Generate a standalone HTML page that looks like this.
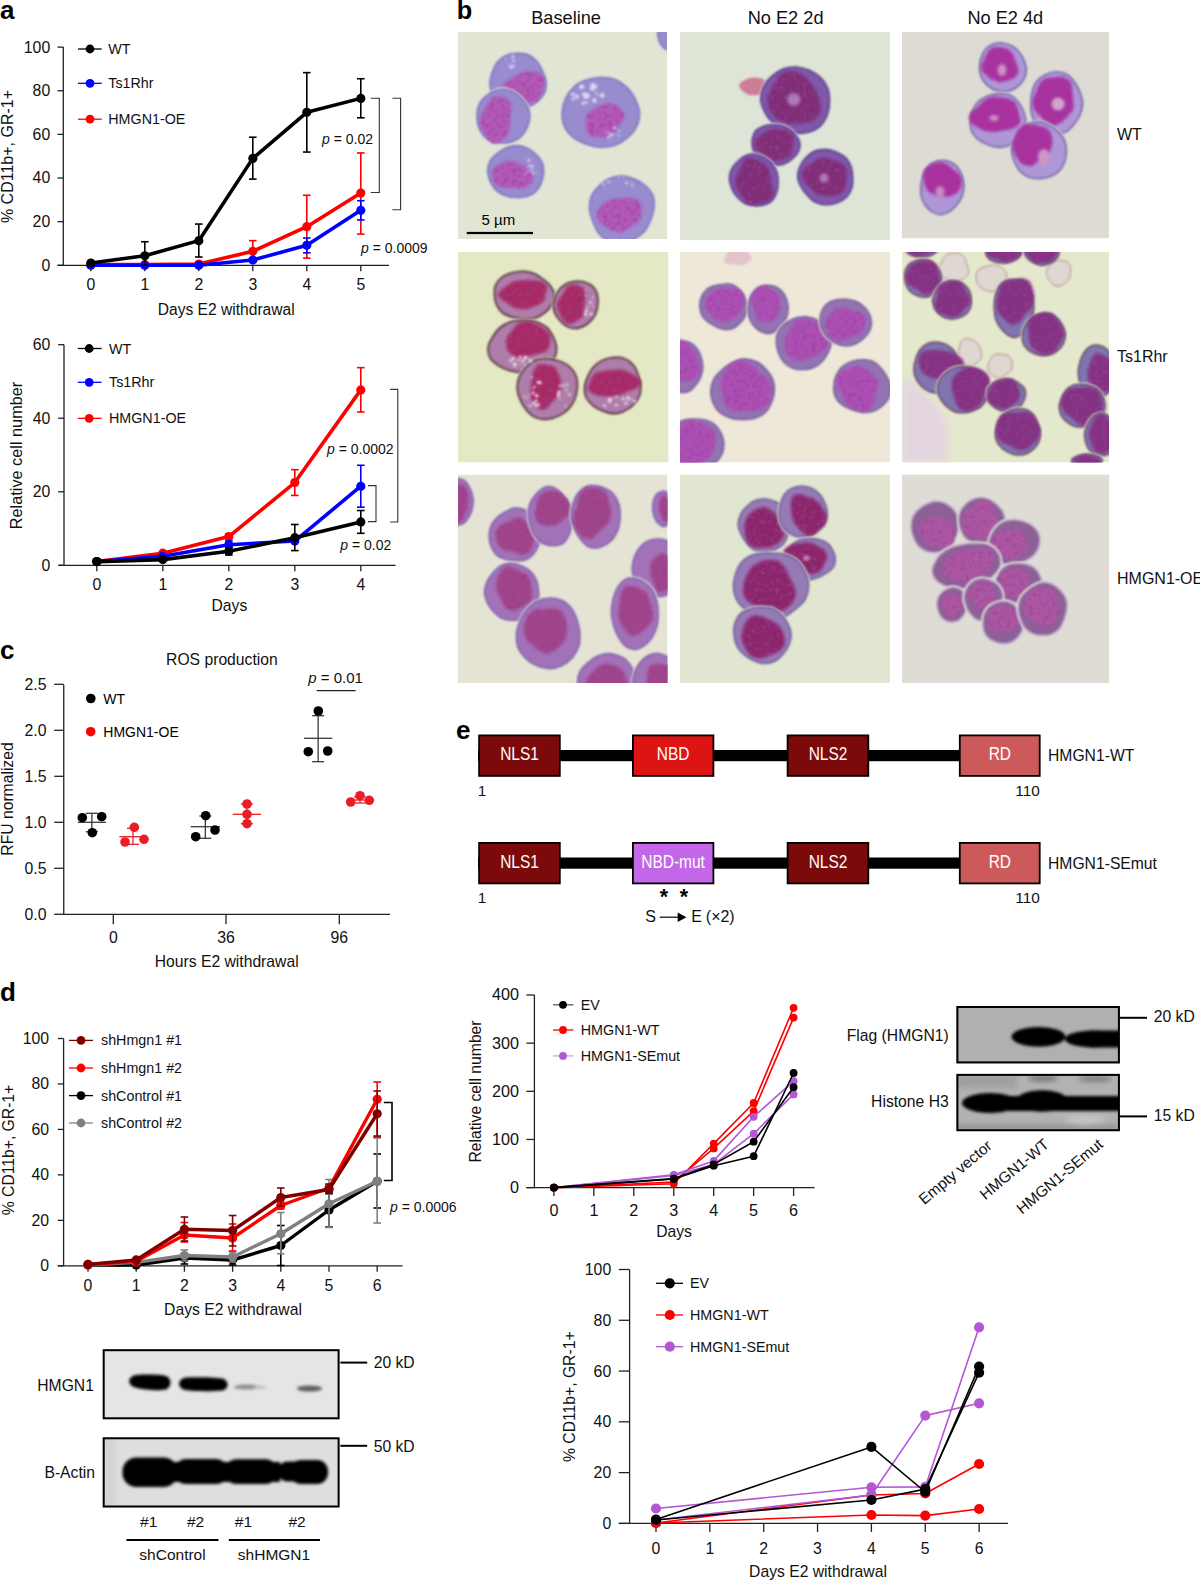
<!DOCTYPE html><html><head><meta charset="utf-8"><style>html,body{margin:0;padding:0;background:#fff;}svg{display:block;}</style></head><body>
<svg width="1200" height="1581" viewBox="0 0 1200 1581" font-family='"Liberation Sans", sans-serif'>
<rect width="1200" height="1581" fill="#fff"/>
<text x="0.0" y="19.3" font-size="26" text-anchor="start" fill="#000" font-weight="bold" font-style="normal" >a</text>
<line x1="63.30" y1="47.10" x2="63.30" y2="265.30" stroke="#222" stroke-width="1.3" />
<line x1="57.50" y1="265.30" x2="63.30" y2="265.30" stroke="#222" stroke-width="1.3" />
<text x="50.2" y="270.7" font-size="15.8" text-anchor="end" fill="#111" font-weight="normal" font-style="normal" >0</text>
<line x1="57.50" y1="221.66" x2="63.30" y2="221.66" stroke="#222" stroke-width="1.3" />
<text x="50.2" y="227.1" font-size="15.8" text-anchor="end" fill="#111" font-weight="normal" font-style="normal" >20</text>
<line x1="57.50" y1="178.02" x2="63.30" y2="178.02" stroke="#222" stroke-width="1.3" />
<text x="50.2" y="183.4" font-size="15.8" text-anchor="end" fill="#111" font-weight="normal" font-style="normal" >40</text>
<line x1="57.50" y1="134.38" x2="63.30" y2="134.38" stroke="#222" stroke-width="1.3" />
<text x="50.2" y="139.8" font-size="15.8" text-anchor="end" fill="#111" font-weight="normal" font-style="normal" >60</text>
<line x1="57.50" y1="90.74" x2="63.30" y2="90.74" stroke="#222" stroke-width="1.3" />
<text x="50.2" y="96.1" font-size="15.8" text-anchor="end" fill="#111" font-weight="normal" font-style="normal" >80</text>
<line x1="57.50" y1="47.10" x2="63.30" y2="47.10" stroke="#222" stroke-width="1.3" />
<text x="50.2" y="52.5" font-size="15.8" text-anchor="end" fill="#111" font-weight="normal" font-style="normal" >100</text>
<line x1="57.50" y1="265.30" x2="389.00" y2="265.30" stroke="#222" stroke-width="1.3" />
<line x1="90.80" y1="265.30" x2="90.80" y2="271.30" stroke="#222" stroke-width="1.3" />
<text x="90.8" y="290.0" font-size="15.8" text-anchor="middle" fill="#111" font-weight="normal" font-style="normal" >0</text>
<line x1="144.80" y1="265.30" x2="144.80" y2="271.30" stroke="#222" stroke-width="1.3" />
<text x="144.8" y="290.0" font-size="15.8" text-anchor="middle" fill="#111" font-weight="normal" font-style="normal" >1</text>
<line x1="198.80" y1="265.30" x2="198.80" y2="271.30" stroke="#222" stroke-width="1.3" />
<text x="198.8" y="290.0" font-size="15.8" text-anchor="middle" fill="#111" font-weight="normal" font-style="normal" >2</text>
<line x1="252.80" y1="265.30" x2="252.80" y2="271.30" stroke="#222" stroke-width="1.3" />
<text x="252.8" y="290.0" font-size="15.8" text-anchor="middle" fill="#111" font-weight="normal" font-style="normal" >3</text>
<line x1="306.80" y1="265.30" x2="306.80" y2="271.30" stroke="#222" stroke-width="1.3" />
<text x="306.8" y="290.0" font-size="15.8" text-anchor="middle" fill="#111" font-weight="normal" font-style="normal" >4</text>
<line x1="360.80" y1="265.30" x2="360.80" y2="271.30" stroke="#222" stroke-width="1.3" />
<text x="360.8" y="290.0" font-size="15.8" text-anchor="middle" fill="#111" font-weight="normal" font-style="normal" >5</text>
<text x="226.2" y="314.8" font-size="15.6" text-anchor="middle" fill="#111" font-weight="normal" font-style="normal" >Days E2 withdrawal</text>
<text x="0" y="0" font-size="16" text-anchor="middle" fill="#111" transform="translate(13.2,156.5) rotate(-90)">% CD11b+, GR-1+</text>
<line x1="252.80" y1="240.64" x2="252.80" y2="262.03" stroke="#ff0000" stroke-width="1.6" />
<line x1="249.00" y1="240.64" x2="256.60" y2="240.64" stroke="#ff0000" stroke-width="1.6" />
<line x1="249.00" y1="262.03" x2="256.60" y2="262.03" stroke="#ff0000" stroke-width="1.6" />
<line x1="306.80" y1="195.26" x2="306.80" y2="258.10" stroke="#ff0000" stroke-width="1.6" />
<line x1="303.00" y1="195.26" x2="310.60" y2="195.26" stroke="#ff0000" stroke-width="1.6" />
<line x1="303.00" y1="258.10" x2="310.60" y2="258.10" stroke="#ff0000" stroke-width="1.6" />
<line x1="360.80" y1="152.93" x2="360.80" y2="234.10" stroke="#ff0000" stroke-width="1.6" />
<line x1="357.00" y1="152.93" x2="364.60" y2="152.93" stroke="#ff0000" stroke-width="1.6" />
<line x1="357.00" y1="234.10" x2="364.60" y2="234.10" stroke="#ff0000" stroke-width="1.6" />
<polyline points="90.80,264.65 144.80,264.65 198.80,263.99 252.80,251.34 306.80,226.68 360.80,193.08" fill="none" stroke="#ff0000" stroke-width="3.6" stroke-linejoin="round" />
<circle cx="90.80" cy="264.65" r="4.6" fill="#ff0000"/>
<circle cx="144.80" cy="264.65" r="4.6" fill="#ff0000"/>
<circle cx="198.80" cy="263.99" r="4.6" fill="#ff0000"/>
<circle cx="252.80" cy="251.34" r="4.6" fill="#ff0000"/>
<circle cx="306.80" cy="226.68" r="4.6" fill="#ff0000"/>
<circle cx="360.80" cy="193.08" r="4.6" fill="#ff0000"/>
<line x1="306.80" y1="238.03" x2="306.80" y2="252.86" stroke="#0000ff" stroke-width="1.6" />
<line x1="303.00" y1="238.03" x2="310.60" y2="238.03" stroke="#0000ff" stroke-width="1.6" />
<line x1="303.00" y1="252.86" x2="310.60" y2="252.86" stroke="#0000ff" stroke-width="1.6" />
<line x1="360.80" y1="200.71" x2="360.80" y2="219.91" stroke="#0000ff" stroke-width="1.6" />
<line x1="357.00" y1="200.71" x2="364.60" y2="200.71" stroke="#0000ff" stroke-width="1.6" />
<line x1="357.00" y1="219.91" x2="364.60" y2="219.91" stroke="#0000ff" stroke-width="1.6" />
<polyline points="90.80,265.30 144.80,265.30 198.80,265.30 252.80,260.06 306.80,245.23 360.80,210.31" fill="none" stroke="#0000ff" stroke-width="3.6" stroke-linejoin="round" />
<circle cx="90.80" cy="265.30" r="4.6" fill="#0000ff"/>
<circle cx="144.80" cy="265.30" r="4.6" fill="#0000ff"/>
<circle cx="198.80" cy="265.30" r="4.6" fill="#0000ff"/>
<circle cx="252.80" cy="260.06" r="4.6" fill="#0000ff"/>
<circle cx="306.80" cy="245.23" r="4.6" fill="#0000ff"/>
<circle cx="360.80" cy="210.31" r="4.6" fill="#0000ff"/>
<line x1="144.80" y1="241.73" x2="144.80" y2="265.30" stroke="#000" stroke-width="1.6" />
<line x1="141.00" y1="241.73" x2="148.60" y2="241.73" stroke="#000" stroke-width="1.6" />
<line x1="141.00" y1="265.30" x2="148.60" y2="265.30" stroke="#000" stroke-width="1.6" />
<line x1="198.80" y1="224.06" x2="198.80" y2="257.01" stroke="#000" stroke-width="1.6" />
<line x1="195.00" y1="224.06" x2="202.60" y2="224.06" stroke="#000" stroke-width="1.6" />
<line x1="195.00" y1="257.01" x2="202.60" y2="257.01" stroke="#000" stroke-width="1.6" />
<line x1="252.80" y1="137.22" x2="252.80" y2="179.11" stroke="#000" stroke-width="1.6" />
<line x1="249.00" y1="137.22" x2="256.60" y2="137.22" stroke="#000" stroke-width="1.6" />
<line x1="249.00" y1="179.11" x2="256.60" y2="179.11" stroke="#000" stroke-width="1.6" />
<line x1="306.80" y1="72.63" x2="306.80" y2="152.05" stroke="#000" stroke-width="1.6" />
<line x1="303.00" y1="72.63" x2="310.60" y2="72.63" stroke="#000" stroke-width="1.6" />
<line x1="303.00" y1="152.05" x2="310.60" y2="152.05" stroke="#000" stroke-width="1.6" />
<line x1="360.80" y1="78.74" x2="360.80" y2="117.80" stroke="#000" stroke-width="1.6" />
<line x1="357.00" y1="78.74" x2="364.60" y2="78.74" stroke="#000" stroke-width="1.6" />
<line x1="357.00" y1="117.80" x2="364.60" y2="117.80" stroke="#000" stroke-width="1.6" />
<polyline points="90.80,263.01 144.80,255.81 198.80,240.64 252.80,158.38 306.80,112.34 360.80,98.38" fill="none" stroke="#000" stroke-width="3.6" stroke-linejoin="round" />
<circle cx="90.80" cy="263.01" r="4.6" fill="#000"/>
<circle cx="144.80" cy="255.81" r="4.6" fill="#000"/>
<circle cx="198.80" cy="240.64" r="4.6" fill="#000"/>
<circle cx="252.80" cy="158.38" r="4.6" fill="#000"/>
<circle cx="306.80" cy="112.34" r="4.6" fill="#000"/>
<circle cx="360.80" cy="98.38" r="4.6" fill="#000"/>
<line x1="78.00" y1="49.00" x2="101.70" y2="49.00" stroke="#000" stroke-width="1.3" />
<circle cx="90.00" cy="49.00" r="4.4" fill="#000"/>
<text x="108.3" y="54.0" font-size="14.3" text-anchor="start" fill="#111" font-weight="normal" font-style="normal" >WT</text>
<line x1="78.00" y1="83.30" x2="101.70" y2="83.30" stroke="#0000ff" stroke-width="1.3" />
<circle cx="90.00" cy="83.30" r="4.4" fill="#0000ff"/>
<text x="108.3" y="88.3" font-size="14.3" text-anchor="start" fill="#111" font-weight="normal" font-style="normal" >Ts1Rhr</text>
<line x1="78.00" y1="119.20" x2="101.70" y2="119.20" stroke="#ff0000" stroke-width="1.3" />
<circle cx="90.00" cy="119.20" r="4.4" fill="#ff0000"/>
<text x="108.3" y="124.2" font-size="14.3" text-anchor="start" fill="#111" font-weight="normal" font-style="normal" >HMGN1-OE</text>
<polyline points="370.7,98.3 379.3,98.3 379.3,192.5 370.7,192.5" fill="none" stroke="#333" stroke-width="1.1"/>
<polyline points="392.4,98.3 400.6,98.3 400.6,209.8 392.4,209.8" fill="none" stroke="#333" stroke-width="1.1"/>
<text x="322.0" y="143.8" font-size="14" text-anchor="start" fill="#111"><tspan font-style="italic">p</tspan> = 0.02</text>
<text x="361.0" y="252.8" font-size="14" text-anchor="start" fill="#111"><tspan font-style="italic">p</tspan> = 0.0009</text>
<line x1="64.00" y1="344.70" x2="64.00" y2="565.30" stroke="#222" stroke-width="1.3" />
<line x1="58.20" y1="565.30" x2="64.00" y2="565.30" stroke="#222" stroke-width="1.3" />
<text x="50.3" y="570.7" font-size="15.8" text-anchor="end" fill="#111" font-weight="normal" font-style="normal" >0</text>
<line x1="58.20" y1="491.76" x2="64.00" y2="491.76" stroke="#222" stroke-width="1.3" />
<text x="50.3" y="497.2" font-size="15.8" text-anchor="end" fill="#111" font-weight="normal" font-style="normal" >20</text>
<line x1="58.20" y1="418.22" x2="64.00" y2="418.22" stroke="#222" stroke-width="1.3" />
<text x="50.3" y="423.6" font-size="15.8" text-anchor="end" fill="#111" font-weight="normal" font-style="normal" >40</text>
<line x1="58.20" y1="344.68" x2="64.00" y2="344.68" stroke="#222" stroke-width="1.3" />
<text x="50.3" y="350.1" font-size="15.8" text-anchor="end" fill="#111" font-weight="normal" font-style="normal" >60</text>
<line x1="58.50" y1="565.30" x2="395.60" y2="565.30" stroke="#222" stroke-width="1.3" />
<line x1="96.80" y1="565.30" x2="96.80" y2="571.30" stroke="#222" stroke-width="1.3" />
<text x="96.8" y="590.3" font-size="15.8" text-anchor="middle" fill="#111" font-weight="normal" font-style="normal" >0</text>
<line x1="162.80" y1="565.30" x2="162.80" y2="571.30" stroke="#222" stroke-width="1.3" />
<text x="162.8" y="590.3" font-size="15.8" text-anchor="middle" fill="#111" font-weight="normal" font-style="normal" >1</text>
<line x1="228.80" y1="565.30" x2="228.80" y2="571.30" stroke="#222" stroke-width="1.3" />
<text x="228.8" y="590.3" font-size="15.8" text-anchor="middle" fill="#111" font-weight="normal" font-style="normal" >2</text>
<line x1="294.80" y1="565.30" x2="294.80" y2="571.30" stroke="#222" stroke-width="1.3" />
<text x="294.8" y="590.3" font-size="15.8" text-anchor="middle" fill="#111" font-weight="normal" font-style="normal" >3</text>
<line x1="360.80" y1="565.30" x2="360.80" y2="571.30" stroke="#222" stroke-width="1.3" />
<text x="360.8" y="590.3" font-size="15.8" text-anchor="middle" fill="#111" font-weight="normal" font-style="normal" >4</text>
<text x="229.4" y="610.9" font-size="15.7" text-anchor="middle" fill="#111" font-weight="normal" font-style="normal" >Days</text>
<text x="0" y="0" font-size="16.3" text-anchor="middle" fill="#111" transform="translate(21.5,455.5) rotate(-90)">Relative cell number</text>
<line x1="228.80" y1="534.05" x2="228.80" y2="539.19" stroke="#ff0000" stroke-width="1.6" />
<line x1="225.00" y1="534.05" x2="232.60" y2="534.05" stroke="#ff0000" stroke-width="1.6" />
<line x1="225.00" y1="539.19" x2="232.60" y2="539.19" stroke="#ff0000" stroke-width="1.6" />
<line x1="294.80" y1="469.70" x2="294.80" y2="495.44" stroke="#ff0000" stroke-width="1.6" />
<line x1="291.00" y1="469.70" x2="298.60" y2="469.70" stroke="#ff0000" stroke-width="1.6" />
<line x1="291.00" y1="495.44" x2="298.60" y2="495.44" stroke="#ff0000" stroke-width="1.6" />
<line x1="360.80" y1="367.66" x2="360.80" y2="411.97" stroke="#ff0000" stroke-width="1.6" />
<line x1="357.00" y1="367.66" x2="364.60" y2="367.66" stroke="#ff0000" stroke-width="1.6" />
<line x1="357.00" y1="411.97" x2="364.60" y2="411.97" stroke="#ff0000" stroke-width="1.6" />
<polyline points="96.80,561.62 162.80,553.17 228.80,536.62 294.80,482.57 360.80,389.91" fill="none" stroke="#ff0000" stroke-width="3.6" stroke-linejoin="round" />
<circle cx="96.80" cy="561.62" r="4.6" fill="#ff0000"/>
<circle cx="162.80" cy="553.17" r="4.6" fill="#ff0000"/>
<circle cx="228.80" cy="536.62" r="4.6" fill="#ff0000"/>
<circle cx="294.80" cy="482.57" r="4.6" fill="#ff0000"/>
<circle cx="360.80" cy="389.91" r="4.6" fill="#ff0000"/>
<line x1="228.80" y1="541.03" x2="228.80" y2="548.39" stroke="#0000ff" stroke-width="1.6" />
<line x1="225.00" y1="541.03" x2="232.60" y2="541.03" stroke="#0000ff" stroke-width="1.6" />
<line x1="225.00" y1="548.39" x2="232.60" y2="548.39" stroke="#0000ff" stroke-width="1.6" />
<line x1="360.80" y1="465.29" x2="360.80" y2="507.20" stroke="#0000ff" stroke-width="1.6" />
<line x1="357.00" y1="465.29" x2="364.60" y2="465.29" stroke="#0000ff" stroke-width="1.6" />
<line x1="357.00" y1="507.20" x2="364.60" y2="507.20" stroke="#0000ff" stroke-width="1.6" />
<polyline points="96.80,561.62 162.80,556.29 228.80,544.71 294.80,541.03 360.80,486.24" fill="none" stroke="#0000ff" stroke-width="3.6" stroke-linejoin="round" />
<circle cx="96.80" cy="561.62" r="4.6" fill="#0000ff"/>
<circle cx="162.80" cy="556.29" r="4.6" fill="#0000ff"/>
<circle cx="228.80" cy="544.71" r="4.6" fill="#0000ff"/>
<circle cx="294.80" cy="541.03" r="4.6" fill="#0000ff"/>
<circle cx="360.80" cy="486.24" r="4.6" fill="#0000ff"/>
<line x1="228.80" y1="547.65" x2="228.80" y2="555.00" stroke="#000" stroke-width="1.6" />
<line x1="225.00" y1="547.65" x2="232.60" y2="547.65" stroke="#000" stroke-width="1.6" />
<line x1="225.00" y1="555.00" x2="232.60" y2="555.00" stroke="#000" stroke-width="1.6" />
<line x1="294.80" y1="524.49" x2="294.80" y2="550.59" stroke="#000" stroke-width="1.6" />
<line x1="291.00" y1="524.49" x2="298.60" y2="524.49" stroke="#000" stroke-width="1.6" />
<line x1="291.00" y1="550.59" x2="298.60" y2="550.59" stroke="#000" stroke-width="1.6" />
<line x1="360.80" y1="510.51" x2="360.80" y2="533.31" stroke="#000" stroke-width="1.6" />
<line x1="357.00" y1="510.51" x2="364.60" y2="510.51" stroke="#000" stroke-width="1.6" />
<line x1="357.00" y1="533.31" x2="364.60" y2="533.31" stroke="#000" stroke-width="1.6" />
<polyline points="96.80,561.62 162.80,559.60 228.80,551.33 294.80,537.72 360.80,521.91" fill="none" stroke="#000" stroke-width="3.6" stroke-linejoin="round" />
<circle cx="96.80" cy="561.62" r="4.6" fill="#000"/>
<circle cx="162.80" cy="559.60" r="4.6" fill="#000"/>
<circle cx="228.80" cy="551.33" r="4.6" fill="#000"/>
<circle cx="294.80" cy="537.72" r="4.6" fill="#000"/>
<circle cx="360.80" cy="521.91" r="4.6" fill="#000"/>
<line x1="77.80" y1="348.50" x2="101.60" y2="348.50" stroke="#000" stroke-width="1.3" />
<circle cx="89.20" cy="348.50" r="4.4" fill="#000"/>
<text x="109.0" y="353.5" font-size="14.3" text-anchor="start" fill="#111" font-weight="normal" font-style="normal" >WT</text>
<line x1="77.80" y1="382.30" x2="101.60" y2="382.30" stroke="#0000ff" stroke-width="1.3" />
<circle cx="89.20" cy="382.30" r="4.4" fill="#0000ff"/>
<text x="109.0" y="387.3" font-size="14.3" text-anchor="start" fill="#111" font-weight="normal" font-style="normal" >Ts1Rhr</text>
<line x1="77.80" y1="418.30" x2="101.60" y2="418.30" stroke="#ff0000" stroke-width="1.3" />
<circle cx="89.20" cy="418.30" r="4.4" fill="#ff0000"/>
<text x="109.0" y="423.3" font-size="14.3" text-anchor="start" fill="#111" font-weight="normal" font-style="normal" >HMGN1-OE</text>
<polyline points="368.0,485.6 376.0,485.6 376.0,521.6 368.0,521.6" fill="none" stroke="#333" stroke-width="1.1"/>
<polyline points="390.2,389.4 397.8,389.4 397.8,522.0 390.2,522.0" fill="none" stroke="#333" stroke-width="1.1"/>
<text x="327.0" y="453.8" font-size="14" text-anchor="start" fill="#111"><tspan font-style="italic">p</tspan> = 0.0002</text>
<text x="340.3" y="549.7" font-size="14" text-anchor="start" fill="#111"><tspan font-style="italic">p</tspan> = 0.02</text>
<text x="0.0" y="658.5" font-size="26" text-anchor="start" fill="#000" font-weight="bold" font-style="normal" >c</text>
<text x="221.9" y="664.6" font-size="15.7" text-anchor="middle" fill="#111" font-weight="normal" font-style="normal" >ROS production</text>
<line x1="63.75" y1="684.80" x2="63.75" y2="914.30" stroke="#222" stroke-width="1.3" />
<line x1="54.25" y1="914.30" x2="63.75" y2="914.30" stroke="#222" stroke-width="1.3" />
<text x="46.5" y="919.7" font-size="15.8" text-anchor="end" fill="#111" font-weight="normal" font-style="normal" >0.0</text>
<line x1="54.25" y1="868.30" x2="63.75" y2="868.30" stroke="#222" stroke-width="1.3" />
<text x="46.5" y="873.7" font-size="15.8" text-anchor="end" fill="#111" font-weight="normal" font-style="normal" >0.5</text>
<line x1="54.25" y1="822.30" x2="63.75" y2="822.30" stroke="#222" stroke-width="1.3" />
<text x="46.5" y="827.7" font-size="15.8" text-anchor="end" fill="#111" font-weight="normal" font-style="normal" >1.0</text>
<line x1="54.25" y1="776.30" x2="63.75" y2="776.30" stroke="#222" stroke-width="1.3" />
<text x="46.5" y="781.7" font-size="15.8" text-anchor="end" fill="#111" font-weight="normal" font-style="normal" >1.5</text>
<line x1="54.25" y1="730.30" x2="63.75" y2="730.30" stroke="#222" stroke-width="1.3" />
<text x="46.5" y="735.7" font-size="15.8" text-anchor="end" fill="#111" font-weight="normal" font-style="normal" >2.0</text>
<line x1="54.25" y1="684.30" x2="63.75" y2="684.30" stroke="#222" stroke-width="1.3" />
<text x="46.5" y="689.7" font-size="15.8" text-anchor="end" fill="#111" font-weight="normal" font-style="normal" >2.5</text>
<line x1="63.30" y1="914.30" x2="390.00" y2="914.30" stroke="#222" stroke-width="1.3" />
<line x1="113.30" y1="914.30" x2="113.30" y2="924.30" stroke="#222" stroke-width="1.3" />
<text x="113.3" y="943.3" font-size="15.8" text-anchor="middle" fill="#111" font-weight="normal" font-style="normal" >0</text>
<line x1="226.00" y1="914.30" x2="226.00" y2="924.30" stroke="#222" stroke-width="1.3" />
<text x="226.0" y="943.3" font-size="15.8" text-anchor="middle" fill="#111" font-weight="normal" font-style="normal" >36</text>
<line x1="339.30" y1="914.30" x2="339.30" y2="924.30" stroke="#222" stroke-width="1.3" />
<text x="339.3" y="943.3" font-size="15.8" text-anchor="middle" fill="#111" font-weight="normal" font-style="normal" >96</text>
<text x="226.7" y="966.7" font-size="15.7" text-anchor="middle" fill="#111" font-weight="normal" font-style="normal" >Hours E2 withdrawal</text>
<text x="0" y="0" font-size="15.7" text-anchor="middle" fill="#111" transform="translate(13.0,799.0) rotate(-90)">RFU normalized</text>
<circle cx="90.80" cy="698.50" r="4.8" fill="#000"/>
<text x="103.3" y="704.0" font-size="14" text-anchor="start" fill="#000" font-weight="normal" font-style="normal" >WT</text>
<circle cx="90.70" cy="731.70" r="4.8" fill="#ff0000"/>
<text x="103.3" y="736.7" font-size="14" text-anchor="start" fill="#000" font-weight="normal" font-style="normal" >HMGN1-OE</text>
<line x1="77.70" y1="822.30" x2="106.00" y2="822.30" stroke="#3a3a3a" stroke-width="1.3" />
<line x1="91.85" y1="813.30" x2="91.85" y2="831.70" stroke="#3a3a3a" stroke-width="1.3" />
<line x1="85.85" y1="813.30" x2="97.85" y2="813.30" stroke="#3a3a3a" stroke-width="1.3" />
<line x1="85.85" y1="831.70" x2="97.85" y2="831.70" stroke="#3a3a3a" stroke-width="1.3" />
<circle cx="82.30" cy="817.70" r="4.8" fill="#000"/>
<circle cx="101.70" cy="816.70" r="4.8" fill="#000"/>
<circle cx="92.30" cy="832.70" r="4.8" fill="#000"/>
<line x1="119.30" y1="836.70" x2="146.70" y2="836.70" stroke="#ec1c24" stroke-width="1.3" />
<line x1="133.00" y1="828.30" x2="133.00" y2="844.30" stroke="#ec1c24" stroke-width="1.3" />
<line x1="127.00" y1="828.30" x2="139.00" y2="828.30" stroke="#ec1c24" stroke-width="1.3" />
<line x1="127.00" y1="844.30" x2="139.00" y2="844.30" stroke="#ec1c24" stroke-width="1.3" />
<circle cx="125.00" cy="842.00" r="4.8" fill="#ec1c24"/>
<circle cx="134.30" cy="827.30" r="4.8" fill="#ec1c24"/>
<circle cx="144.00" cy="839.30" r="4.8" fill="#ec1c24"/>
<line x1="190.70" y1="826.70" x2="220.00" y2="826.70" stroke="#3a3a3a" stroke-width="1.3" />
<line x1="205.35" y1="816.00" x2="205.35" y2="838.30" stroke="#3a3a3a" stroke-width="1.3" />
<line x1="199.35" y1="816.00" x2="211.35" y2="816.00" stroke="#3a3a3a" stroke-width="1.3" />
<line x1="199.35" y1="838.30" x2="211.35" y2="838.30" stroke="#3a3a3a" stroke-width="1.3" />
<circle cx="195.70" cy="836.70" r="4.8" fill="#000"/>
<circle cx="205.70" cy="815.70" r="4.8" fill="#000"/>
<circle cx="215.00" cy="830.00" r="4.8" fill="#000"/>
<line x1="232.70" y1="814.30" x2="261.00" y2="814.30" stroke="#ec1c24" stroke-width="1.3" />
<line x1="246.85" y1="804.00" x2="246.85" y2="823.70" stroke="#ec1c24" stroke-width="1.3" />
<line x1="240.85" y1="804.00" x2="252.85" y2="804.00" stroke="#ec1c24" stroke-width="1.3" />
<line x1="240.85" y1="823.70" x2="252.85" y2="823.70" stroke="#ec1c24" stroke-width="1.3" />
<circle cx="247.00" cy="804.00" r="4.8" fill="#ec1c24"/>
<circle cx="247.00" cy="814.30" r="4.8" fill="#ec1c24"/>
<circle cx="247.00" cy="823.70" r="4.8" fill="#ec1c24"/>
<line x1="304.00" y1="738.30" x2="332.30" y2="738.30" stroke="#3a3a3a" stroke-width="1.3" />
<line x1="318.15" y1="715.70" x2="318.15" y2="761.70" stroke="#3a3a3a" stroke-width="1.3" />
<line x1="312.15" y1="715.70" x2="324.15" y2="715.70" stroke="#3a3a3a" stroke-width="1.3" />
<line x1="312.15" y1="761.70" x2="324.15" y2="761.70" stroke="#3a3a3a" stroke-width="1.3" />
<circle cx="318.30" cy="711.00" r="4.8" fill="#000"/>
<circle cx="308.30" cy="751.70" r="4.8" fill="#000"/>
<circle cx="327.70" cy="751.00" r="4.8" fill="#000"/>
<line x1="348.00" y1="800.00" x2="372.00" y2="800.00" stroke="#ec1c24" stroke-width="1.3" />
<line x1="360.00" y1="797.00" x2="360.00" y2="803.00" stroke="#ec1c24" stroke-width="1.3" />
<line x1="354.00" y1="797.00" x2="366.00" y2="797.00" stroke="#ec1c24" stroke-width="1.3" />
<line x1="354.00" y1="803.00" x2="366.00" y2="803.00" stroke="#ec1c24" stroke-width="1.3" />
<circle cx="350.70" cy="802.00" r="4.8" fill="#ec1c24"/>
<circle cx="360.00" cy="795.70" r="4.8" fill="#ec1c24"/>
<circle cx="369.30" cy="800.30" r="4.8" fill="#ec1c24"/>
<text x="308.3" y="683.3" font-size="15" text-anchor="start" fill="#111"><tspan font-style="italic">p</tspan> = 0.01</text>
<line x1="316.70" y1="690.70" x2="355.70" y2="690.70" stroke="#222" stroke-width="1.3" />
<text x="0.0" y="1000.6" font-size="26" text-anchor="start" fill="#000" font-weight="bold" font-style="normal" >d</text>
<line x1="63.60" y1="1038.50" x2="63.60" y2="1265.80" stroke="#222" stroke-width="1.3" />
<line x1="57.80" y1="1265.80" x2="63.60" y2="1265.80" stroke="#222" stroke-width="1.3" />
<text x="49.0" y="1271.2" font-size="15.8" text-anchor="end" fill="#111" font-weight="normal" font-style="normal" >0</text>
<line x1="57.80" y1="1220.34" x2="63.60" y2="1220.34" stroke="#222" stroke-width="1.3" />
<text x="49.0" y="1225.7" font-size="15.8" text-anchor="end" fill="#111" font-weight="normal" font-style="normal" >20</text>
<line x1="57.80" y1="1174.88" x2="63.60" y2="1174.88" stroke="#222" stroke-width="1.3" />
<text x="49.0" y="1180.3" font-size="15.8" text-anchor="end" fill="#111" font-weight="normal" font-style="normal" >40</text>
<line x1="57.80" y1="1129.42" x2="63.60" y2="1129.42" stroke="#222" stroke-width="1.3" />
<text x="49.0" y="1134.8" font-size="15.8" text-anchor="end" fill="#111" font-weight="normal" font-style="normal" >60</text>
<line x1="57.80" y1="1083.96" x2="63.60" y2="1083.96" stroke="#222" stroke-width="1.3" />
<text x="49.0" y="1089.4" font-size="15.8" text-anchor="end" fill="#111" font-weight="normal" font-style="normal" >80</text>
<line x1="57.80" y1="1038.50" x2="63.60" y2="1038.50" stroke="#222" stroke-width="1.3" />
<text x="49.0" y="1043.9" font-size="15.8" text-anchor="end" fill="#111" font-weight="normal" font-style="normal" >100</text>
<line x1="57.80" y1="1265.80" x2="402.50" y2="1265.80" stroke="#222" stroke-width="1.3" />
<line x1="88.00" y1="1265.80" x2="88.00" y2="1271.80" stroke="#222" stroke-width="1.3" />
<text x="88.0" y="1290.5" font-size="15.8" text-anchor="middle" fill="#111" font-weight="normal" font-style="normal" >0</text>
<line x1="136.20" y1="1265.80" x2="136.20" y2="1271.80" stroke="#222" stroke-width="1.3" />
<text x="136.2" y="1290.5" font-size="15.8" text-anchor="middle" fill="#111" font-weight="normal" font-style="normal" >1</text>
<line x1="184.40" y1="1265.80" x2="184.40" y2="1271.80" stroke="#222" stroke-width="1.3" />
<text x="184.4" y="1290.5" font-size="15.8" text-anchor="middle" fill="#111" font-weight="normal" font-style="normal" >2</text>
<line x1="232.60" y1="1265.80" x2="232.60" y2="1271.80" stroke="#222" stroke-width="1.3" />
<text x="232.6" y="1290.5" font-size="15.8" text-anchor="middle" fill="#111" font-weight="normal" font-style="normal" >3</text>
<line x1="280.80" y1="1265.80" x2="280.80" y2="1271.80" stroke="#222" stroke-width="1.3" />
<text x="280.8" y="1290.5" font-size="15.8" text-anchor="middle" fill="#111" font-weight="normal" font-style="normal" >4</text>
<line x1="329.00" y1="1265.80" x2="329.00" y2="1271.80" stroke="#222" stroke-width="1.3" />
<text x="329.0" y="1290.5" font-size="15.8" text-anchor="middle" fill="#111" font-weight="normal" font-style="normal" >5</text>
<line x1="377.20" y1="1265.80" x2="377.20" y2="1271.80" stroke="#222" stroke-width="1.3" />
<text x="377.2" y="1290.5" font-size="15.8" text-anchor="middle" fill="#111" font-weight="normal" font-style="normal" >6</text>
<text x="233.0" y="1315.0" font-size="15.7" text-anchor="middle" fill="#111" font-weight="normal" font-style="normal" >Days E2 withdrawal</text>
<text x="0" y="0" font-size="15.7" text-anchor="middle" fill="#111" transform="translate(14.0,1150.0) rotate(-90)">% CD11b+, GR-1+</text>
<line x1="184.40" y1="1254.00" x2="184.40" y2="1264.00" stroke="#000" stroke-width="1.6" />
<line x1="180.60" y1="1254.00" x2="188.20" y2="1254.00" stroke="#000" stroke-width="1.6" />
<line x1="180.60" y1="1264.00" x2="188.20" y2="1264.00" stroke="#000" stroke-width="1.6" />
<line x1="232.60" y1="1255.00" x2="232.60" y2="1265.00" stroke="#000" stroke-width="1.6" />
<line x1="228.80" y1="1255.00" x2="236.40" y2="1255.00" stroke="#000" stroke-width="1.6" />
<line x1="228.80" y1="1265.00" x2="236.40" y2="1265.00" stroke="#000" stroke-width="1.6" />
<line x1="280.80" y1="1225.50" x2="280.80" y2="1265.50" stroke="#000" stroke-width="1.6" />
<line x1="277.00" y1="1225.50" x2="284.60" y2="1225.50" stroke="#000" stroke-width="1.6" />
<line x1="277.00" y1="1265.50" x2="284.60" y2="1265.50" stroke="#000" stroke-width="1.6" />
<line x1="329.00" y1="1193.75" x2="329.00" y2="1227.00" stroke="#000" stroke-width="1.6" />
<line x1="325.20" y1="1193.75" x2="332.80" y2="1193.75" stroke="#000" stroke-width="1.6" />
<line x1="325.20" y1="1227.00" x2="332.80" y2="1227.00" stroke="#000" stroke-width="1.6" />
<line x1="377.20" y1="1154.00" x2="377.20" y2="1208.00" stroke="#000" stroke-width="1.6" />
<line x1="373.40" y1="1154.00" x2="381.00" y2="1154.00" stroke="#000" stroke-width="1.6" />
<line x1="373.40" y1="1208.00" x2="381.00" y2="1208.00" stroke="#000" stroke-width="1.6" />
<polyline points="88.00,1265.12 136.20,1265.12 184.40,1258.00 232.60,1260.00 280.80,1245.50 329.00,1210.00 377.20,1181.25" fill="none" stroke="#000" stroke-width="3.4" stroke-linejoin="round" />
<circle cx="88.00" cy="1265.12" r="4.6" fill="#000"/>
<circle cx="136.20" cy="1265.12" r="4.6" fill="#000"/>
<circle cx="184.40" cy="1258.00" r="4.6" fill="#000"/>
<circle cx="232.60" cy="1260.00" r="4.6" fill="#000"/>
<circle cx="280.80" cy="1245.50" r="4.6" fill="#000"/>
<circle cx="329.00" cy="1210.00" r="4.6" fill="#000"/>
<circle cx="377.20" cy="1181.25" r="4.6" fill="#000"/>
<line x1="184.40" y1="1250.00" x2="184.40" y2="1261.00" stroke="#808080" stroke-width="1.6" />
<line x1="180.60" y1="1250.00" x2="188.20" y2="1250.00" stroke="#808080" stroke-width="1.6" />
<line x1="180.60" y1="1261.00" x2="188.20" y2="1261.00" stroke="#808080" stroke-width="1.6" />
<line x1="232.60" y1="1252.00" x2="232.60" y2="1262.00" stroke="#808080" stroke-width="1.6" />
<line x1="228.80" y1="1252.00" x2="236.40" y2="1252.00" stroke="#808080" stroke-width="1.6" />
<line x1="228.80" y1="1262.00" x2="236.40" y2="1262.00" stroke="#808080" stroke-width="1.6" />
<line x1="280.80" y1="1212.50" x2="280.80" y2="1253.75" stroke="#808080" stroke-width="1.6" />
<line x1="277.00" y1="1212.50" x2="284.60" y2="1212.50" stroke="#808080" stroke-width="1.6" />
<line x1="277.00" y1="1253.75" x2="284.60" y2="1253.75" stroke="#808080" stroke-width="1.6" />
<line x1="329.00" y1="1179.50" x2="329.00" y2="1227.50" stroke="#808080" stroke-width="1.6" />
<line x1="325.20" y1="1179.50" x2="332.80" y2="1179.50" stroke="#808080" stroke-width="1.6" />
<line x1="325.20" y1="1227.50" x2="332.80" y2="1227.50" stroke="#808080" stroke-width="1.6" />
<line x1="377.20" y1="1138.00" x2="377.20" y2="1223.00" stroke="#808080" stroke-width="1.6" />
<line x1="373.40" y1="1138.00" x2="381.00" y2="1138.00" stroke="#808080" stroke-width="1.6" />
<line x1="373.40" y1="1223.00" x2="381.00" y2="1223.00" stroke="#808080" stroke-width="1.6" />
<polyline points="88.00,1265.12 136.20,1262.39 184.40,1255.50 232.60,1257.00 280.80,1233.75 329.00,1203.75 377.20,1181.25" fill="none" stroke="#808080" stroke-width="3.4" stroke-linejoin="round" />
<circle cx="88.00" cy="1265.12" r="4.6" fill="#808080"/>
<circle cx="136.20" cy="1262.39" r="4.6" fill="#808080"/>
<circle cx="184.40" cy="1255.50" r="4.6" fill="#808080"/>
<circle cx="232.60" cy="1257.00" r="4.6" fill="#808080"/>
<circle cx="280.80" cy="1233.75" r="4.6" fill="#808080"/>
<circle cx="329.00" cy="1203.75" r="4.6" fill="#808080"/>
<circle cx="377.20" cy="1181.25" r="4.6" fill="#808080"/>
<line x1="184.40" y1="1222.50" x2="184.40" y2="1242.00" stroke="#ff0000" stroke-width="1.6" />
<line x1="180.60" y1="1222.50" x2="188.20" y2="1222.50" stroke="#ff0000" stroke-width="1.6" />
<line x1="180.60" y1="1242.00" x2="188.20" y2="1242.00" stroke="#ff0000" stroke-width="1.6" />
<line x1="232.60" y1="1224.00" x2="232.60" y2="1251.00" stroke="#ff0000" stroke-width="1.6" />
<line x1="228.80" y1="1224.00" x2="236.40" y2="1224.00" stroke="#ff0000" stroke-width="1.6" />
<line x1="228.80" y1="1251.00" x2="236.40" y2="1251.00" stroke="#ff0000" stroke-width="1.6" />
<line x1="280.80" y1="1202.00" x2="280.80" y2="1209.00" stroke="#ff0000" stroke-width="1.6" />
<line x1="277.00" y1="1202.00" x2="284.60" y2="1202.00" stroke="#ff0000" stroke-width="1.6" />
<line x1="277.00" y1="1209.00" x2="284.60" y2="1209.00" stroke="#ff0000" stroke-width="1.6" />
<line x1="329.00" y1="1185.00" x2="329.00" y2="1191.00" stroke="#ff0000" stroke-width="1.6" />
<line x1="325.20" y1="1185.00" x2="332.80" y2="1185.00" stroke="#ff0000" stroke-width="1.6" />
<line x1="325.20" y1="1191.00" x2="332.80" y2="1191.00" stroke="#ff0000" stroke-width="1.6" />
<line x1="377.20" y1="1082.00" x2="377.20" y2="1137.00" stroke="#ff0000" stroke-width="1.6" />
<line x1="373.40" y1="1082.00" x2="381.00" y2="1082.00" stroke="#ff0000" stroke-width="1.6" />
<line x1="373.40" y1="1137.00" x2="381.00" y2="1137.00" stroke="#ff0000" stroke-width="1.6" />
<polyline points="88.00,1264.44 136.20,1261.25 184.40,1235.00 232.60,1238.00 280.80,1205.50 329.00,1188.00 377.20,1099.25" fill="none" stroke="#ff0000" stroke-width="3.4" stroke-linejoin="round" />
<circle cx="88.00" cy="1264.44" r="4.6" fill="#ff0000"/>
<circle cx="136.20" cy="1261.25" r="4.6" fill="#ff0000"/>
<circle cx="184.40" cy="1235.00" r="4.6" fill="#ff0000"/>
<circle cx="232.60" cy="1238.00" r="4.6" fill="#ff0000"/>
<circle cx="280.80" cy="1205.50" r="4.6" fill="#ff0000"/>
<circle cx="329.00" cy="1188.00" r="4.6" fill="#ff0000"/>
<circle cx="377.20" cy="1099.25" r="4.6" fill="#ff0000"/>
<line x1="136.20" y1="1259.00" x2="136.20" y2="1266.00" stroke="#800000" stroke-width="1.6" />
<line x1="132.40" y1="1259.00" x2="140.00" y2="1259.00" stroke="#800000" stroke-width="1.6" />
<line x1="132.40" y1="1266.00" x2="140.00" y2="1266.00" stroke="#800000" stroke-width="1.6" />
<line x1="184.40" y1="1217.00" x2="184.40" y2="1241.00" stroke="#800000" stroke-width="1.6" />
<line x1="180.60" y1="1217.00" x2="188.20" y2="1217.00" stroke="#800000" stroke-width="1.6" />
<line x1="180.60" y1="1241.00" x2="188.20" y2="1241.00" stroke="#800000" stroke-width="1.6" />
<line x1="232.60" y1="1215.50" x2="232.60" y2="1246.00" stroke="#800000" stroke-width="1.6" />
<line x1="228.80" y1="1215.50" x2="236.40" y2="1215.50" stroke="#800000" stroke-width="1.6" />
<line x1="228.80" y1="1246.00" x2="236.40" y2="1246.00" stroke="#800000" stroke-width="1.6" />
<line x1="280.80" y1="1188.00" x2="280.80" y2="1206.00" stroke="#800000" stroke-width="1.6" />
<line x1="277.00" y1="1188.00" x2="284.60" y2="1188.00" stroke="#800000" stroke-width="1.6" />
<line x1="277.00" y1="1206.00" x2="284.60" y2="1206.00" stroke="#800000" stroke-width="1.6" />
<line x1="329.00" y1="1184.00" x2="329.00" y2="1192.50" stroke="#800000" stroke-width="1.6" />
<line x1="325.20" y1="1184.00" x2="332.80" y2="1184.00" stroke="#800000" stroke-width="1.6" />
<line x1="325.20" y1="1192.50" x2="332.80" y2="1192.50" stroke="#800000" stroke-width="1.6" />
<line x1="377.20" y1="1091.00" x2="377.20" y2="1136.00" stroke="#800000" stroke-width="1.6" />
<line x1="373.40" y1="1091.00" x2="381.00" y2="1091.00" stroke="#800000" stroke-width="1.6" />
<line x1="373.40" y1="1136.00" x2="381.00" y2="1136.00" stroke="#800000" stroke-width="1.6" />
<polyline points="88.00,1264.44 136.20,1259.89 184.40,1229.25 232.60,1230.50 280.80,1197.50 329.00,1189.50 377.20,1113.75" fill="none" stroke="#800000" stroke-width="3.4" stroke-linejoin="round" />
<circle cx="88.00" cy="1264.44" r="4.6" fill="#800000"/>
<circle cx="136.20" cy="1259.89" r="4.6" fill="#800000"/>
<circle cx="184.40" cy="1229.25" r="4.6" fill="#800000"/>
<circle cx="232.60" cy="1230.50" r="4.6" fill="#800000"/>
<circle cx="280.80" cy="1197.50" r="4.6" fill="#800000"/>
<circle cx="329.00" cy="1189.50" r="4.6" fill="#800000"/>
<circle cx="377.20" cy="1113.75" r="4.6" fill="#800000"/>
<line x1="69.00" y1="1040.40" x2="93.00" y2="1040.40" stroke="#800000" stroke-width="1.3" />
<circle cx="81.00" cy="1040.40" r="4.4" fill="#800000"/>
<text x="101.0" y="1045.4" font-size="14.3" text-anchor="start" fill="#111" font-weight="normal" font-style="normal" >shHmgn1 #1</text>
<line x1="69.00" y1="1068.00" x2="93.00" y2="1068.00" stroke="#ff0000" stroke-width="1.3" />
<circle cx="81.00" cy="1068.00" r="4.4" fill="#ff0000"/>
<text x="101.0" y="1073.0" font-size="14.3" text-anchor="start" fill="#111" font-weight="normal" font-style="normal" >shHmgn1 #2</text>
<line x1="69.00" y1="1095.60" x2="93.00" y2="1095.60" stroke="#000" stroke-width="1.3" />
<circle cx="81.00" cy="1095.60" r="4.4" fill="#000"/>
<text x="101.0" y="1100.6" font-size="14.3" text-anchor="start" fill="#111" font-weight="normal" font-style="normal" >shControl #1</text>
<line x1="69.00" y1="1123.00" x2="93.00" y2="1123.00" stroke="#808080" stroke-width="1.3" />
<circle cx="81.00" cy="1123.00" r="4.4" fill="#808080"/>
<text x="101.0" y="1128.0" font-size="14.3" text-anchor="start" fill="#111" font-weight="normal" font-style="normal" >shControl #2</text>
<polyline points="383.8,1102.5 392.0,1102.5 392.0,1180.5 383.8,1180.5" fill="none" stroke="#000" stroke-width="1.6"/>
<text x="390.0" y="1212.0" font-size="14" text-anchor="start" fill="#111"><tspan font-style="italic">p</tspan> = 0.0006</text>
<line x1="534.40" y1="995.00" x2="534.40" y2="1187.60" stroke="#222" stroke-width="1.3" />
<line x1="526.40" y1="1187.60" x2="534.40" y2="1187.60" stroke="#222" stroke-width="1.3" />
<text x="519.0" y="1193.0" font-size="16.2" text-anchor="end" fill="#111" font-weight="normal" font-style="normal" >0</text>
<line x1="526.40" y1="1139.45" x2="534.40" y2="1139.45" stroke="#222" stroke-width="1.3" />
<text x="519.0" y="1144.8" font-size="16.2" text-anchor="end" fill="#111" font-weight="normal" font-style="normal" >100</text>
<line x1="526.40" y1="1091.30" x2="534.40" y2="1091.30" stroke="#222" stroke-width="1.3" />
<text x="519.0" y="1096.7" font-size="16.2" text-anchor="end" fill="#111" font-weight="normal" font-style="normal" >200</text>
<line x1="526.40" y1="1043.15" x2="534.40" y2="1043.15" stroke="#222" stroke-width="1.3" />
<text x="519.0" y="1048.5" font-size="16.2" text-anchor="end" fill="#111" font-weight="normal" font-style="normal" >300</text>
<line x1="526.40" y1="995.00" x2="534.40" y2="995.00" stroke="#222" stroke-width="1.3" />
<text x="519.0" y="1000.4" font-size="16.2" text-anchor="end" fill="#111" font-weight="normal" font-style="normal" >400</text>
<line x1="526.40" y1="1187.60" x2="814.60" y2="1187.60" stroke="#222" stroke-width="1.3" />
<line x1="553.90" y1="1187.60" x2="553.90" y2="1196.00" stroke="#222" stroke-width="1.3" />
<text x="553.9" y="1215.5" font-size="16.2" text-anchor="middle" fill="#111" font-weight="normal" font-style="normal" >0</text>
<line x1="593.85" y1="1187.60" x2="593.85" y2="1196.00" stroke="#222" stroke-width="1.3" />
<text x="593.9" y="1215.5" font-size="16.2" text-anchor="middle" fill="#111" font-weight="normal" font-style="normal" >1</text>
<line x1="633.80" y1="1187.60" x2="633.80" y2="1196.00" stroke="#222" stroke-width="1.3" />
<text x="633.8" y="1215.5" font-size="16.2" text-anchor="middle" fill="#111" font-weight="normal" font-style="normal" >2</text>
<line x1="673.75" y1="1187.60" x2="673.75" y2="1196.00" stroke="#222" stroke-width="1.3" />
<text x="673.8" y="1215.5" font-size="16.2" text-anchor="middle" fill="#111" font-weight="normal" font-style="normal" >3</text>
<line x1="713.70" y1="1187.60" x2="713.70" y2="1196.00" stroke="#222" stroke-width="1.3" />
<text x="713.7" y="1215.5" font-size="16.2" text-anchor="middle" fill="#111" font-weight="normal" font-style="normal" >4</text>
<line x1="753.65" y1="1187.60" x2="753.65" y2="1196.00" stroke="#222" stroke-width="1.3" />
<text x="753.6" y="1215.5" font-size="16.2" text-anchor="middle" fill="#111" font-weight="normal" font-style="normal" >5</text>
<line x1="793.60" y1="1187.60" x2="793.60" y2="1196.00" stroke="#222" stroke-width="1.3" />
<text x="793.6" y="1215.5" font-size="16.2" text-anchor="middle" fill="#111" font-weight="normal" font-style="normal" >6</text>
<text x="674.0" y="1236.5" font-size="15.7" text-anchor="middle" fill="#111" font-weight="normal" font-style="normal" >Days</text>
<text x="0" y="0" font-size="15.7" text-anchor="middle" fill="#111" transform="translate(480.5,1091.5) rotate(-90)">Relative cell number</text>
<polyline points="553.90,1187.60 673.75,1183.80 713.70,1143.60 753.65,1103.00 793.60,1007.80" fill="none" stroke="#ff0000" stroke-width="1.6" stroke-linejoin="round" />
<circle cx="553.90" cy="1187.60" r="3.9" fill="#ff0000"/>
<circle cx="673.75" cy="1183.80" r="3.9" fill="#ff0000"/>
<circle cx="713.70" cy="1143.60" r="3.9" fill="#ff0000"/>
<circle cx="753.65" cy="1103.00" r="3.9" fill="#ff0000"/>
<circle cx="793.60" cy="1007.80" r="3.9" fill="#ff0000"/>
<polyline points="553.90,1187.60 673.75,1182.00 713.70,1148.40 753.65,1111.20 793.60,1017.60" fill="none" stroke="#ff0000" stroke-width="1.6" stroke-linejoin="round" />
<circle cx="553.90" cy="1187.60" r="3.9" fill="#ff0000"/>
<circle cx="673.75" cy="1182.00" r="3.9" fill="#ff0000"/>
<circle cx="713.70" cy="1148.40" r="3.9" fill="#ff0000"/>
<circle cx="753.65" cy="1111.20" r="3.9" fill="#ff0000"/>
<circle cx="793.60" cy="1017.60" r="3.9" fill="#ff0000"/>
<polyline points="553.90,1187.60 673.75,1174.80 713.70,1160.90 753.65,1116.80 793.60,1081.10" fill="none" stroke="#b257d6" stroke-width="1.6" stroke-linejoin="round" />
<circle cx="553.90" cy="1187.60" r="3.9" fill="#b257d6"/>
<circle cx="673.75" cy="1174.80" r="3.9" fill="#b257d6"/>
<circle cx="713.70" cy="1160.90" r="3.9" fill="#b257d6"/>
<circle cx="753.65" cy="1116.80" r="3.9" fill="#b257d6"/>
<circle cx="793.60" cy="1081.10" r="3.9" fill="#b257d6"/>
<polyline points="553.90,1187.60 673.75,1175.50 713.70,1164.40 753.65,1133.70 793.60,1094.40" fill="none" stroke="#b257d6" stroke-width="1.6" stroke-linejoin="round" />
<circle cx="553.90" cy="1187.60" r="3.9" fill="#b257d6"/>
<circle cx="673.75" cy="1175.50" r="3.9" fill="#b257d6"/>
<circle cx="713.70" cy="1164.40" r="3.9" fill="#b257d6"/>
<circle cx="753.65" cy="1133.70" r="3.9" fill="#b257d6"/>
<circle cx="793.60" cy="1094.40" r="3.9" fill="#b257d6"/>
<polyline points="553.90,1187.60 673.75,1178.60 713.70,1164.40 753.65,1141.70 793.60,1087.20" fill="none" stroke="#000" stroke-width="1.6" stroke-linejoin="round" />
<circle cx="553.90" cy="1187.60" r="3.9" fill="#000"/>
<circle cx="673.75" cy="1178.60" r="3.9" fill="#000"/>
<circle cx="713.70" cy="1164.40" r="3.9" fill="#000"/>
<circle cx="753.65" cy="1141.70" r="3.9" fill="#000"/>
<circle cx="793.60" cy="1087.20" r="3.9" fill="#000"/>
<polyline points="553.90,1187.60 673.75,1179.00 713.70,1165.70 753.65,1156.20 793.60,1073.00" fill="none" stroke="#000" stroke-width="1.6" stroke-linejoin="round" />
<circle cx="553.90" cy="1187.60" r="3.9" fill="#000"/>
<circle cx="673.75" cy="1179.00" r="3.9" fill="#000"/>
<circle cx="713.70" cy="1165.70" r="3.9" fill="#000"/>
<circle cx="753.65" cy="1156.20" r="3.9" fill="#000"/>
<circle cx="793.60" cy="1073.00" r="3.9" fill="#000"/>
<line x1="553.00" y1="1004.80" x2="573.40" y2="1004.80" stroke="#555" stroke-width="1.3" />
<circle cx="563.00" cy="1004.80" r="3.9" fill="#000"/>
<text x="580.8" y="1009.8" font-size="14.3" text-anchor="start" fill="#111" font-weight="normal" font-style="normal" >EV</text>
<line x1="553.00" y1="1030.00" x2="573.40" y2="1030.00" stroke="#ff0000" stroke-width="1.3" />
<circle cx="563.00" cy="1030.00" r="3.9" fill="#ff0000"/>
<text x="580.8" y="1035.0" font-size="14.3" text-anchor="start" fill="#111" font-weight="normal" font-style="normal" >HMGN1-WT</text>
<line x1="553.00" y1="1055.90" x2="573.40" y2="1055.90" stroke="#d4a0ee" stroke-width="1.3" />
<circle cx="563.00" cy="1055.90" r="3.9" fill="#b257d6"/>
<text x="580.8" y="1060.9" font-size="14.3" text-anchor="start" fill="#111" font-weight="normal" font-style="normal" >HMGN1-SEmut</text>
<line x1="629.60" y1="1269.60" x2="629.60" y2="1523.40" stroke="#222" stroke-width="1.3" />
<line x1="618.80" y1="1523.40" x2="629.60" y2="1523.40" stroke="#222" stroke-width="1.3" />
<text x="611.2" y="1528.8" font-size="15.8" text-anchor="end" fill="#111" font-weight="normal" font-style="normal" >0</text>
<line x1="618.80" y1="1472.62" x2="629.60" y2="1472.62" stroke="#222" stroke-width="1.3" />
<text x="611.2" y="1478.0" font-size="15.8" text-anchor="end" fill="#111" font-weight="normal" font-style="normal" >20</text>
<line x1="618.80" y1="1421.84" x2="629.60" y2="1421.84" stroke="#222" stroke-width="1.3" />
<text x="611.2" y="1427.2" font-size="15.8" text-anchor="end" fill="#111" font-weight="normal" font-style="normal" >40</text>
<line x1="618.80" y1="1371.06" x2="629.60" y2="1371.06" stroke="#222" stroke-width="1.3" />
<text x="611.2" y="1376.5" font-size="15.8" text-anchor="end" fill="#111" font-weight="normal" font-style="normal" >60</text>
<line x1="618.80" y1="1320.28" x2="629.60" y2="1320.28" stroke="#222" stroke-width="1.3" />
<text x="611.2" y="1325.7" font-size="15.8" text-anchor="end" fill="#111" font-weight="normal" font-style="normal" >80</text>
<line x1="618.80" y1="1269.50" x2="629.60" y2="1269.50" stroke="#222" stroke-width="1.3" />
<text x="611.2" y="1274.9" font-size="15.8" text-anchor="end" fill="#111" font-weight="normal" font-style="normal" >100</text>
<line x1="618.80" y1="1523.40" x2="1008.00" y2="1523.40" stroke="#222" stroke-width="1.3" />
<line x1="656.00" y1="1523.40" x2="656.00" y2="1532.00" stroke="#222" stroke-width="1.3" />
<text x="656.0" y="1553.6" font-size="15.8" text-anchor="middle" fill="#111" font-weight="normal" font-style="normal" >0</text>
<line x1="709.85" y1="1523.40" x2="709.85" y2="1532.00" stroke="#222" stroke-width="1.3" />
<text x="709.9" y="1553.6" font-size="15.8" text-anchor="middle" fill="#111" font-weight="normal" font-style="normal" >1</text>
<line x1="763.70" y1="1523.40" x2="763.70" y2="1532.00" stroke="#222" stroke-width="1.3" />
<text x="763.7" y="1553.6" font-size="15.8" text-anchor="middle" fill="#111" font-weight="normal" font-style="normal" >2</text>
<line x1="817.55" y1="1523.40" x2="817.55" y2="1532.00" stroke="#222" stroke-width="1.3" />
<text x="817.5" y="1553.6" font-size="15.8" text-anchor="middle" fill="#111" font-weight="normal" font-style="normal" >3</text>
<line x1="871.40" y1="1523.40" x2="871.40" y2="1532.00" stroke="#222" stroke-width="1.3" />
<text x="871.4" y="1553.6" font-size="15.8" text-anchor="middle" fill="#111" font-weight="normal" font-style="normal" >4</text>
<line x1="925.25" y1="1523.40" x2="925.25" y2="1532.00" stroke="#222" stroke-width="1.3" />
<text x="925.2" y="1553.6" font-size="15.8" text-anchor="middle" fill="#111" font-weight="normal" font-style="normal" >5</text>
<line x1="979.10" y1="1523.40" x2="979.10" y2="1532.00" stroke="#222" stroke-width="1.3" />
<text x="979.1" y="1553.6" font-size="15.8" text-anchor="middle" fill="#111" font-weight="normal" font-style="normal" >6</text>
<text x="818.0" y="1577.0" font-size="15.7" text-anchor="middle" fill="#111" font-weight="normal" font-style="normal" >Days E2 withdrawal</text>
<text x="0" y="0" font-size="15.7" text-anchor="middle" fill="#111" transform="translate(575.0,1396.7) rotate(-90)">% CD11b+, GR-1+</text>
<polyline points="656.00,1523.00 871.40,1495.00 925.25,1493.50 979.10,1464.00" fill="none" stroke="#ff0000" stroke-width="1.6" stroke-linejoin="round" />
<circle cx="656.00" cy="1523.00" r="5.1" fill="#ff0000"/>
<circle cx="871.40" cy="1495.00" r="5.1" fill="#ff0000"/>
<circle cx="925.25" cy="1493.50" r="5.1" fill="#ff0000"/>
<circle cx="979.10" cy="1464.00" r="5.1" fill="#ff0000"/>
<polyline points="656.00,1523.00 871.40,1515.00 925.25,1515.60 979.10,1509.00" fill="none" stroke="#ff0000" stroke-width="1.6" stroke-linejoin="round" />
<circle cx="656.00" cy="1523.00" r="5.1" fill="#ff0000"/>
<circle cx="871.40" cy="1515.00" r="5.1" fill="#ff0000"/>
<circle cx="925.25" cy="1515.60" r="5.1" fill="#ff0000"/>
<circle cx="979.10" cy="1509.00" r="5.1" fill="#ff0000"/>
<polyline points="656.00,1508.50 871.40,1487.30 925.25,1486.90 979.10,1327.30" fill="none" stroke="#b257d6" stroke-width="1.6" stroke-linejoin="round" />
<circle cx="656.00" cy="1508.50" r="5.1" fill="#b257d6"/>
<circle cx="871.40" cy="1487.30" r="5.1" fill="#b257d6"/>
<circle cx="925.25" cy="1486.90" r="5.1" fill="#b257d6"/>
<circle cx="979.10" cy="1327.30" r="5.1" fill="#b257d6"/>
<polyline points="656.00,1520.00 871.40,1495.00 925.25,1415.60 979.10,1403.30" fill="none" stroke="#b257d6" stroke-width="1.6" stroke-linejoin="round" />
<circle cx="656.00" cy="1520.00" r="5.1" fill="#b257d6"/>
<circle cx="871.40" cy="1495.00" r="5.1" fill="#b257d6"/>
<circle cx="925.25" cy="1415.60" r="5.1" fill="#b257d6"/>
<circle cx="979.10" cy="1403.30" r="5.1" fill="#b257d6"/>
<polyline points="656.00,1519.50 871.40,1446.90 925.25,1492.00 979.10,1366.60" fill="none" stroke="#000" stroke-width="1.6" stroke-linejoin="round" />
<circle cx="656.00" cy="1519.50" r="5.1" fill="#000"/>
<circle cx="871.40" cy="1446.90" r="5.1" fill="#000"/>
<circle cx="925.25" cy="1492.00" r="5.1" fill="#000"/>
<circle cx="979.10" cy="1366.60" r="5.1" fill="#000"/>
<polyline points="656.00,1520.00 871.40,1500.00 925.25,1489.10 979.10,1372.70" fill="none" stroke="#000" stroke-width="1.6" stroke-linejoin="round" />
<circle cx="656.00" cy="1520.00" r="5.1" fill="#000"/>
<circle cx="871.40" cy="1500.00" r="5.1" fill="#000"/>
<circle cx="925.25" cy="1489.10" r="5.1" fill="#000"/>
<circle cx="979.10" cy="1372.70" r="5.1" fill="#000"/>
<line x1="656.00" y1="1283.30" x2="683.00" y2="1283.30" stroke="#000" stroke-width="1.3" />
<circle cx="669.80" cy="1283.30" r="5.1" fill="#000"/>
<text x="690.0" y="1288.3" font-size="14.3" text-anchor="start" fill="#111" font-weight="normal" font-style="normal" >EV</text>
<line x1="656.00" y1="1315.00" x2="683.00" y2="1315.00" stroke="#ff0000" stroke-width="1.3" />
<circle cx="669.80" cy="1315.00" r="5.1" fill="#ff0000"/>
<text x="690.0" y="1320.0" font-size="14.3" text-anchor="start" fill="#111" font-weight="normal" font-style="normal" >HMGN1-WT</text>
<line x1="656.00" y1="1346.70" x2="683.00" y2="1346.70" stroke="#b257d6" stroke-width="1.3" />
<circle cx="669.80" cy="1346.70" r="5.1" fill="#b257d6"/>
<text x="690.0" y="1351.7" font-size="14.3" text-anchor="start" fill="#111" font-weight="normal" font-style="normal" >HMGN1-SEmut</text>
<text x="456.0" y="739.0" font-size="26" text-anchor="start" fill="#000" font-weight="bold" font-style="normal" >e</text>
<rect x="478" y="750.0" width="562" height="11.2" fill="#000"/>
<rect x="479.1" y="735.4" width="80.7" height="40.5" fill="#7d0a0a" stroke="#000" stroke-width="1.8"/>
<text x="0" y="0" font-size="15.5" text-anchor="middle" fill="#fff" transform="translate(519.5,760.4) scale(1,1.13)">NLS1</text>
<rect x="632.9" y="735.4" width="80.5" height="40.5" fill="#dc1414" stroke="#000" stroke-width="1.8"/>
<text x="0" y="0" font-size="15.5" text-anchor="middle" fill="#fff" transform="translate(673.1,760.4) scale(1,1.13)">NBD</text>
<rect x="787.6" y="735.4" width="80.7" height="40.5" fill="#7d0a0a" stroke="#000" stroke-width="1.8"/>
<text x="0" y="0" font-size="15.5" text-anchor="middle" fill="#fff" transform="translate(828.0,760.4) scale(1,1.13)">NLS2</text>
<rect x="959.8" y="735.4" width="79.9" height="40.5" fill="#cd5a5a" stroke="#000" stroke-width="1.8"/>
<text x="0" y="0" font-size="15.5" text-anchor="middle" fill="#fff" transform="translate(999.8,760.4) scale(1,1.13)">RD</text>
<text x="1048.0" y="761.1" font-size="15.7" text-anchor="start" fill="#111" font-weight="normal" font-style="normal" >HMGN1-WT</text>
<text x="477.8" y="795.5" font-size="15.4" text-anchor="start" fill="#111" font-weight="normal" font-style="normal" >1</text>
<text x="1039.8" y="795.5" font-size="15.4" text-anchor="end" fill="#111" font-weight="normal" font-style="normal" >110</text>
<rect x="478" y="857.5" width="562" height="11.2" fill="#000"/>
<rect x="479.1" y="842.9" width="80.7" height="40.5" fill="#7d0a0a" stroke="#000" stroke-width="1.8"/>
<text x="0" y="0" font-size="15.5" text-anchor="middle" fill="#fff" transform="translate(519.5,867.9) scale(1,1.13)">NLS1</text>
<rect x="632.9" y="842.9" width="80.5" height="40.5" fill="#c466e8" stroke="#000" stroke-width="1.8"/>
<text x="0" y="0" font-size="15.5" text-anchor="middle" fill="#fff" transform="translate(673.1,867.9) scale(1,1.13)">NBD-mut</text>
<rect x="787.6" y="842.9" width="80.7" height="40.5" fill="#7d0a0a" stroke="#000" stroke-width="1.8"/>
<text x="0" y="0" font-size="15.5" text-anchor="middle" fill="#fff" transform="translate(828.0,867.9) scale(1,1.13)">NLS2</text>
<rect x="959.8" y="842.9" width="79.9" height="40.5" fill="#cd5a5a" stroke="#000" stroke-width="1.8"/>
<text x="0" y="0" font-size="15.5" text-anchor="middle" fill="#fff" transform="translate(999.8,867.9) scale(1,1.13)">RD</text>
<text x="1048.0" y="868.6" font-size="15.7" text-anchor="start" fill="#111" font-weight="normal" font-style="normal" >HMGN1-SEmut</text>
<text x="477.8" y="903.0" font-size="15.4" text-anchor="start" fill="#111" font-weight="normal" font-style="normal" >1</text>
<text x="1039.8" y="903.0" font-size="15.4" text-anchor="end" fill="#111" font-weight="normal" font-style="normal" >110</text>
<text x="663.9" y="903.5" font-size="21.5" text-anchor="middle" fill="#000" font-weight="bold" font-style="normal" >*</text>
<text x="683.9" y="903.5" font-size="21.5" text-anchor="middle" fill="#000" font-weight="bold" font-style="normal" >*</text>
<text x="645.2" y="922.4" font-size="16" text-anchor="start" fill="#111" font-weight="normal" font-style="normal" >S</text>
<line x1="659.80" y1="917.20" x2="679.00" y2="917.20" stroke="#000" stroke-width="1.2" />
<polygon points="677.7,912.4 686.4,917.2 677.7,922" fill="#000"/>
<text x="691.3" y="922.4" font-size="16" text-anchor="start" fill="#111" font-weight="normal" font-style="normal" >E</text>
<text x="705.8" y="922.4" font-size="16" text-anchor="start" fill="#111" font-weight="normal" font-style="normal" >(×2)</text>
<defs>
<filter id="bl1" x="-20%" y="-20%" width="140%" height="140%"><feGaussianBlur stdDeviation="0.8"/></filter>
<filter id="bl2" x="-20%" y="-20%" width="140%" height="140%"><feGaussianBlur stdDeviation="1.6"/></filter>
<filter id="bl3" x="-30%" y="-30%" width="160%" height="160%"><feGaussianBlur stdDeviation="4"/></filter>
<filter id="grain" x="-10%" y="-10%" width="120%" height="120%"><feGaussianBlur in="SourceGraphic" stdDeviation="1.6" result="b"/><feTurbulence type="fractalNoise" baseFrequency="0.22" numOctaves="2" seed="7" result="n"/><feColorMatrix in="n" type="matrix" values="0 0 0 0 0.3  0 0 0 0 0.05  0 0 0 0 0.3  0 0 0 -1.6 0.85" result="g0"/><feGaussianBlur in="g0" stdDeviation="0.6" result="g"/><feComposite in="g" in2="b" operator="in" result="gi"/><feMerge><feMergeNode in="b"/><feMergeNode in="gi"/></feMerge></filter>
<filter id="grainL" x="-10%" y="-10%" width="120%" height="120%"><feTurbulence type="fractalNoise" baseFrequency="0.35" numOctaves="1" seed="11" result="n"/><feColorMatrix in="n" type="matrix" values="0 0 0 0 1  0 0 0 0 1  0 0 0 0 1  0 0 0 -3 1.55" result="g"/><feComposite in="g" in2="SourceGraphic" operator="in" result="gi"/><feMerge><feMergeNode in="SourceGraphic"/><feMergeNode in="gi"/></feMerge></filter>
<clipPath id="cp11"><rect x="458" y="32" width="209" height="207"/></clipPath>
<clipPath id="cp12"><rect x="680" y="32" width="210" height="208"/></clipPath>
<clipPath id="cp13"><rect x="902" y="32" width="207" height="206.5"/></clipPath>
<clipPath id="cp21"><rect x="458" y="252" width="210.5" height="210.5"/></clipPath>
<clipPath id="cp22"><rect x="680" y="252" width="210" height="210.5"/></clipPath>
<clipPath id="cp23"><rect x="902" y="252" width="207" height="210.5"/></clipPath>
<clipPath id="cp31"><rect x="458" y="474.5" width="209.5" height="208.5"/></clipPath>
<clipPath id="cp32"><rect x="680" y="474.5" width="210" height="208.5"/></clipPath>
<clipPath id="cp33"><rect x="902" y="474.5" width="207.4000000000001" height="208.5"/></clipPath>
</defs>
<g clip-path="url(#cp11)">
<rect x="458" y="32" width="209" height="207" fill="rgb(225,229,212)"/>
<g transform="translate(458,32)">
<path d="M87.8,49.0 C88.3,52.5 88.2,56.6 86.9,59.9 C85.6,63.2 82.9,66.4 80.2,68.8 C77.5,71.3 74.2,73.4 70.8,74.7 C67.5,76.0 63.5,76.7 60.0,76.5 C56.5,76.3 52.9,74.9 49.7,73.5 C46.4,72.1 43.2,70.5 40.4,68.2 C37.7,65.9 34.8,63.0 33.4,59.8 C32.0,56.6 31.9,52.5 32.1,49.0 C32.3,45.5 33.4,42.0 34.8,38.7 C36.1,35.5 37.6,31.9 40.0,29.4 C42.4,26.8 45.8,24.5 49.1,23.2 C52.4,21.8 56.4,21.2 60.0,21.2 C63.6,21.2 67.7,21.6 70.9,23.1 C74.2,24.5 77.2,27.2 79.4,29.9 C81.7,32.6 83.0,35.9 84.4,39.1 C85.8,42.3 87.4,45.5 87.8,49.0Z" fill="none" stroke="rgb(225,229,212)" stroke-width="3.2" filter="url(#bl1)"/>
<path d="M87.8,49.0 C88.3,52.5 88.2,56.6 86.9,59.9 C85.6,63.2 82.9,66.4 80.2,68.8 C77.5,71.3 74.2,73.4 70.8,74.7 C67.5,76.0 63.5,76.7 60.0,76.5 C56.5,76.3 52.9,74.9 49.7,73.5 C46.4,72.1 43.2,70.5 40.4,68.2 C37.7,65.9 34.8,63.0 33.4,59.8 C32.0,56.6 31.9,52.5 32.1,49.0 C32.3,45.5 33.4,42.0 34.8,38.7 C36.1,35.5 37.6,31.9 40.0,29.4 C42.4,26.8 45.8,24.5 49.1,23.2 C52.4,21.8 56.4,21.2 60.0,21.2 C63.6,21.2 67.7,21.6 70.9,23.1 C74.2,24.5 77.2,27.2 79.4,29.9 C81.7,32.6 83.0,35.9 84.4,39.1 C85.8,42.3 87.4,45.5 87.8,49.0Z" fill="rgb(152,140,207)" stroke="rgb(115,105,190)" stroke-width="1.4" filter="url(#bl1)"/>
<path d="M86.8,48.6 C87.2,50.9 86.1,53.5 85.6,55.8 C85.0,58.1 84.5,60.2 83.5,62.3 C82.4,64.4 81.1,66.8 79.2,68.3 C77.3,69.8 74.5,70.7 72.1,71.4 C69.7,72.0 67.2,72.2 64.8,72.3 C62.4,72.3 59.8,72.3 57.6,71.6 C55.4,71.0 53.3,69.7 51.5,68.3 C49.6,67.0 47.6,65.4 46.3,63.3 C45.1,61.3 43.8,58.6 44.1,56.2 C44.5,53.9 46.6,51.1 48.5,49.3 C50.3,47.5 53.2,46.5 55.3,45.2 C57.5,44.0 59.2,42.8 61.4,41.9 C63.5,40.9 65.8,39.9 68.2,39.6 C70.6,39.2 73.3,39.1 75.9,39.6 C78.4,40.0 81.4,40.7 83.2,42.2 C85.1,43.8 86.4,46.4 86.8,48.6Z" fill="rgb(178,88,182)" filter="url(#grain)"/>
<path d="M71.9,84.5 C71.9,88.0 70.7,91.9 69.3,95.1 C67.9,98.4 65.9,101.6 63.5,104.0 C61.1,106.5 57.9,108.5 54.9,109.7 C51.8,110.8 48.3,111.0 45.0,111.0 C41.7,110.9 38.3,110.6 35.2,109.6 C32.0,108.5 28.6,106.8 26.2,104.4 C23.8,102.0 21.9,98.4 20.7,95.1 C19.5,91.8 19.0,88.1 19.0,84.5 C18.9,80.9 19.3,77.0 20.6,73.8 C21.9,70.6 24.2,67.5 26.7,65.1 C29.1,62.7 32.1,60.8 35.2,59.4 C38.2,58.1 41.7,56.9 45.0,56.9 C48.3,56.9 51.8,58.0 54.8,59.4 C57.8,60.9 60.5,63.2 62.9,65.6 C65.3,68.0 67.8,70.7 69.3,73.8 C70.8,77.0 71.9,81.0 71.9,84.5Z" fill="none" stroke="rgb(225,229,212)" stroke-width="3.2" filter="url(#bl1)"/>
<path d="M71.9,84.5 C71.9,88.0 70.7,91.9 69.3,95.1 C67.9,98.4 65.9,101.6 63.5,104.0 C61.1,106.5 57.9,108.5 54.9,109.7 C51.8,110.8 48.3,111.0 45.0,111.0 C41.7,110.9 38.3,110.6 35.2,109.6 C32.0,108.5 28.6,106.8 26.2,104.4 C23.8,102.0 21.9,98.4 20.7,95.1 C19.5,91.8 19.0,88.1 19.0,84.5 C18.9,80.9 19.3,77.0 20.6,73.8 C21.9,70.6 24.2,67.5 26.7,65.1 C29.1,62.7 32.1,60.8 35.2,59.4 C38.2,58.1 41.7,56.9 45.0,56.9 C48.3,56.9 51.8,58.0 54.8,59.4 C57.8,60.9 60.5,63.2 62.9,65.6 C65.3,68.0 67.8,70.7 69.3,73.8 C70.8,77.0 71.9,81.0 71.9,84.5Z" fill="rgb(152,140,207)" stroke="rgb(115,105,190)" stroke-width="1.4" filter="url(#bl1)"/>
<path d="M51.5,87.5 C51.3,90.2 52.3,92.6 52.0,95.2 C51.7,97.8 51.1,101.0 49.8,103.1 C48.6,105.2 46.5,106.5 44.6,107.8 C42.7,109.2 40.6,111.1 38.5,111.4 C36.4,111.7 33.7,111.0 31.9,109.5 C30.0,108.1 28.9,104.8 27.5,102.6 C26.1,100.3 24.5,98.6 23.5,96.1 C22.5,93.5 21.3,90.2 21.6,87.5 C21.9,84.8 24.1,82.2 25.3,80.0 C26.5,77.7 27.6,76.3 28.8,74.1 C30.0,72.0 30.8,68.9 32.4,67.2 C34.0,65.6 36.4,64.8 38.5,64.5 C40.6,64.1 43.1,64.2 45.3,65.0 C47.5,65.8 50.4,66.9 51.7,69.3 C53.0,71.7 53.1,76.2 53.1,79.2 C53.0,82.2 51.6,84.8 51.5,87.5Z" fill="rgb(178,88,182)" filter="url(#grain)"/>
<path d="M85.7,140.0 C85.7,143.2 84.8,146.4 83.7,149.5 C82.5,152.6 81.1,156.0 78.7,158.5 C76.3,161.0 72.7,163.2 69.3,164.3 C65.8,165.5 61.7,165.5 58.0,165.4 C54.3,165.3 50.4,164.9 47.1,163.7 C43.7,162.4 40.2,160.5 37.8,158.1 C35.3,155.8 33.6,152.5 32.3,149.5 C31.0,146.5 29.9,143.2 29.8,140.0 C29.7,136.8 30.1,133.1 31.5,130.2 C32.9,127.2 35.6,124.6 38.2,122.3 C40.8,120.0 43.8,117.9 47.1,116.4 C50.4,114.9 54.3,113.5 58.0,113.5 C61.7,113.4 65.8,114.6 69.1,116.1 C72.4,117.5 75.3,119.9 77.8,122.2 C80.3,124.6 82.8,127.4 84.1,130.3 C85.4,133.3 85.8,136.8 85.7,140.0Z" fill="none" stroke="rgb(225,229,212)" stroke-width="3.2" filter="url(#bl1)"/>
<path d="M85.7,140.0 C85.7,143.2 84.8,146.4 83.7,149.5 C82.5,152.6 81.1,156.0 78.7,158.5 C76.3,161.0 72.7,163.2 69.3,164.3 C65.8,165.5 61.7,165.5 58.0,165.4 C54.3,165.3 50.4,164.9 47.1,163.7 C43.7,162.4 40.2,160.5 37.8,158.1 C35.3,155.8 33.6,152.5 32.3,149.5 C31.0,146.5 29.9,143.2 29.8,140.0 C29.7,136.8 30.1,133.1 31.5,130.2 C32.9,127.2 35.6,124.6 38.2,122.3 C40.8,120.0 43.8,117.9 47.1,116.4 C50.4,114.9 54.3,113.5 58.0,113.5 C61.7,113.4 65.8,114.6 69.1,116.1 C72.4,117.5 75.3,119.9 77.8,122.2 C80.3,124.6 82.8,127.4 84.1,130.3 C85.4,133.3 85.8,136.8 85.7,140.0Z" fill="rgb(152,140,207)" stroke="rgb(115,105,190)" stroke-width="1.4" filter="url(#bl1)"/>
<path d="M74.7,147.2 C74.4,149.0 73.6,151.0 72.2,152.4 C70.8,153.9 68.6,155.2 66.3,155.8 C64.1,156.4 61.1,155.9 58.7,155.9 C56.3,156.0 54.3,156.1 51.8,156.0 C49.3,155.9 46.1,156.3 43.7,155.5 C41.3,154.7 38.8,152.9 37.3,151.3 C35.7,149.6 35.0,147.5 34.5,145.6 C33.9,143.7 33.3,141.7 33.8,139.9 C34.2,138.2 35.7,136.6 37.2,135.2 C38.6,133.9 40.5,132.9 42.4,131.9 C44.3,130.9 46.2,129.4 48.5,129.0 C50.9,128.6 54.1,128.8 56.5,129.5 C58.9,130.2 60.9,131.9 63.0,133.0 C65.1,134.2 67.3,135.0 69.2,136.4 C71.1,137.8 73.4,139.5 74.3,141.3 C75.2,143.1 75.1,145.3 74.7,147.2Z" fill="rgb(178,88,182)" filter="url(#grain)"/>
<path d="M181.5,80.5 C181.7,85.2 180.7,90.5 178.6,94.8 C176.6,99.0 172.9,102.9 169.3,106.0 C165.6,109.1 161.2,111.7 156.8,113.3 C152.3,114.8 147.3,115.5 142.6,115.4 C137.9,115.2 133.2,113.9 128.8,112.4 C124.4,110.8 119.7,108.9 116.0,106.0 C112.2,103.1 108.4,99.1 106.5,94.8 C104.5,90.6 104.0,85.2 104.1,80.5 C104.3,75.8 105.6,70.9 107.6,66.6 C109.5,62.3 112.4,58.0 115.9,54.9 C119.3,51.8 124.0,49.5 128.5,47.9 C133.0,46.3 137.9,45.5 142.6,45.4 C147.3,45.3 152.5,45.7 156.9,47.4 C161.3,49.1 165.5,52.1 168.9,55.3 C172.3,58.5 175.0,62.6 177.1,66.8 C179.2,71.0 181.2,75.8 181.5,80.5Z" fill="none" stroke="rgb(225,229,212)" stroke-width="3.2" filter="url(#bl1)"/>
<path d="M181.5,80.5 C181.7,85.2 180.7,90.5 178.6,94.8 C176.6,99.0 172.9,102.9 169.3,106.0 C165.6,109.1 161.2,111.7 156.8,113.3 C152.3,114.8 147.3,115.5 142.6,115.4 C137.9,115.2 133.2,113.9 128.8,112.4 C124.4,110.8 119.7,108.9 116.0,106.0 C112.2,103.1 108.4,99.1 106.5,94.8 C104.5,90.6 104.0,85.2 104.1,80.5 C104.3,75.8 105.6,70.9 107.6,66.6 C109.5,62.3 112.4,58.0 115.9,54.9 C119.3,51.8 124.0,49.5 128.5,47.9 C133.0,46.3 137.9,45.5 142.6,45.4 C147.3,45.3 152.5,45.7 156.9,47.4 C161.3,49.1 165.5,52.1 168.9,55.3 C172.3,58.5 175.0,62.6 177.1,66.8 C179.2,71.0 181.2,75.8 181.5,80.5Z" fill="rgb(152,140,207)" stroke="rgb(115,105,190)" stroke-width="1.4" filter="url(#bl1)"/>
<path d="M166.3,83.0 C166.5,85.0 165.2,87.7 164.1,89.6 C163.0,91.5 160.9,92.8 159.6,94.6 C158.3,96.3 157.8,98.3 156.3,99.9 C154.7,101.5 152.6,103.4 150.3,104.3 C148.0,105.2 145.1,105.2 142.5,105.2 C139.9,105.2 136.9,105.1 134.6,104.3 C132.4,103.4 129.9,101.7 128.8,99.9 C127.6,98.1 128.0,95.4 127.8,93.3 C127.7,91.2 127.6,89.2 128.0,87.2 C128.3,85.2 128.7,82.8 130.0,81.1 C131.3,79.5 133.9,78.3 135.9,77.1 C137.9,75.9 139.9,75.0 142.2,74.0 C144.4,73.1 147.1,71.4 149.6,71.2 C152.1,71.0 155.1,71.7 157.3,72.7 C159.5,73.6 161.4,75.4 162.9,77.1 C164.4,78.8 166.1,80.9 166.3,83.0Z" fill="rgb(178,88,182)" filter="url(#grain)"/>
<path d="M195.8,177.0 C195.3,181.2 193.8,185.2 192.2,189.1 C190.5,192.9 188.8,196.8 186.0,199.9 C183.3,202.9 179.6,205.4 175.9,207.2 C172.1,209.0 167.8,210.1 163.6,210.4 C159.4,210.7 154.5,210.6 150.6,209.0 C146.7,207.4 143.0,204.0 140.4,200.7 C137.7,197.4 136.3,193.1 134.8,189.2 C133.3,185.2 131.7,181.2 131.5,177.0 C131.3,172.8 131.8,168.1 133.3,164.2 C134.9,160.4 138.0,156.9 141.0,154.0 C144.0,151.0 147.5,148.3 151.2,146.6 C155.0,144.9 159.5,143.8 163.6,143.9 C167.7,143.9 171.9,145.4 175.8,147.0 C179.7,148.5 183.7,150.4 186.9,153.2 C190.1,156.0 193.5,159.8 195.0,163.7 C196.5,167.7 196.3,172.8 195.8,177.0Z" fill="none" stroke="rgb(225,229,212)" stroke-width="3.2" filter="url(#bl1)"/>
<path d="M195.8,177.0 C195.3,181.2 193.8,185.2 192.2,189.1 C190.5,192.9 188.8,196.8 186.0,199.9 C183.3,202.9 179.6,205.4 175.9,207.2 C172.1,209.0 167.8,210.1 163.6,210.4 C159.4,210.7 154.5,210.6 150.6,209.0 C146.7,207.4 143.0,204.0 140.4,200.7 C137.7,197.4 136.3,193.1 134.8,189.2 C133.3,185.2 131.7,181.2 131.5,177.0 C131.3,172.8 131.8,168.1 133.3,164.2 C134.9,160.4 138.0,156.9 141.0,154.0 C144.0,151.0 147.5,148.3 151.2,146.6 C155.0,144.9 159.5,143.8 163.6,143.9 C167.7,143.9 171.9,145.4 175.8,147.0 C179.7,148.5 183.7,150.4 186.9,153.2 C190.1,156.0 193.5,159.8 195.0,163.7 C196.5,167.7 196.3,172.8 195.8,177.0Z" fill="rgb(152,140,207)" stroke="rgb(115,105,190)" stroke-width="1.4" filter="url(#bl1)"/>
<path d="M183.5,182.0 C183.2,184.2 182.8,186.4 181.5,188.3 C180.3,190.1 177.9,191.4 176.0,192.8 C174.1,194.2 172.3,195.6 169.9,196.8 C167.6,198.0 164.8,200.0 162.0,200.2 C159.2,200.5 155.8,199.4 153.3,198.3 C150.8,197.2 149.0,195.2 146.9,193.7 C144.8,192.1 142.0,190.8 140.6,188.8 C139.3,186.9 138.4,184.2 138.6,182.0 C138.9,179.8 140.8,177.6 142.2,175.7 C143.5,173.7 144.9,171.7 146.9,170.3 C148.9,168.9 151.6,167.8 154.1,167.3 C156.6,166.7 159.2,167.1 162.0,166.9 C164.8,166.7 167.6,165.7 170.6,165.9 C173.7,166.1 177.9,166.5 180.0,168.1 C182.2,169.6 183.1,172.7 183.7,175.0 C184.3,177.4 183.9,179.8 183.5,182.0Z" fill="rgb(178,88,182)" filter="url(#grain)"/>
<path d="M223.8,2.0 C223.7,4.0 223.4,6.1 222.9,8.0 C222.3,9.9 221.5,11.9 220.5,13.3 C219.4,14.7 218.0,15.8 216.5,16.6 C215.1,17.4 213.5,17.9 212.0,17.9 C210.5,18.0 208.7,17.8 207.3,17.0 C205.9,16.3 204.6,14.8 203.5,13.3 C202.4,11.9 201.5,10.0 200.9,8.1 C200.3,6.2 199.7,4.0 199.7,2.0 C199.7,-0.0 200.2,-2.3 200.9,-4.1 C201.6,-6.0 202.7,-7.5 203.8,-8.9 C204.9,-10.4 206.1,-11.7 207.5,-12.5 C208.9,-13.4 210.5,-13.9 212.0,-14.0 C213.5,-14.0 215.1,-13.5 216.6,-12.8 C218.1,-12.1 219.6,-11.1 220.7,-9.7 C221.9,-8.2 222.9,-6.2 223.4,-4.3 C223.9,-2.3 223.9,-0.0 223.8,2.0Z" fill="none" stroke="rgb(225,229,212)" stroke-width="3.2" filter="url(#bl1)"/>
<path d="M223.8,2.0 C223.7,4.0 223.4,6.1 222.9,8.0 C222.3,9.9 221.5,11.9 220.5,13.3 C219.4,14.7 218.0,15.8 216.5,16.6 C215.1,17.4 213.5,17.9 212.0,17.9 C210.5,18.0 208.7,17.8 207.3,17.0 C205.9,16.3 204.6,14.8 203.5,13.3 C202.4,11.9 201.5,10.0 200.9,8.1 C200.3,6.2 199.7,4.0 199.7,2.0 C199.7,-0.0 200.2,-2.3 200.9,-4.1 C201.6,-6.0 202.7,-7.5 203.8,-8.9 C204.9,-10.4 206.1,-11.7 207.5,-12.5 C208.9,-13.4 210.5,-13.9 212.0,-14.0 C213.5,-14.0 215.1,-13.5 216.6,-12.8 C218.1,-12.1 219.6,-11.1 220.7,-9.7 C221.9,-8.2 222.9,-6.2 223.4,-4.3 C223.9,-2.3 223.9,-0.0 223.8,2.0Z" fill="rgb(152,140,207)" stroke="rgb(115,105,190)" stroke-width="1.4" filter="url(#bl1)"/>
<g filter="url(#bl1)">
<circle cx="144.2" cy="63.3" r="2.4" fill="rgb(222,215,235)"/>
<circle cx="126.2" cy="70.4" r="1.4" fill="rgb(222,215,235)"/>
<circle cx="119.5" cy="65.6" r="1.3" fill="rgb(222,215,235)"/>
<circle cx="126.4" cy="62.6" r="2.4" fill="rgb(222,215,235)"/>
<circle cx="136.5" cy="68.5" r="2.3" fill="rgb(222,215,235)"/>
<circle cx="132.7" cy="56.7" r="1.1" fill="rgb(222,215,235)"/>
<circle cx="119.0" cy="64.3" r="1.9" fill="rgb(222,215,235)"/>
<circle cx="115.2" cy="62.4" r="1.7" fill="rgb(222,215,235)"/>
<circle cx="135.0" cy="53.7" r="2.6" fill="rgb(222,215,235)"/>
<circle cx="137.6" cy="60.5" r="1.0" fill="rgb(222,215,235)"/>
<circle cx="128.8" cy="70.7" r="1.2" fill="rgb(222,215,235)"/>
<circle cx="135.5" cy="57.0" r="1.5" fill="rgb(222,215,235)"/>
<circle cx="113.7" cy="61.8" r="1.1" fill="rgb(222,215,235)"/>
<circle cx="139.3" cy="62.8" r="1.1" fill="rgb(222,215,235)"/>
<circle cx="138.1" cy="54.7" r="1.5" fill="rgb(222,215,235)"/>
<circle cx="128.9" cy="62.6" r="1.3" fill="rgb(222,215,235)"/>
<circle cx="115.4" cy="66.7" r="1.6" fill="rgb(222,215,235)"/>
<circle cx="127.3" cy="65.4" r="1.7" fill="rgb(222,215,235)"/>
<circle cx="123.7" cy="54.8" r="2.5" fill="rgb(222,215,235)"/>
<circle cx="134.3" cy="56.8" r="1.9" fill="rgb(222,215,235)"/>
<circle cx="129.5" cy="63.8" r="2.6" fill="rgb(222,215,235)"/>
<circle cx="124.8" cy="71.8" r="1.3" fill="rgb(222,215,235)"/>
<circle cx="157.2" cy="95.9" r="1.2" fill="rgb(215,205,232)"/>
<circle cx="153.8" cy="102.7" r="1.8" fill="rgb(215,205,232)"/>
<circle cx="150.7" cy="105.1" r="1.5" fill="rgb(215,205,232)"/>
<circle cx="161.4" cy="99.0" r="1.0" fill="rgb(215,205,232)"/>
<circle cx="160.6" cy="103.4" r="1.0" fill="rgb(215,205,232)"/>
<circle cx="147.6" cy="100.0" r="0.9" fill="rgb(215,205,232)"/>
<circle cx="156.5" cy="96.0" r="1.3" fill="rgb(215,205,232)"/>
<circle cx="150.7" cy="101.1" r="1.1" fill="rgb(215,205,232)"/>
<circle cx="70.2" cy="139.5" r="1.0" fill="rgb(215,205,232)"/>
<circle cx="73.8" cy="138.1" r="1.2" fill="rgb(215,205,232)"/>
<circle cx="70.8" cy="128.6" r="1.5" fill="rgb(215,205,232)"/>
<circle cx="70.9" cy="134.0" r="0.9" fill="rgb(215,205,232)"/>
<circle cx="78.8" cy="141.1" r="0.9" fill="rgb(215,205,232)"/>
<circle cx="73.8" cy="134.2" r="1.7" fill="rgb(215,205,232)"/>
<circle cx="74.9" cy="141.0" r="1.3" fill="rgb(215,205,232)"/>
<circle cx="67.6" cy="142.2" r="0.9" fill="rgb(215,205,232)"/>
<circle cx="150.0" cy="149.7" r="1.2" fill="rgb(212,205,232)"/>
<circle cx="168.6" cy="151.0" r="1.5" fill="rgb(212,205,232)"/>
<circle cx="151.4" cy="149.5" r="1.1" fill="rgb(212,205,232)"/>
<circle cx="174.3" cy="153.5" r="1.2" fill="rgb(212,205,232)"/>
<circle cx="173.7" cy="150.7" r="0.8" fill="rgb(212,205,232)"/>
<circle cx="160.6" cy="144.9" r="1.0" fill="rgb(212,205,232)"/>
<circle cx="145.2" cy="152.2" r="1.4" fill="rgb(212,205,232)"/>
<circle cx="165.7" cy="144.8" r="0.9" fill="rgb(212,205,232)"/>
<circle cx="55.6" cy="28.7" r="1.5" fill="rgb(212,205,232)"/>
<circle cx="55.8" cy="34.1" r="1.4" fill="rgb(212,205,232)"/>
<circle cx="53.1" cy="35.6" r="1.5" fill="rgb(212,205,232)"/>
<circle cx="54.8" cy="24.3" r="1.6" fill="rgb(212,205,232)"/>
<circle cx="52.3" cy="33.7" r="1.5" fill="rgb(212,205,232)"/>
<circle cx="47.7" cy="26.9" r="0.8" fill="rgb(212,205,232)"/>
</g>
<g filter="url(#bl2)">
</g>
</g></g>
<g clip-path="url(#cp12)">
<rect x="680" y="32" width="210" height="208" fill="rgb(222,229,214)"/>
<g transform="translate(680,32)">
<path d="M85.8,54.3 C85.7,55.7 85.6,57.0 85.0,58.3 C84.4,59.5 83.6,60.9 82.4,61.7 C81.2,62.5 79.3,62.7 77.8,63.0 C76.3,63.2 74.9,63.2 73.5,63.2 C72.1,63.2 70.5,63.3 69.2,62.9 C67.9,62.6 66.7,61.8 65.5,61.0 C64.2,60.2 62.9,59.4 61.8,58.3 C60.8,57.2 59.3,55.7 59.2,54.3 C59.1,52.9 60.2,51.2 61.2,50.1 C62.3,49.0 64.2,48.3 65.5,47.7 C66.9,47.0 68.0,46.4 69.4,46.0 C70.7,45.6 72.1,45.4 73.5,45.4 C74.9,45.4 76.2,45.6 77.7,45.8 C79.2,46.0 81.2,46.1 82.5,46.8 C83.9,47.5 85.3,48.8 85.8,50.0 C86.4,51.3 86.0,52.9 85.8,54.3Z" fill="rgb(205,125,150)" filter="url(#bl1)"/>
<path d="M149.6,68.3 C149.7,72.7 149.2,77.4 147.8,81.6 C146.3,85.8 144.0,90.3 140.9,93.4 C137.8,96.5 133.2,98.8 129.1,100.1 C124.9,101.4 120.3,101.7 116.0,101.5 C111.7,101.3 107.3,100.4 103.5,98.7 C99.7,97.0 96.2,94.3 93.2,91.3 C90.1,88.4 87.3,85.0 85.3,81.1 C83.2,77.3 81.1,72.7 80.8,68.3 C80.5,63.9 81.6,58.7 83.4,54.7 C85.3,50.7 88.7,47.0 92.0,44.1 C95.3,41.1 99.2,38.6 103.2,37.0 C107.2,35.5 111.8,34.8 116.0,34.9 C120.2,35.1 124.5,36.3 128.5,37.9 C132.4,39.5 136.4,41.6 139.6,44.5 C142.7,47.4 145.6,51.3 147.3,55.2 C149.0,59.2 149.5,63.9 149.6,68.3Z" fill="none" stroke="rgb(222,229,214)" stroke-width="3.2" filter="url(#bl1)"/>
<path d="M149.6,68.3 C149.7,72.7 149.2,77.4 147.8,81.6 C146.3,85.8 144.0,90.3 140.9,93.4 C137.8,96.5 133.2,98.8 129.1,100.1 C124.9,101.4 120.3,101.7 116.0,101.5 C111.7,101.3 107.3,100.4 103.5,98.7 C99.7,97.0 96.2,94.3 93.2,91.3 C90.1,88.4 87.3,85.0 85.3,81.1 C83.2,77.3 81.1,72.7 80.8,68.3 C80.5,63.9 81.6,58.7 83.4,54.7 C85.3,50.7 88.7,47.0 92.0,44.1 C95.3,41.1 99.2,38.6 103.2,37.0 C107.2,35.5 111.8,34.8 116.0,34.9 C120.2,35.1 124.5,36.3 128.5,37.9 C132.4,39.5 136.4,41.6 139.6,44.5 C142.7,47.4 145.6,51.3 147.3,55.2 C149.0,59.2 149.5,63.9 149.6,68.3Z" fill="rgb(128,88,170)" stroke="rgb(75,45,135)" stroke-width="1.4" filter="url(#bl1)"/>
<path d="M139.0,67.4 C139.8,70.7 141.2,75.0 140.4,78.4 C139.6,81.8 137.1,85.8 134.4,88.0 C131.6,90.1 127.0,90.4 123.6,91.1 C120.2,91.7 117.0,91.7 113.8,91.6 C110.6,91.6 107.2,91.8 104.1,90.8 C101.1,89.8 98.0,87.9 95.5,85.7 C93.1,83.4 90.8,80.5 89.4,77.5 C88.1,74.5 87.3,70.7 87.6,67.4 C87.8,64.1 89.7,61.0 91.1,58.0 C92.4,55.0 93.8,52.2 95.8,49.4 C97.8,46.6 99.9,42.7 102.9,41.0 C105.9,39.3 110.4,38.6 113.8,39.1 C117.2,39.6 120.7,42.1 123.5,44.0 C126.3,46.0 128.5,48.3 130.5,50.7 C132.5,53.1 134.1,55.6 135.5,58.4 C136.9,61.2 138.2,64.1 139.0,67.4Z" fill="rgb(128,45,118)" filter="url(#grain)"/>
<path d="M118.8,118.8 C117.9,121.3 115.7,123.4 113.9,125.3 C112.0,127.3 109.9,129.1 107.5,130.4 C105.0,131.7 102.1,132.8 99.2,133.0 C96.3,133.3 93.1,132.7 90.2,132.0 C87.3,131.2 84.2,130.1 81.7,128.5 C79.2,126.9 76.7,124.7 75.1,122.4 C73.6,120.0 72.8,117.1 72.4,114.4 C72.0,111.8 71.9,108.9 72.4,106.3 C73.0,103.7 73.9,100.8 75.7,98.8 C77.5,96.8 80.4,95.3 83.1,94.3 C85.8,93.3 88.8,92.9 91.7,92.7 C94.7,92.5 97.7,92.4 100.6,93.1 C103.5,93.8 106.4,95.1 108.9,96.7 C111.4,98.3 113.7,100.4 115.4,102.7 C117.2,105.0 119.1,107.8 119.7,110.5 C120.2,113.1 119.8,116.3 118.8,118.8Z" fill="none" stroke="rgb(222,229,214)" stroke-width="3.2" filter="url(#bl1)"/>
<path d="M118.8,118.8 C117.9,121.3 115.7,123.4 113.9,125.3 C112.0,127.3 109.9,129.1 107.5,130.4 C105.0,131.7 102.1,132.8 99.2,133.0 C96.3,133.3 93.1,132.7 90.2,132.0 C87.3,131.2 84.2,130.1 81.7,128.5 C79.2,126.9 76.7,124.7 75.1,122.4 C73.6,120.0 72.8,117.1 72.4,114.4 C72.0,111.8 71.9,108.9 72.4,106.3 C73.0,103.7 73.9,100.8 75.7,98.8 C77.5,96.8 80.4,95.3 83.1,94.3 C85.8,93.3 88.8,92.9 91.7,92.7 C94.7,92.5 97.7,92.4 100.6,93.1 C103.5,93.8 106.4,95.1 108.9,96.7 C111.4,98.3 113.7,100.4 115.4,102.7 C117.2,105.0 119.1,107.8 119.7,110.5 C120.2,113.1 119.8,116.3 118.8,118.8Z" fill="rgb(128,88,170)" stroke="rgb(75,45,135)" stroke-width="1.4" filter="url(#bl1)"/>
<path d="M112.2,117.0 C111.9,119.0 112.0,121.4 110.8,123.0 C109.6,124.6 107.3,125.7 105.2,126.6 C103.2,127.5 100.9,128.1 98.5,128.4 C96.2,128.7 93.4,129.1 91.1,128.5 C88.8,127.9 86.7,126.0 84.9,124.6 C83.0,123.1 81.4,121.6 79.7,119.8 C78.0,118.1 75.3,116.1 74.6,114.0 C74.0,111.9 74.7,109.1 75.8,107.3 C77.0,105.4 79.7,104.3 81.5,103.0 C83.2,101.7 84.4,100.4 86.3,99.4 C88.1,98.4 90.2,97.5 92.4,97.2 C94.6,96.8 96.9,97.1 99.5,97.3 C102.0,97.6 105.2,97.5 107.5,98.6 C109.9,99.8 112.4,102.0 113.3,104.1 C114.3,106.2 113.2,109.0 113.0,111.2 C112.8,113.4 112.6,115.0 112.2,117.0Z" fill="rgb(128,45,118)" filter="url(#grain)"/>
<path d="M96.9,140.1 C98.0,143.3 98.2,147.0 98.1,150.4 C98.1,153.8 97.8,157.3 96.7,160.4 C95.7,163.5 94.0,166.8 91.8,168.9 C89.6,171.0 86.3,172.3 83.4,173.0 C80.5,173.8 77.4,173.9 74.4,173.6 C71.3,173.3 68.1,172.9 65.3,171.5 C62.5,170.1 59.6,167.9 57.4,165.4 C55.1,162.9 53.1,159.7 51.8,156.5 C50.5,153.3 49.3,149.5 49.4,146.1 C49.4,142.7 50.6,139.0 52.1,136.2 C53.6,133.3 55.9,131.1 58.2,129.0 C60.4,126.9 62.7,124.9 65.4,123.7 C68.2,122.5 71.4,121.7 74.5,122.0 C77.5,122.2 80.7,123.4 83.6,124.9 C86.4,126.5 89.4,128.5 91.6,131.0 C93.8,133.6 95.8,136.9 96.9,140.1Z" fill="none" stroke="rgb(222,229,214)" stroke-width="3.2" filter="url(#bl1)"/>
<path d="M96.9,140.1 C98.0,143.3 98.2,147.0 98.1,150.4 C98.1,153.8 97.8,157.3 96.7,160.4 C95.7,163.5 94.0,166.8 91.8,168.9 C89.6,171.0 86.3,172.3 83.4,173.0 C80.5,173.8 77.4,173.9 74.4,173.6 C71.3,173.3 68.1,172.9 65.3,171.5 C62.5,170.1 59.6,167.9 57.4,165.4 C55.1,162.9 53.1,159.7 51.8,156.5 C50.5,153.3 49.3,149.5 49.4,146.1 C49.4,142.7 50.6,139.0 52.1,136.2 C53.6,133.3 55.9,131.1 58.2,129.0 C60.4,126.9 62.7,124.9 65.4,123.7 C68.2,122.5 71.4,121.7 74.5,122.0 C77.5,122.2 80.7,123.4 83.6,124.9 C86.4,126.5 89.4,128.5 91.6,131.0 C93.8,133.6 95.8,136.9 96.9,140.1Z" fill="rgb(128,88,170)" stroke="rgb(75,45,135)" stroke-width="1.4" filter="url(#bl1)"/>
<path d="M90.1,144.3 C90.6,146.9 90.7,148.9 91.3,151.7 C91.8,154.4 93.7,157.9 93.4,160.6 C93.1,163.3 91.2,166.3 89.3,167.9 C87.3,169.6 84.3,169.7 81.9,170.5 C79.4,171.3 77.0,172.7 74.5,172.7 C72.0,172.6 68.9,171.6 66.8,170.0 C64.6,168.5 63.2,165.4 61.5,163.2 C59.8,160.9 57.8,159.0 56.7,156.4 C55.6,153.9 54.8,150.6 55.1,148.1 C55.4,145.6 57.6,143.6 58.6,141.2 C59.6,138.8 59.9,136.4 61.1,133.9 C62.3,131.5 63.7,127.7 65.9,126.5 C68.1,125.3 71.6,125.9 74.3,126.6 C76.9,127.2 79.5,128.9 81.8,130.4 C84.2,132.0 86.8,133.6 88.1,136.0 C89.5,138.3 89.6,141.7 90.1,144.3Z" fill="rgb(128,45,118)" filter="url(#grain)"/>
<path d="M172.6,145.0 C172.8,148.4 173.0,152.1 172.0,155.4 C171.0,158.8 169.2,162.5 166.7,165.1 C164.2,167.7 160.5,169.6 157.0,170.9 C153.6,172.2 149.6,173.0 146.0,172.9 C142.4,172.8 138.4,171.7 135.3,170.1 C132.2,168.5 129.6,165.7 127.3,163.2 C124.9,160.7 122.7,158.1 121.1,155.0 C119.5,152.0 117.9,148.4 117.7,145.0 C117.5,141.6 118.5,137.7 119.9,134.5 C121.3,131.3 123.5,128.1 126.0,125.6 C128.5,123.0 131.6,120.4 134.9,119.0 C138.3,117.7 142.4,117.3 146.0,117.5 C149.6,117.7 153.3,118.8 156.6,120.1 C159.9,121.5 163.4,123.3 165.8,125.8 C168.2,128.2 170.0,131.7 171.2,134.9 C172.3,138.1 172.5,141.6 172.6,145.0Z" fill="none" stroke="rgb(222,229,214)" stroke-width="3.2" filter="url(#bl1)"/>
<path d="M172.6,145.0 C172.8,148.4 173.0,152.1 172.0,155.4 C171.0,158.8 169.2,162.5 166.7,165.1 C164.2,167.7 160.5,169.6 157.0,170.9 C153.6,172.2 149.6,173.0 146.0,172.9 C142.4,172.8 138.4,171.7 135.3,170.1 C132.2,168.5 129.6,165.7 127.3,163.2 C124.9,160.7 122.7,158.1 121.1,155.0 C119.5,152.0 117.9,148.4 117.7,145.0 C117.5,141.6 118.5,137.7 119.9,134.5 C121.3,131.3 123.5,128.1 126.0,125.6 C128.5,123.0 131.6,120.4 134.9,119.0 C138.3,117.7 142.4,117.3 146.0,117.5 C149.6,117.7 153.3,118.8 156.6,120.1 C159.9,121.5 163.4,123.3 165.8,125.8 C168.2,128.2 170.0,131.7 171.2,134.9 C172.3,138.1 172.5,141.6 172.6,145.0Z" fill="rgb(128,88,170)" stroke="rgb(75,45,135)" stroke-width="1.4" filter="url(#bl1)"/>
<path d="M166.6,145.0 C166.4,147.7 166.5,150.2 165.8,152.8 C165.1,155.4 164.4,158.9 162.4,160.6 C160.5,162.4 156.8,163.0 154.0,163.5 C151.3,163.9 148.6,163.5 146.0,163.4 C143.4,163.3 140.6,163.6 138.3,162.7 C136.0,161.8 134.1,159.8 132.3,158.1 C130.4,156.4 128.9,154.6 127.2,152.4 C125.5,150.2 122.6,147.7 122.1,145.0 C121.6,142.3 122.8,138.8 124.4,136.5 C126.0,134.2 129.4,132.9 131.7,131.4 C134.0,129.8 135.8,128.1 138.2,127.1 C140.6,126.2 143.5,125.6 146.0,125.8 C148.5,125.9 150.8,127.3 153.3,128.2 C155.8,129.0 158.7,129.3 160.9,130.8 C163.2,132.2 165.7,134.5 166.7,136.8 C167.6,139.2 166.7,142.3 166.6,145.0Z" fill="rgb(128,45,118)" filter="url(#grain)"/>
<g filter="url(#bl2)">
<ellipse cx="113.8" cy="67.4" rx="6.5" ry="6.5" fill="rgb(175,120,178)"/>
<ellipse cx="144" cy="146" rx="4.5" ry="4.5" fill="rgb(175,120,178)"/>
</g>
</g></g>
<g clip-path="url(#cp13)">
<rect x="902" y="32" width="207" height="206.5" fill="rgb(221,219,211)"/>
<g transform="translate(902,32)">
<path d="M124.1,35.5 C124.4,38.6 124.1,42.2 123.0,45.1 C122.0,48.0 119.8,50.8 117.5,53.0 C115.3,55.2 112.5,57.0 109.6,58.2 C106.8,59.3 103.5,60.1 100.5,60.0 C97.5,59.8 94.4,58.8 91.7,57.5 C89.0,56.2 86.4,54.3 84.3,52.2 C82.2,50.0 80.3,47.4 79.1,44.6 C78.0,41.8 77.5,38.6 77.5,35.5 C77.5,32.4 77.9,29.2 78.9,26.3 C79.8,23.3 81.1,20.0 83.2,17.6 C85.2,15.3 88.2,13.2 91.1,12.1 C94.0,11.0 97.5,10.9 100.5,11.1 C103.5,11.4 106.7,12.2 109.3,13.6 C112.0,14.9 114.4,16.9 116.4,19.1 C118.4,21.3 120.0,23.9 121.2,26.6 C122.5,29.4 123.8,32.4 124.1,35.5Z" fill="none" stroke="rgb(221,219,211)" stroke-width="3.2" filter="url(#bl1)"/>
<path d="M124.1,35.5 C124.4,38.6 124.1,42.2 123.0,45.1 C122.0,48.0 119.8,50.8 117.5,53.0 C115.3,55.2 112.5,57.0 109.6,58.2 C106.8,59.3 103.5,60.1 100.5,60.0 C97.5,59.8 94.4,58.8 91.7,57.5 C89.0,56.2 86.4,54.3 84.3,52.2 C82.2,50.0 80.3,47.4 79.1,44.6 C78.0,41.8 77.5,38.6 77.5,35.5 C77.5,32.4 77.9,29.2 78.9,26.3 C79.8,23.3 81.1,20.0 83.2,17.6 C85.2,15.3 88.2,13.2 91.1,12.1 C94.0,11.0 97.5,10.9 100.5,11.1 C103.5,11.4 106.7,12.2 109.3,13.6 C112.0,14.9 114.4,16.9 116.4,19.1 C118.4,21.3 120.0,23.9 121.2,26.6 C122.5,29.4 123.8,32.4 124.1,35.5Z" fill="rgb(175,150,215)" stroke="rgb(95,85,160)" stroke-width="1.4" filter="url(#bl1)"/>
<path d="M114.8,33.0 C115.4,35.1 116.7,38.0 116.2,40.1 C115.7,42.3 113.7,44.6 111.8,46.1 C110.0,47.5 107.2,48.1 104.9,48.8 C102.6,49.4 100.3,50.1 98.0,50.0 C95.7,49.8 93.4,49.0 91.4,48.1 C89.4,47.1 87.7,45.8 86.0,44.4 C84.2,43.0 81.9,41.6 80.8,39.7 C79.7,37.8 79.3,35.1 79.6,33.0 C79.9,30.9 81.6,28.9 82.5,26.9 C83.5,25.0 84.0,22.9 85.4,21.1 C86.7,19.2 88.4,17.0 90.5,16.0 C92.6,15.0 95.6,15.1 98.0,15.3 C100.4,15.4 102.9,16.1 105.0,17.1 C107.0,18.1 109.1,19.6 110.4,21.3 C111.7,23.0 111.9,25.3 112.6,27.3 C113.4,29.2 114.2,30.9 114.8,33.0Z" fill="rgb(170,50,160)" filter="url(#grain)"/>
<path d="M123.7,88.4 C123.8,91.6 123.0,95.1 121.7,98.1 C120.4,101.1 118.4,104.0 116.0,106.6 C113.6,109.1 110.7,111.9 107.4,113.3 C104.0,114.8 99.7,115.4 96.0,115.3 C92.3,115.1 88.5,113.8 85.1,112.4 C81.7,111.0 78.2,109.3 75.5,107.0 C72.9,104.7 70.6,101.5 69.4,98.4 C68.2,95.3 68.3,91.7 68.5,88.4 C68.7,85.1 69.2,81.8 70.4,78.8 C71.7,75.7 73.4,72.5 75.9,70.1 C78.3,67.7 81.7,65.9 85.1,64.4 C88.4,63.0 92.2,61.8 96.0,61.5 C99.8,61.3 104.2,61.5 107.6,62.9 C111.0,64.3 114.0,67.3 116.3,69.9 C118.6,72.6 120.1,75.8 121.3,78.9 C122.5,82.0 123.7,85.2 123.7,88.4Z" fill="none" stroke="rgb(221,219,211)" stroke-width="3.2" filter="url(#bl1)"/>
<path d="M123.7,88.4 C123.8,91.6 123.0,95.1 121.7,98.1 C120.4,101.1 118.4,104.0 116.0,106.6 C113.6,109.1 110.7,111.9 107.4,113.3 C104.0,114.8 99.7,115.4 96.0,115.3 C92.3,115.1 88.5,113.8 85.1,112.4 C81.7,111.0 78.2,109.3 75.5,107.0 C72.9,104.7 70.6,101.5 69.4,98.4 C68.2,95.3 68.3,91.7 68.5,88.4 C68.7,85.1 69.2,81.8 70.4,78.8 C71.7,75.7 73.4,72.5 75.9,70.1 C78.3,67.7 81.7,65.9 85.1,64.4 C88.4,63.0 92.2,61.8 96.0,61.5 C99.8,61.3 104.2,61.5 107.6,62.9 C111.0,64.3 114.0,67.3 116.3,69.9 C118.6,72.6 120.1,75.8 121.3,78.9 C122.5,82.0 123.7,85.2 123.7,88.4Z" fill="rgb(175,150,215)" stroke="rgb(95,85,160)" stroke-width="1.4" filter="url(#bl1)"/>
<path d="M117.2,83.0 C117.6,85.4 119.0,88.3 118.1,90.5 C117.2,92.7 114.3,95.0 111.6,96.2 C109.0,97.5 105.2,97.5 102.3,98.0 C99.4,98.6 96.9,99.5 94.0,99.7 C91.1,99.9 87.9,99.8 85.1,99.2 C82.2,98.6 79.5,97.3 76.8,95.9 C74.1,94.5 70.4,93.0 68.9,90.8 C67.3,88.7 66.6,85.3 67.4,83.0 C68.2,80.7 71.8,78.6 73.8,76.7 C75.7,74.8 77.1,73.4 79.0,71.7 C80.8,70.0 82.4,67.7 84.9,66.5 C87.4,65.4 90.9,65.1 94.0,65.0 C97.1,64.9 100.4,65.2 103.4,65.9 C106.4,66.7 110.0,67.7 112.0,69.5 C114.1,71.2 114.7,74.0 115.6,76.3 C116.4,78.6 116.7,80.6 117.2,83.0Z" fill="rgb(170,50,160)" filter="url(#grain)"/>
<path d="M180.6,71.0 C180.6,74.8 179.5,78.9 178.1,82.4 C176.8,85.9 174.6,89.1 172.3,91.9 C170.0,94.8 167.4,97.9 164.4,99.6 C161.3,101.3 157.4,102.2 154.0,102.2 C150.6,102.1 146.9,100.8 143.8,99.3 C140.6,97.7 137.2,95.6 134.9,92.9 C132.5,90.1 130.7,86.1 129.7,82.5 C128.7,78.9 128.9,74.8 129.0,71.0 C129.1,67.2 129.1,63.3 130.1,59.7 C131.1,56.0 132.6,52.0 134.9,49.1 C137.1,46.3 140.5,44.1 143.7,42.6 C146.9,41.1 150.5,40.0 154.0,39.9 C157.5,39.9 161.4,40.5 164.4,42.2 C167.5,43.9 170.2,47.1 172.4,50.0 C174.6,52.9 176.4,56.2 177.8,59.7 C179.1,63.2 180.5,67.2 180.6,71.0Z" fill="none" stroke="rgb(221,219,211)" stroke-width="3.2" filter="url(#bl1)"/>
<path d="M180.6,71.0 C180.6,74.8 179.5,78.9 178.1,82.4 C176.8,85.9 174.6,89.1 172.3,91.9 C170.0,94.8 167.4,97.9 164.4,99.6 C161.3,101.3 157.4,102.2 154.0,102.2 C150.6,102.1 146.9,100.8 143.8,99.3 C140.6,97.7 137.2,95.6 134.9,92.9 C132.5,90.1 130.7,86.1 129.7,82.5 C128.7,78.9 128.9,74.8 129.0,71.0 C129.1,67.2 129.1,63.3 130.1,59.7 C131.1,56.0 132.6,52.0 134.9,49.1 C137.1,46.3 140.5,44.1 143.7,42.6 C146.9,41.1 150.5,40.0 154.0,39.9 C157.5,39.9 161.4,40.5 164.4,42.2 C167.5,43.9 170.2,47.1 172.4,50.0 C174.6,52.9 176.4,56.2 177.8,59.7 C179.1,63.2 180.5,67.2 180.6,71.0Z" fill="rgb(175,150,215)" stroke="rgb(95,85,160)" stroke-width="1.4" filter="url(#bl1)"/>
<path d="M171.1,68.0 C171.3,70.8 171.9,74.1 171.1,76.6 C170.2,79.2 168.0,81.4 166.2,83.6 C164.4,85.7 162.5,87.8 160.1,89.4 C157.7,91.0 154.7,93.4 152.0,93.4 C149.3,93.5 146.2,91.3 143.8,89.6 C141.5,88.0 139.9,85.6 137.9,83.5 C135.9,81.4 133.0,79.7 131.8,77.1 C130.7,74.6 130.5,70.9 130.9,68.0 C131.3,65.1 133.2,62.6 134.2,59.9 C135.3,57.3 135.8,54.3 137.4,52.0 C139.0,49.8 141.5,47.7 143.9,46.6 C146.3,45.5 149.2,45.8 152.0,45.5 C154.8,45.2 158.0,44.2 160.7,45.0 C163.5,45.7 166.9,47.5 168.5,50.0 C170.1,52.4 169.9,56.7 170.3,59.7 C170.8,62.7 171.0,65.2 171.1,68.0Z" fill="rgb(170,50,160)" filter="url(#grain)"/>
<path d="M164.3,118.7 C164.4,122.4 163.8,126.4 162.5,129.9 C161.2,133.4 159.2,137.1 156.6,139.6 C154.1,142.0 150.5,143.7 147.2,144.8 C143.9,146.0 140.4,146.4 137.0,146.5 C133.6,146.5 129.9,146.5 126.7,145.2 C123.5,144.0 120.3,141.6 117.9,139.0 C115.5,136.4 113.7,132.9 112.3,129.6 C111.0,126.2 109.8,122.4 109.7,118.7 C109.6,115.0 110.3,110.9 111.7,107.6 C113.1,104.2 115.5,101.1 117.9,98.4 C120.4,95.8 123.3,93.2 126.5,91.7 C129.7,90.3 133.6,89.5 137.0,89.7 C140.4,90.0 143.9,91.6 147.0,93.1 C150.1,94.7 153.0,96.6 155.5,99.0 C158.1,101.4 160.7,104.3 162.2,107.6 C163.6,110.9 164.3,115.0 164.3,118.7Z" fill="none" stroke="rgb(221,219,211)" stroke-width="3.2" filter="url(#bl1)"/>
<path d="M164.3,118.7 C164.4,122.4 163.8,126.4 162.5,129.9 C161.2,133.4 159.2,137.1 156.6,139.6 C154.1,142.0 150.5,143.7 147.2,144.8 C143.9,146.0 140.4,146.4 137.0,146.5 C133.6,146.5 129.9,146.5 126.7,145.2 C123.5,144.0 120.3,141.6 117.9,139.0 C115.5,136.4 113.7,132.9 112.3,129.6 C111.0,126.2 109.8,122.4 109.7,118.7 C109.6,115.0 110.3,110.9 111.7,107.6 C113.1,104.2 115.5,101.1 117.9,98.4 C120.4,95.8 123.3,93.2 126.5,91.7 C129.7,90.3 133.6,89.5 137.0,89.7 C140.4,90.0 143.9,91.6 147.0,93.1 C150.1,94.7 153.0,96.6 155.5,99.0 C158.1,101.4 160.7,104.3 162.2,107.6 C163.6,110.9 164.3,115.0 164.3,118.7Z" fill="rgb(175,150,215)" stroke="rgb(95,85,160)" stroke-width="1.4" filter="url(#bl1)"/>
<path d="M149.9,112.0 C149.6,114.6 149.1,117.3 147.9,119.4 C146.7,121.5 144.5,123.2 142.7,124.7 C140.9,126.3 139.1,127.3 136.9,128.8 C134.8,130.2 132.6,132.7 130.0,133.4 C127.4,134.1 123.8,133.9 121.4,132.8 C119.0,131.6 117.1,128.7 115.5,126.5 C113.9,124.3 112.5,122.0 111.7,119.6 C110.9,117.1 110.4,114.4 110.6,112.0 C110.8,109.6 111.9,107.2 112.8,104.9 C113.7,102.6 114.4,100.0 116.0,98.0 C117.5,96.0 119.7,93.7 122.0,92.8 C124.4,91.9 127.4,92.5 130.0,92.7 C132.6,92.9 134.9,93.3 137.5,94.0 C140.0,94.6 143.3,95.0 145.3,96.7 C147.3,98.3 148.9,101.3 149.7,103.9 C150.4,106.4 150.2,109.4 149.9,112.0Z" fill="rgb(170,50,160)" filter="url(#grain)"/>
<path d="M61.9,155.0 C61.8,158.4 61.0,162.1 59.8,165.1 C58.6,168.1 56.5,170.7 54.6,173.0 C52.6,175.3 50.5,177.5 48.1,179.1 C45.6,180.6 42.8,182.1 40.0,182.4 C37.2,182.6 34.1,181.9 31.4,180.5 C28.8,179.2 26.2,177.0 24.2,174.5 C22.3,172.0 20.5,168.7 19.6,165.4 C18.7,162.2 18.6,158.4 18.8,155.0 C19.0,151.6 19.7,148.3 20.7,145.1 C21.7,142.0 22.9,138.6 24.7,136.1 C26.6,133.7 29.2,131.5 31.7,130.3 C34.2,129.0 37.2,128.5 40.0,128.4 C42.8,128.4 45.8,128.6 48.4,129.8 C51.1,131.0 53.8,133.1 55.7,135.5 C57.7,138.0 59.2,141.4 60.3,144.6 C61.3,147.9 62.0,151.6 61.9,155.0Z" fill="none" stroke="rgb(221,219,211)" stroke-width="3.2" filter="url(#bl1)"/>
<path d="M61.9,155.0 C61.8,158.4 61.0,162.1 59.8,165.1 C58.6,168.1 56.5,170.7 54.6,173.0 C52.6,175.3 50.5,177.5 48.1,179.1 C45.6,180.6 42.8,182.1 40.0,182.4 C37.2,182.6 34.1,181.9 31.4,180.5 C28.8,179.2 26.2,177.0 24.2,174.5 C22.3,172.0 20.5,168.7 19.6,165.4 C18.7,162.2 18.6,158.4 18.8,155.0 C19.0,151.6 19.7,148.3 20.7,145.1 C21.7,142.0 22.9,138.6 24.7,136.1 C26.6,133.7 29.2,131.5 31.7,130.3 C34.2,129.0 37.2,128.5 40.0,128.4 C42.8,128.4 45.8,128.6 48.4,129.8 C51.1,131.0 53.8,133.1 55.7,135.5 C57.7,138.0 59.2,141.4 60.3,144.6 C61.3,147.9 62.0,151.6 61.9,155.0Z" fill="rgb(175,150,215)" stroke="rgb(95,85,160)" stroke-width="1.4" filter="url(#bl1)"/>
<path d="M59.9,148.0 C60.3,150.2 59.6,152.8 58.8,155.0 C57.9,157.1 56.5,159.5 54.6,161.1 C52.7,162.6 50.0,163.9 47.6,164.4 C45.2,164.9 42.4,164.3 40.0,164.0 C37.6,163.8 35.4,163.5 33.2,162.8 C30.9,162.1 28.4,161.3 26.8,159.8 C25.1,158.4 24.2,156.2 23.3,154.2 C22.5,152.2 22.0,150.2 21.7,148.0 C21.4,145.8 20.8,143.3 21.5,141.1 C22.1,139.0 23.8,136.7 25.6,135.1 C27.4,133.5 29.9,132.2 32.3,131.3 C34.7,130.5 37.6,129.9 40.0,130.2 C42.4,130.6 44.9,132.1 46.8,133.3 C48.7,134.6 49.8,136.3 51.5,137.7 C53.1,139.2 55.2,140.1 56.6,141.9 C58.0,143.6 59.6,145.8 59.9,148.0Z" fill="rgb(170,50,160)" filter="url(#grain)"/>
<g filter="url(#bl2)">
<ellipse cx="100" cy="38" rx="4.5" ry="6" fill="rgb(205,145,195)"/>
<ellipse cx="92" cy="86" rx="4.5" ry="3" fill="rgb(205,145,195)"/>
<ellipse cx="156" cy="72" rx="6.5" ry="6.5" fill="rgb(212,165,205)"/>
<ellipse cx="142" cy="125" rx="6" ry="8" fill="rgb(205,150,198)"/>
<ellipse cx="38" cy="160" rx="4.5" ry="6" fill="rgb(200,140,195)"/>
</g>
</g></g>
<g clip-path="url(#cp21)">
<rect x="458" y="252" width="210.5" height="210.5" fill="rgb(229,232,196)"/>
<g transform="translate(458,252)">
<path d="M96.5,43.5 C96.7,46.6 95.2,50.2 93.6,53.0 C91.9,55.9 89.4,58.6 86.6,60.8 C83.8,63.0 80.4,65.0 76.9,66.1 C73.4,67.1 69.2,67.2 65.5,67.1 C61.8,66.9 58.0,66.3 54.5,65.2 C51.1,64.1 47.2,62.8 44.6,60.7 C41.9,58.6 39.9,55.5 38.6,52.7 C37.2,49.8 36.8,46.6 36.6,43.5 C36.4,40.4 36.2,36.9 37.4,33.9 C38.5,31.0 40.9,27.8 43.7,25.6 C46.5,23.4 50.5,21.9 54.1,20.9 C57.7,19.9 61.8,19.3 65.5,19.4 C69.2,19.6 73.2,20.5 76.4,21.9 C79.7,23.2 82.4,25.4 85.1,27.4 C87.8,29.5 90.6,31.6 92.5,34.3 C94.4,37.0 96.3,40.4 96.5,43.5Z" fill="none" stroke="rgb(229,232,196)" stroke-width="3.2" filter="url(#bl1)"/>
<path d="M96.5,43.5 C96.7,46.6 95.2,50.2 93.6,53.0 C91.9,55.9 89.4,58.6 86.6,60.8 C83.8,63.0 80.4,65.0 76.9,66.1 C73.4,67.1 69.2,67.2 65.5,67.1 C61.8,66.9 58.0,66.3 54.5,65.2 C51.1,64.1 47.2,62.8 44.6,60.7 C41.9,58.6 39.9,55.5 38.6,52.7 C37.2,49.8 36.8,46.6 36.6,43.5 C36.4,40.4 36.2,36.9 37.4,33.9 C38.5,31.0 40.9,27.8 43.7,25.6 C46.5,23.4 50.5,21.9 54.1,20.9 C57.7,19.9 61.8,19.3 65.5,19.4 C69.2,19.6 73.2,20.5 76.4,21.9 C79.7,23.2 82.4,25.4 85.1,27.4 C87.8,29.5 90.6,31.6 92.5,34.3 C94.4,37.0 96.3,40.4 96.5,43.5Z" fill="rgb(175,125,170)" stroke="rgb(75,40,40)" stroke-width="1.8" filter="url(#bl1)"/>
<path d="M87.1,42.0 C86.7,43.8 87.5,45.4 86.7,47.0 C86.0,48.6 84.5,50.3 82.5,51.6 C80.5,52.9 77.7,53.7 75.0,54.7 C72.2,55.6 69.1,57.1 66.0,57.2 C62.9,57.4 58.8,56.8 56.2,55.8 C53.5,54.8 52.2,52.7 50.1,51.3 C48.1,49.9 45.5,48.9 43.8,47.4 C42.2,45.8 40.1,43.7 40.2,42.0 C40.4,40.3 43.0,38.4 44.7,36.9 C46.4,35.3 48.3,34.1 50.3,32.8 C52.3,31.6 54.4,30.0 57.0,29.3 C59.6,28.6 62.9,28.7 66.0,28.6 C69.1,28.4 72.2,28.2 75.5,28.6 C78.8,28.9 83.6,29.1 85.8,30.5 C88.0,31.8 88.8,34.5 89.0,36.4 C89.2,38.4 87.4,40.2 87.1,42.0Z" fill="rgb(168,42,98)" filter="url(#grain)"/>
<path d="M139.7,52.3 C139.5,55.3 138.9,58.2 137.9,60.9 C136.8,63.5 135.2,66.1 133.3,68.2 C131.4,70.3 129.0,72.2 126.5,73.6 C123.9,74.9 120.9,76.3 118.0,76.4 C115.1,76.6 111.8,75.8 109.2,74.5 C106.5,73.2 104.2,70.9 102.2,68.7 C100.2,66.5 98.3,64.0 97.2,61.3 C96.0,58.5 95.1,55.3 95.2,52.3 C95.3,49.3 96.3,46.2 97.6,43.5 C98.8,40.8 100.6,38.3 102.6,36.3 C104.6,34.3 107.1,32.4 109.6,31.3 C112.2,30.2 115.1,29.7 118.0,29.5 C120.9,29.4 123.9,29.4 126.8,30.3 C129.6,31.1 132.9,32.5 134.9,34.7 C137.0,36.8 138.5,40.2 139.3,43.1 C140.1,46.0 140.0,49.3 139.7,52.3Z" fill="none" stroke="rgb(229,232,196)" stroke-width="3.2" filter="url(#bl1)"/>
<path d="M139.7,52.3 C139.5,55.3 138.9,58.2 137.9,60.9 C136.8,63.5 135.2,66.1 133.3,68.2 C131.4,70.3 129.0,72.2 126.5,73.6 C123.9,74.9 120.9,76.3 118.0,76.4 C115.1,76.6 111.8,75.8 109.2,74.5 C106.5,73.2 104.2,70.9 102.2,68.7 C100.2,66.5 98.3,64.0 97.2,61.3 C96.0,58.5 95.1,55.3 95.2,52.3 C95.3,49.3 96.3,46.2 97.6,43.5 C98.8,40.8 100.6,38.3 102.6,36.3 C104.6,34.3 107.1,32.4 109.6,31.3 C112.2,30.2 115.1,29.7 118.0,29.5 C120.9,29.4 123.9,29.4 126.8,30.3 C129.6,31.1 132.9,32.5 134.9,34.7 C137.0,36.8 138.5,40.2 139.3,43.1 C140.1,46.0 140.0,49.3 139.7,52.3Z" fill="rgb(175,125,170)" stroke="rgb(75,40,40)" stroke-width="1.8" filter="url(#bl1)"/>
<path d="M126.1,52.0 C125.9,54.4 126.3,56.5 126.0,58.7 C125.6,60.9 124.9,63.6 123.8,65.3 C122.6,66.9 120.7,67.5 119.0,68.5 C117.4,69.6 115.8,71.0 114.0,71.5 C112.2,72.0 109.8,72.3 108.1,71.3 C106.4,70.3 105.2,67.6 104.0,65.6 C102.7,63.7 101.5,61.8 100.6,59.5 C99.8,57.3 98.7,54.4 98.9,52.0 C99.2,49.6 101.1,47.2 102.2,45.4 C103.3,43.5 104.6,42.5 105.7,40.8 C106.8,39.0 107.4,36.3 108.8,34.9 C110.2,33.5 112.2,32.7 114.0,32.5 C115.8,32.2 117.8,32.6 119.7,33.3 C121.6,34.0 124.2,34.6 125.5,36.4 C126.8,38.2 127.5,41.8 127.6,44.4 C127.7,47.0 126.4,49.6 126.1,52.0Z" fill="rgb(168,42,98)" filter="url(#grain)"/>
<path d="M98.3,94.5 C98.6,98.0 98.4,102.1 96.6,105.3 C94.9,108.4 91.1,111.2 87.8,113.3 C84.4,115.4 80.4,116.8 76.6,118.0 C72.7,119.2 68.7,120.3 64.6,120.4 C60.5,120.5 56.2,119.8 52.3,118.7 C48.3,117.6 44.3,115.9 41.0,113.7 C37.6,111.5 33.7,108.7 32.0,105.5 C30.2,102.3 29.9,98.0 30.4,94.5 C30.9,91.0 33.2,87.6 35.1,84.6 C37.0,81.5 39.0,78.4 41.8,76.0 C44.7,73.6 48.3,71.3 52.1,70.1 C55.9,68.8 60.4,68.5 64.6,68.4 C68.8,68.3 73.3,68.5 77.3,69.6 C81.2,70.8 85.4,72.8 88.4,75.2 C91.3,77.6 93.2,81.1 94.9,84.3 C96.5,87.5 98.0,91.0 98.3,94.5Z" fill="none" stroke="rgb(229,232,196)" stroke-width="3.2" filter="url(#bl1)"/>
<path d="M98.3,94.5 C98.6,98.0 98.4,102.1 96.6,105.3 C94.9,108.4 91.1,111.2 87.8,113.3 C84.4,115.4 80.4,116.8 76.6,118.0 C72.7,119.2 68.7,120.3 64.6,120.4 C60.5,120.5 56.2,119.8 52.3,118.7 C48.3,117.6 44.3,115.9 41.0,113.7 C37.6,111.5 33.7,108.7 32.0,105.5 C30.2,102.3 29.9,98.0 30.4,94.5 C30.9,91.0 33.2,87.6 35.1,84.6 C37.0,81.5 39.0,78.4 41.8,76.0 C44.7,73.6 48.3,71.3 52.1,70.1 C55.9,68.8 60.4,68.5 64.6,68.4 C68.8,68.3 73.3,68.5 77.3,69.6 C81.2,70.8 85.4,72.8 88.4,75.2 C91.3,77.6 93.2,81.1 94.9,84.3 C96.5,87.5 98.0,91.0 98.3,94.5Z" fill="rgb(175,125,170)" stroke="rgb(75,40,40)" stroke-width="1.8" filter="url(#bl1)"/>
<path d="M92.2,88.0 C92.2,90.0 92.2,92.0 91.4,93.9 C90.6,95.8 89.4,98.2 87.3,99.6 C85.2,100.9 81.7,101.5 78.8,102.2 C75.9,102.9 73.2,103.4 70.0,103.9 C66.8,104.3 62.7,105.4 59.6,104.8 C56.4,104.3 53.0,102.3 51.2,100.5 C49.4,98.7 49.1,96.0 48.6,93.9 C48.1,91.8 47.8,89.9 48.2,88.0 C48.5,86.1 49.7,84.4 50.8,82.7 C51.9,81.0 53.2,79.6 54.7,77.8 C56.2,75.9 57.3,73.1 59.9,71.7 C62.4,70.3 66.7,69.1 70.0,69.2 C73.3,69.4 76.7,71.4 79.5,72.7 C82.2,74.0 84.4,75.5 86.4,77.1 C88.4,78.6 90.6,80.2 91.5,82.1 C92.5,83.9 92.2,86.0 92.2,88.0Z" fill="rgb(168,42,98)" filter="url(#grain)"/>
<path d="M119.1,136.3 C118.9,140.1 118.0,144.0 116.5,147.5 C115.1,150.9 112.9,154.4 110.3,157.1 C107.7,159.8 104.3,162.0 100.8,163.7 C97.3,165.4 93.2,166.9 89.3,167.2 C85.4,167.4 80.7,166.9 77.2,165.3 C73.6,163.6 70.5,160.4 68.0,157.4 C65.5,154.4 63.6,150.9 62.2,147.4 C60.7,143.9 59.4,140.1 59.2,136.3 C59.1,132.5 60.0,128.4 61.4,124.9 C62.9,121.3 65.2,117.9 67.9,115.1 C70.6,112.3 74.0,109.6 77.5,108.2 C81.1,106.8 85.4,106.3 89.3,106.5 C93.2,106.6 97.1,107.6 100.7,109.0 C104.4,110.3 108.4,112.0 111.3,114.6 C114.2,117.1 116.8,120.9 118.1,124.5 C119.4,128.1 119.4,132.5 119.1,136.3Z" fill="none" stroke="rgb(229,232,196)" stroke-width="3.2" filter="url(#bl1)"/>
<path d="M119.1,136.3 C118.9,140.1 118.0,144.0 116.5,147.5 C115.1,150.9 112.9,154.4 110.3,157.1 C107.7,159.8 104.3,162.0 100.8,163.7 C97.3,165.4 93.2,166.9 89.3,167.2 C85.4,167.4 80.7,166.9 77.2,165.3 C73.6,163.6 70.5,160.4 68.0,157.4 C65.5,154.4 63.6,150.9 62.2,147.4 C60.7,143.9 59.4,140.1 59.2,136.3 C59.1,132.5 60.0,128.4 61.4,124.9 C62.9,121.3 65.2,117.9 67.9,115.1 C70.6,112.3 74.0,109.6 77.5,108.2 C81.1,106.8 85.4,106.3 89.3,106.5 C93.2,106.6 97.1,107.6 100.7,109.0 C104.4,110.3 108.4,112.0 111.3,114.6 C114.2,117.1 116.8,120.9 118.1,124.5 C119.4,128.1 119.4,132.5 119.1,136.3Z" fill="rgb(175,125,170)" stroke="rgb(75,40,40)" stroke-width="1.8" filter="url(#bl1)"/>
<path d="M102.8,136.8 C102.2,139.9 100.0,143.3 98.4,145.6 C96.9,147.9 94.9,149.1 93.2,150.9 C91.5,152.7 90.1,155.3 88.4,156.4 C86.7,157.6 84.5,158.0 82.8,157.6 C81.2,157.1 79.8,155.2 78.4,153.8 C76.9,152.4 75.3,151.2 74.3,149.0 C73.3,146.9 72.6,143.8 72.5,140.9 C72.4,138.0 73.1,134.8 73.5,131.6 C73.9,128.4 74.0,124.8 74.9,121.8 C75.9,118.7 77.6,115.0 79.4,113.4 C81.2,111.8 83.8,112.4 85.6,112.4 C87.5,112.4 89.0,112.9 90.7,113.2 C92.3,113.5 94.2,113.2 95.6,114.3 C97.0,115.3 98.2,117.4 99.3,119.5 C100.4,121.6 101.5,124.0 102.1,126.8 C102.7,129.7 103.4,133.7 102.8,136.8Z" fill="rgb(168,42,98)" filter="url(#grain)"/>
<path d="M182.6,133.6 C182.8,137.2 182.5,141.2 181.2,144.5 C179.8,147.8 177.2,150.9 174.6,153.3 C172.1,155.8 168.9,157.9 165.7,159.3 C162.4,160.6 158.7,161.6 155.2,161.5 C151.7,161.4 148.2,160.2 144.9,158.9 C141.6,157.6 138.2,156.0 135.4,153.7 C132.6,151.3 129.5,148.3 128.1,145.0 C126.7,141.6 126.5,137.2 126.9,133.6 C127.3,130.0 129.0,126.4 130.5,123.2 C132.0,120.0 133.8,116.8 136.2,114.3 C138.6,111.9 141.7,109.7 144.8,108.2 C148.0,106.8 151.6,105.9 155.2,105.6 C158.8,105.3 162.9,105.2 166.3,106.5 C169.6,107.8 173.0,110.4 175.3,113.2 C177.7,115.9 179.0,119.7 180.2,123.1 C181.4,126.5 182.5,130.0 182.6,133.6Z" fill="none" stroke="rgb(229,232,196)" stroke-width="3.2" filter="url(#bl1)"/>
<path d="M182.6,133.6 C182.8,137.2 182.5,141.2 181.2,144.5 C179.8,147.8 177.2,150.9 174.6,153.3 C172.1,155.8 168.9,157.9 165.7,159.3 C162.4,160.6 158.7,161.6 155.2,161.5 C151.7,161.4 148.2,160.2 144.9,158.9 C141.6,157.6 138.2,156.0 135.4,153.7 C132.6,151.3 129.5,148.3 128.1,145.0 C126.7,141.6 126.5,137.2 126.9,133.6 C127.3,130.0 129.0,126.4 130.5,123.2 C132.0,120.0 133.8,116.8 136.2,114.3 C138.6,111.9 141.7,109.7 144.8,108.2 C148.0,106.8 151.6,105.9 155.2,105.6 C158.8,105.3 162.9,105.2 166.3,106.5 C169.6,107.8 173.0,110.4 175.3,113.2 C177.7,115.9 179.0,119.7 180.2,123.1 C181.4,126.5 182.5,130.0 182.6,133.6Z" fill="rgb(175,125,170)" stroke="rgb(75,40,40)" stroke-width="1.8" filter="url(#bl1)"/>
<path d="M183.0,131.0 C182.8,132.9 180.1,135.1 177.9,136.5 C175.6,137.9 171.8,138.4 169.4,139.4 C166.9,140.4 165.5,141.6 163.1,142.4 C160.7,143.2 157.9,144.1 155.0,144.4 C152.1,144.6 149.0,144.3 145.8,144.0 C142.6,143.6 138.5,143.3 135.9,142.2 C133.3,141.0 130.8,138.9 130.2,137.0 C129.5,135.1 131.3,132.9 131.9,131.0 C132.5,129.1 132.7,127.5 133.7,125.8 C134.7,124.2 135.6,122.1 137.8,121.0 C139.9,119.8 143.6,119.4 146.5,119.0 C149.3,118.5 152.0,118.3 155.0,118.2 C158.0,118.0 161.4,117.5 164.2,118.0 C167.1,118.5 169.7,119.8 172.2,121.0 C174.6,122.2 176.9,123.6 178.7,125.3 C180.5,126.9 183.1,129.1 183.0,131.0Z" fill="rgb(168,42,98)" filter="url(#grain)"/>
<g filter="url(#bl1)">
<circle cx="62.0" cy="112.6" r="0.9" fill="rgb(235,215,225)"/>
<circle cx="65.0" cy="108.5" r="0.9" fill="rgb(235,215,225)"/>
<circle cx="71.7" cy="107.2" r="1.0" fill="rgb(235,215,225)"/>
<circle cx="55.1" cy="106.8" r="1.8" fill="rgb(235,215,225)"/>
<circle cx="57.1" cy="114.6" r="0.8" fill="rgb(235,215,225)"/>
<circle cx="67.4" cy="105.2" r="1.6" fill="rgb(235,215,225)"/>
<circle cx="67.5" cy="106.3" r="1.5" fill="rgb(235,215,225)"/>
<circle cx="56.6" cy="112.2" r="2.0" fill="rgb(235,215,225)"/>
<circle cx="52.4" cy="108.8" r="1.4" fill="rgb(235,215,225)"/>
<circle cx="60.3" cy="108.1" r="1.2" fill="rgb(235,215,225)"/>
<circle cx="72.6" cy="109.0" r="1.7" fill="rgb(235,215,225)"/>
<circle cx="66.6" cy="112.3" r="1.0" fill="rgb(235,215,225)"/>
<circle cx="64.7" cy="108.8" r="1.6" fill="rgb(235,215,225)"/>
<circle cx="62.4" cy="105.1" r="1.4" fill="rgb(235,215,225)"/>
<circle cx="78.7" cy="143.8" r="1.8" fill="rgb(235,215,225)"/>
<circle cx="72.1" cy="153.9" r="1.2" fill="rgb(235,215,225)"/>
<circle cx="74.0" cy="125.2" r="1.0" fill="rgb(235,215,225)"/>
<circle cx="78.1" cy="148.7" r="1.5" fill="rgb(235,215,225)"/>
<circle cx="66.2" cy="144.9" r="1.1" fill="rgb(235,215,225)"/>
<circle cx="80.4" cy="130.3" r="1.7" fill="rgb(235,215,225)"/>
<circle cx="71.3" cy="142.5" r="1.0" fill="rgb(235,215,225)"/>
<circle cx="76.5" cy="134.9" r="1.1" fill="rgb(235,215,225)"/>
<circle cx="69.2" cy="145.9" r="0.9" fill="rgb(235,215,225)"/>
<circle cx="75.8" cy="151.2" r="1.8" fill="rgb(235,215,225)"/>
<circle cx="80.1" cy="152.7" r="1.8" fill="rgb(235,215,225)"/>
<circle cx="75.2" cy="141.1" r="1.5" fill="rgb(235,215,225)"/>
<circle cx="82.6" cy="130.9" r="1.4" fill="rgb(235,215,225)"/>
<circle cx="75.7" cy="151.0" r="1.0" fill="rgb(235,215,225)"/>
<circle cx="77.9" cy="153.9" r="1.2" fill="rgb(235,215,225)"/>
<circle cx="75.2" cy="136.8" r="0.9" fill="rgb(235,215,225)"/>
<circle cx="108.0" cy="138.1" r="0.9" fill="rgb(235,215,225)"/>
<circle cx="111.2" cy="142.4" r="1.3" fill="rgb(235,215,225)"/>
<circle cx="101.8" cy="146.9" r="0.9" fill="rgb(235,215,225)"/>
<circle cx="105.9" cy="133.6" r="1.3" fill="rgb(235,215,225)"/>
<circle cx="109.5" cy="132.8" r="1.2" fill="rgb(235,215,225)"/>
<circle cx="102.0" cy="134.0" r="1.3" fill="rgb(235,215,225)"/>
<circle cx="100.9" cy="140.3" r="1.8" fill="rgb(235,215,225)"/>
<circle cx="107.5" cy="154.0" r="1.0" fill="rgb(235,215,225)"/>
<circle cx="108.8" cy="137.4" r="0.9" fill="rgb(235,215,225)"/>
<circle cx="100.4" cy="143.6" r="1.7" fill="rgb(235,215,225)"/>
<circle cx="151.7" cy="150.2" r="1.1" fill="rgb(235,215,225)"/>
<circle cx="170.1" cy="145.1" r="1.2" fill="rgb(235,215,225)"/>
<circle cx="146.6" cy="153.8" r="1.4" fill="rgb(235,215,225)"/>
<circle cx="152.2" cy="147.5" r="1.9" fill="rgb(235,215,225)"/>
<circle cx="159.3" cy="144.9" r="1.1" fill="rgb(235,215,225)"/>
<circle cx="165.0" cy="146.8" r="1.6" fill="rgb(235,215,225)"/>
<circle cx="159.1" cy="153.1" r="1.0" fill="rgb(235,215,225)"/>
<circle cx="169.9" cy="146.4" r="1.6" fill="rgb(235,215,225)"/>
<circle cx="168.0" cy="151.1" r="1.7" fill="rgb(235,215,225)"/>
<circle cx="172.7" cy="147.1" r="1.1" fill="rgb(235,215,225)"/>
<circle cx="158.1" cy="153.4" r="1.2" fill="rgb(235,215,225)"/>
<circle cx="176.3" cy="149.1" r="1.5" fill="rgb(235,215,225)"/>
<circle cx="156.7" cy="145.0" r="0.9" fill="rgb(235,215,225)"/>
<circle cx="150.9" cy="148.5" r="1.3" fill="rgb(235,215,225)"/>
<circle cx="135.0" cy="45.3" r="1.0" fill="rgb(235,215,225)"/>
<circle cx="134.6" cy="54.2" r="0.9" fill="rgb(235,215,225)"/>
<circle cx="133.1" cy="61.8" r="1.6" fill="rgb(235,215,225)"/>
<circle cx="127.6" cy="38.6" r="0.8" fill="rgb(235,215,225)"/>
<circle cx="127.7" cy="43.5" r="0.9" fill="rgb(235,215,225)"/>
<circle cx="128.3" cy="58.6" r="1.6" fill="rgb(235,215,225)"/>
<circle cx="127.6" cy="62.0" r="1.5" fill="rgb(235,215,225)"/>
<circle cx="130.0" cy="55.0" r="1.0" fill="rgb(235,215,225)"/>
<circle cx="128.0" cy="63.1" r="1.2" fill="rgb(235,215,225)"/>
<circle cx="132.6" cy="50.2" r="1.4" fill="rgb(235,215,225)"/>
</g>
<g filter="url(#bl2)">
</g>
</g></g>
<g clip-path="url(#cp22)">
<rect x="680" y="252" width="210" height="210.5" fill="rgb(238,232,216)"/>
<g transform="translate(680,252)">
<path d="M72.1,5.3 C72.3,6.3 71.3,7.4 70.5,8.3 C69.7,9.2 68.6,10.0 67.4,10.8 C66.2,11.5 64.9,12.5 63.3,12.9 C61.7,13.2 59.6,13.0 57.8,13.0 C56.0,13.0 54.4,12.8 52.5,12.6 C50.6,12.5 47.8,12.5 46.4,11.8 C45.0,11.1 44.1,9.7 43.9,8.6 C43.8,7.5 45.1,6.3 45.5,5.3 C45.9,4.3 45.8,3.5 46.3,2.6 C46.7,1.7 47.4,0.7 48.4,-0.1 C49.4,-0.8 50.9,-1.4 52.5,-2.0 C54.1,-2.6 55.9,-3.6 57.8,-3.8 C59.7,-4.0 62.3,-3.7 63.9,-3.1 C65.4,-2.4 66.0,-0.9 67.0,0.0 C68.0,1.0 68.8,1.6 69.6,2.5 C70.5,3.4 72.0,4.3 72.1,5.3Z" fill="rgb(228,195,205)" filter="url(#bl1)"/>
<path d="M67.3,54.3 C67.5,57.2 66.9,60.4 65.7,63.1 C64.6,65.8 62.7,68.4 60.6,70.6 C58.5,72.8 55.9,75.1 53.1,76.3 C50.3,77.4 46.7,77.7 43.7,77.4 C40.7,77.1 37.8,75.5 35.2,74.2 C32.5,72.9 29.9,71.6 27.7,69.8 C25.5,67.9 23.1,65.7 21.8,63.1 C20.5,60.5 19.9,57.3 19.8,54.3 C19.8,51.3 20.1,48.1 21.3,45.3 C22.4,42.5 24.2,39.6 26.5,37.7 C28.7,35.7 32.0,34.6 34.8,33.6 C37.7,32.7 40.7,32.2 43.7,32.1 C46.7,31.9 50.1,31.9 52.9,32.9 C55.6,34.0 58.3,36.1 60.3,38.3 C62.3,40.4 63.7,43.2 64.8,45.8 C66.0,48.5 67.2,51.4 67.3,54.3Z" fill="none" stroke="rgb(238,232,216)" stroke-width="3.2" filter="url(#bl1)"/>
<path d="M67.3,54.3 C67.5,57.2 66.9,60.4 65.7,63.1 C64.6,65.8 62.7,68.4 60.6,70.6 C58.5,72.8 55.9,75.1 53.1,76.3 C50.3,77.4 46.7,77.7 43.7,77.4 C40.7,77.1 37.8,75.5 35.2,74.2 C32.5,72.9 29.9,71.6 27.7,69.8 C25.5,67.9 23.1,65.7 21.8,63.1 C20.5,60.5 19.9,57.3 19.8,54.3 C19.8,51.3 20.1,48.1 21.3,45.3 C22.4,42.5 24.2,39.6 26.5,37.7 C28.7,35.7 32.0,34.6 34.8,33.6 C37.7,32.7 40.7,32.2 43.7,32.1 C46.7,31.9 50.1,31.9 52.9,32.9 C55.6,34.0 58.3,36.1 60.3,38.3 C62.3,40.4 63.7,43.2 64.8,45.8 C66.0,48.5 67.2,51.4 67.3,54.3Z" fill="rgb(148,115,178)" stroke="rgb(110,85,155)" stroke-width="1.4" filter="url(#bl1)"/>
<path d="M63.9,52.0 C63.6,54.2 63.1,56.4 62.1,58.3 C61.0,60.2 59.3,61.9 57.6,63.3 C55.9,64.7 54.0,65.9 51.9,66.9 C49.8,68.0 47.4,69.3 45.0,69.5 C42.6,69.7 39.7,69.1 37.5,68.1 C35.3,67.2 33.6,65.4 31.8,63.8 C30.1,62.2 28.2,60.6 27.0,58.7 C25.9,56.7 24.8,54.2 24.9,52.0 C24.9,49.8 26.2,47.4 27.3,45.4 C28.5,43.5 30.1,41.7 31.9,40.3 C33.7,38.9 35.9,37.7 38.1,37.1 C40.3,36.4 42.6,36.5 45.0,36.4 C47.4,36.3 49.8,36.0 52.2,36.4 C54.7,36.8 57.9,37.3 59.8,38.7 C61.8,40.2 63.2,42.8 63.9,45.0 C64.5,47.2 64.2,49.8 63.9,52.0Z" fill="rgb(172,80,180)" filter="url(#grain)"/>
<path d="M108.2,57.0 C108.2,60.2 107.4,63.6 106.3,66.4 C105.2,69.3 103.5,71.8 101.6,74.0 C99.8,76.1 97.7,78.1 95.4,79.4 C93.2,80.6 90.5,81.5 88.0,81.5 C85.5,81.5 82.9,80.5 80.6,79.3 C78.3,78.1 76.0,76.3 74.2,74.2 C72.3,72.1 70.6,69.4 69.5,66.5 C68.5,63.6 68.0,60.2 68.0,57.0 C68.0,53.8 68.5,50.4 69.5,47.5 C70.5,44.5 72.0,41.5 73.9,39.4 C75.7,37.3 78.3,35.8 80.6,34.9 C83.0,33.9 85.5,33.5 88.0,33.5 C90.5,33.5 93.1,33.6 95.5,34.6 C97.8,35.6 100.3,37.3 102.1,39.4 C104.0,41.6 105.5,44.5 106.6,47.4 C107.6,50.4 108.3,53.8 108.2,57.0Z" fill="none" stroke="rgb(238,232,216)" stroke-width="3.2" filter="url(#bl1)"/>
<path d="M108.2,57.0 C108.2,60.2 107.4,63.6 106.3,66.4 C105.2,69.3 103.5,71.8 101.6,74.0 C99.8,76.1 97.7,78.1 95.4,79.4 C93.2,80.6 90.5,81.5 88.0,81.5 C85.5,81.5 82.9,80.5 80.6,79.3 C78.3,78.1 76.0,76.3 74.2,74.2 C72.3,72.1 70.6,69.4 69.5,66.5 C68.5,63.6 68.0,60.2 68.0,57.0 C68.0,53.8 68.5,50.4 69.5,47.5 C70.5,44.5 72.0,41.5 73.9,39.4 C75.7,37.3 78.3,35.8 80.6,34.9 C83.0,33.9 85.5,33.5 88.0,33.5 C90.5,33.5 93.1,33.6 95.5,34.6 C97.8,35.6 100.3,37.3 102.1,39.4 C104.0,41.6 105.5,44.5 106.6,47.4 C107.6,50.4 108.3,53.8 108.2,57.0Z" fill="rgb(148,115,178)" stroke="rgb(110,85,155)" stroke-width="1.4" filter="url(#bl1)"/>
<path d="M100.1,52.0 C100.1,54.1 99.8,56.1 99.3,58.2 C98.8,60.4 98.6,63.1 97.4,64.9 C96.2,66.7 94.1,68.0 92.2,68.9 C90.3,69.7 88.0,70.0 86.0,69.9 C84.0,69.9 81.5,69.8 79.9,68.7 C78.2,67.6 77.0,65.1 76.1,63.2 C75.2,61.3 75.3,59.2 74.6,57.4 C73.9,55.5 72.4,54.0 71.9,52.0 C71.4,50.0 70.9,47.3 71.4,45.1 C71.8,43.0 73.3,40.9 74.7,39.2 C76.1,37.4 77.8,35.5 79.6,34.6 C81.5,33.7 84.1,33.4 86.0,33.9 C87.9,34.4 89.6,36.4 91.3,37.5 C92.9,38.7 94.4,39.5 95.8,40.9 C97.2,42.2 99.0,43.7 99.8,45.5 C100.5,47.4 100.2,49.9 100.1,52.0Z" fill="rgb(172,80,180)" filter="url(#grain)"/>
<path d="M151.2,91.0 C150.9,94.5 149.3,98.0 147.8,101.1 C146.2,104.2 144.4,107.2 142.0,109.6 C139.7,112.1 136.7,114.3 133.6,115.6 C130.5,117.0 126.8,117.5 123.4,117.6 C120.0,117.8 116.2,117.5 112.9,116.3 C109.7,115.1 106.3,112.9 104.0,110.4 C101.6,107.9 100.0,104.5 98.7,101.2 C97.4,98.0 96.4,94.5 96.3,91.0 C96.1,87.5 96.4,83.5 97.7,80.4 C99.1,77.2 101.7,74.2 104.3,71.9 C106.9,69.7 110.2,68.0 113.4,66.8 C116.5,65.5 120.0,64.6 123.4,64.6 C126.8,64.5 130.3,65.3 133.5,66.5 C136.7,67.7 139.9,69.5 142.6,71.8 C145.3,74.0 148.2,76.9 149.6,80.1 C151.0,83.3 151.5,87.5 151.2,91.0Z" fill="none" stroke="rgb(238,232,216)" stroke-width="3.2" filter="url(#bl1)"/>
<path d="M151.2,91.0 C150.9,94.5 149.3,98.0 147.8,101.1 C146.2,104.2 144.4,107.2 142.0,109.6 C139.7,112.1 136.7,114.3 133.6,115.6 C130.5,117.0 126.8,117.5 123.4,117.6 C120.0,117.8 116.2,117.5 112.9,116.3 C109.7,115.1 106.3,112.9 104.0,110.4 C101.6,107.9 100.0,104.5 98.7,101.2 C97.4,98.0 96.4,94.5 96.3,91.0 C96.1,87.5 96.4,83.5 97.7,80.4 C99.1,77.2 101.7,74.2 104.3,71.9 C106.9,69.7 110.2,68.0 113.4,66.8 C116.5,65.5 120.0,64.6 123.4,64.6 C126.8,64.5 130.3,65.3 133.5,66.5 C136.7,67.7 139.9,69.5 142.6,71.8 C145.3,74.0 148.2,76.9 149.6,80.1 C151.0,83.3 151.5,87.5 151.2,91.0Z" fill="rgb(148,115,178)" stroke="rgb(110,85,155)" stroke-width="1.4" filter="url(#bl1)"/>
<path d="M148.1,88.0 C148.1,90.6 147.9,93.5 146.7,95.8 C145.6,98.1 143.3,100.3 141.1,101.7 C138.8,103.1 135.9,103.3 133.4,104.2 C130.9,105.1 128.8,106.5 126.0,107.2 C123.2,107.9 119.5,109.2 116.6,108.6 C113.7,108.0 110.6,105.9 108.7,103.7 C106.8,101.6 105.6,98.5 105.0,95.9 C104.4,93.3 104.4,90.4 104.9,88.0 C105.4,85.6 107.1,83.5 108.2,81.3 C109.3,79.1 110.2,77.2 111.7,75.0 C113.2,72.8 114.6,69.7 117.0,68.3 C119.4,66.8 123.1,66.3 126.0,66.5 C128.9,66.7 131.7,68.5 134.3,69.7 C136.9,71.0 139.5,72.1 141.5,73.9 C143.6,75.6 145.6,77.8 146.7,80.2 C147.8,82.5 148.1,85.4 148.1,88.0Z" fill="rgb(172,80,180)" filter="url(#grain)"/>
<path d="M191.5,70.0 C191.6,73.0 190.7,76.4 189.4,79.2 C188.0,82.0 185.7,84.5 183.3,86.7 C181.0,88.8 178.2,90.8 175.2,92.0 C172.2,93.2 168.6,94.0 165.4,93.9 C162.2,93.8 158.8,92.6 155.9,91.3 C153.0,90.1 150.3,88.2 148.0,86.1 C145.8,84.1 143.7,81.5 142.4,78.8 C141.1,76.2 140.3,73.0 140.1,70.0 C139.9,67.0 140.1,63.6 141.1,60.7 C142.2,57.7 144.0,54.5 146.5,52.4 C148.9,50.3 152.4,48.8 155.6,48.0 C158.7,47.1 162.2,47.1 165.4,47.2 C168.6,47.4 171.9,47.9 174.8,49.0 C177.7,50.0 180.6,51.7 183.0,53.7 C185.3,55.7 187.4,58.3 188.8,61.0 C190.3,63.7 191.4,67.0 191.5,70.0Z" fill="none" stroke="rgb(238,232,216)" stroke-width="3.2" filter="url(#bl1)"/>
<path d="M191.5,70.0 C191.6,73.0 190.7,76.4 189.4,79.2 C188.0,82.0 185.7,84.5 183.3,86.7 C181.0,88.8 178.2,90.8 175.2,92.0 C172.2,93.2 168.6,94.0 165.4,93.9 C162.2,93.8 158.8,92.6 155.9,91.3 C153.0,90.1 150.3,88.2 148.0,86.1 C145.8,84.1 143.7,81.5 142.4,78.8 C141.1,76.2 140.3,73.0 140.1,70.0 C139.9,67.0 140.1,63.6 141.1,60.7 C142.2,57.7 144.0,54.5 146.5,52.4 C148.9,50.3 152.4,48.8 155.6,48.0 C158.7,47.1 162.2,47.1 165.4,47.2 C168.6,47.4 171.9,47.9 174.8,49.0 C177.7,50.0 180.6,51.7 183.0,53.7 C185.3,55.7 187.4,58.3 188.8,61.0 C190.3,63.7 191.4,67.0 191.5,70.0Z" fill="rgb(148,115,178)" stroke="rgb(110,85,155)" stroke-width="1.4" filter="url(#bl1)"/>
<path d="M185.1,72.0 C184.6,74.1 183.8,76.0 182.7,77.9 C181.6,79.7 180.5,81.7 178.7,82.9 C176.8,84.1 174.1,84.4 171.8,85.1 C169.5,85.9 167.6,86.8 165.0,87.4 C162.4,88.1 158.8,89.5 156.2,89.0 C153.7,88.4 151.2,86.1 149.7,84.3 C148.2,82.4 148.0,79.9 147.3,77.9 C146.5,75.8 145.1,74.0 145.1,72.0 C145.1,70.0 146.0,67.8 147.2,66.1 C148.3,64.3 150.3,63.1 151.9,61.5 C153.6,60.0 154.9,57.7 157.1,56.7 C159.3,55.7 162.5,55.2 165.0,55.5 C167.5,55.7 169.7,57.4 172.1,58.3 C174.5,59.1 177.3,59.2 179.5,60.4 C181.8,61.5 184.7,63.2 185.7,65.1 C186.6,67.1 185.6,69.9 185.1,72.0Z" fill="rgb(172,80,180)" filter="url(#grain)"/>
<path d="M22.8,114.6 C22.8,118.0 21.9,121.7 20.8,124.7 C19.6,127.8 17.9,130.4 16.1,132.7 C14.4,135.0 12.4,137.3 10.2,138.7 C8.0,140.0 5.4,140.7 3.0,140.6 C0.6,140.5 -1.8,139.3 -4.0,138.0 C-6.2,136.7 -8.5,135.2 -10.3,133.0 C-12.1,130.8 -13.9,127.9 -14.9,124.8 C-15.9,121.8 -16.3,118.0 -16.3,114.6 C-16.4,111.2 -16.1,107.4 -15.1,104.2 C-14.2,101.1 -12.7,97.7 -10.8,95.6 C-8.9,93.4 -6.3,92.2 -4.0,91.3 C-1.7,90.3 0.6,89.9 3.0,89.8 C5.4,89.7 7.9,89.7 10.2,90.7 C12.4,91.7 14.7,93.7 16.5,96.0 C18.3,98.2 19.9,101.3 20.9,104.4 C22.0,107.5 22.9,111.2 22.8,114.6Z" fill="none" stroke="rgb(238,232,216)" stroke-width="3.2" filter="url(#bl1)"/>
<path d="M22.8,114.6 C22.8,118.0 21.9,121.7 20.8,124.7 C19.6,127.8 17.9,130.4 16.1,132.7 C14.4,135.0 12.4,137.3 10.2,138.7 C8.0,140.0 5.4,140.7 3.0,140.6 C0.6,140.5 -1.8,139.3 -4.0,138.0 C-6.2,136.7 -8.5,135.2 -10.3,133.0 C-12.1,130.8 -13.9,127.9 -14.9,124.8 C-15.9,121.8 -16.3,118.0 -16.3,114.6 C-16.4,111.2 -16.1,107.4 -15.1,104.2 C-14.2,101.1 -12.7,97.7 -10.8,95.6 C-8.9,93.4 -6.3,92.2 -4.0,91.3 C-1.7,90.3 0.6,89.9 3.0,89.8 C5.4,89.7 7.9,89.7 10.2,90.7 C12.4,91.7 14.7,93.7 16.5,96.0 C18.3,98.2 19.9,101.3 20.9,104.4 C22.0,107.5 22.9,111.2 22.8,114.6Z" fill="rgb(148,115,178)" stroke="rgb(110,85,155)" stroke-width="1.4" filter="url(#bl1)"/>
<path d="M18.6,110.0 C19.1,112.6 20.1,115.9 19.6,118.6 C19.2,121.3 17.6,124.5 15.8,126.0 C14.0,127.6 11.1,127.5 8.9,127.9 C6.8,128.4 5.0,128.6 3.0,128.7 C1.0,128.7 -1.2,129.2 -3.1,128.4 C-4.9,127.5 -6.6,125.6 -8.0,123.8 C-9.4,122.0 -10.6,119.8 -11.5,117.5 C-12.3,115.2 -13.1,112.5 -13.1,110.0 C-13.0,107.5 -11.9,105.0 -11.2,102.7 C-10.4,100.3 -9.6,98.1 -8.4,95.8 C-7.2,93.5 -5.9,90.2 -4.0,89.0 C-2.1,87.7 0.9,87.6 3.0,88.3 C5.1,89.0 7.0,91.4 8.7,92.9 C10.3,94.5 11.7,95.8 13.1,97.4 C14.4,99.1 15.5,100.9 16.5,103.0 C17.4,105.1 18.1,107.4 18.6,110.0Z" fill="rgb(172,80,180)" filter="url(#grain)"/>
<path d="M94.4,138.3 C94.3,142.0 93.3,145.8 92.0,149.3 C90.6,152.8 88.9,156.7 86.2,159.6 C83.5,162.4 79.5,164.8 75.6,166.2 C71.7,167.5 67.2,167.6 63.0,167.5 C58.8,167.5 54.5,167.2 50.5,166.0 C46.5,164.7 42.2,162.8 39.2,160.1 C36.3,157.4 34.0,153.5 32.6,149.8 C31.2,146.2 30.6,142.1 30.8,138.3 C31.0,134.5 32.1,130.5 33.8,127.2 C35.6,123.9 38.5,121.1 41.3,118.5 C44.2,115.8 47.2,113.3 50.8,111.4 C54.4,109.5 58.8,107.3 63.0,107.0 C67.2,106.7 72.2,107.8 76.0,109.5 C79.9,111.2 83.3,114.3 86.0,117.2 C88.8,120.1 91.2,123.5 92.6,127.1 C94.0,130.6 94.5,134.6 94.4,138.3Z" fill="none" stroke="rgb(238,232,216)" stroke-width="3.2" filter="url(#bl1)"/>
<path d="M94.4,138.3 C94.3,142.0 93.3,145.8 92.0,149.3 C90.6,152.8 88.9,156.7 86.2,159.6 C83.5,162.4 79.5,164.8 75.6,166.2 C71.7,167.5 67.2,167.6 63.0,167.5 C58.8,167.5 54.5,167.2 50.5,166.0 C46.5,164.7 42.2,162.8 39.2,160.1 C36.3,157.4 34.0,153.5 32.6,149.8 C31.2,146.2 30.6,142.1 30.8,138.3 C31.0,134.5 32.1,130.5 33.8,127.2 C35.6,123.9 38.5,121.1 41.3,118.5 C44.2,115.8 47.2,113.3 50.8,111.4 C54.4,109.5 58.8,107.3 63.0,107.0 C67.2,106.7 72.2,107.8 76.0,109.5 C79.9,111.2 83.3,114.3 86.0,117.2 C88.8,120.1 91.2,123.5 92.6,127.1 C94.0,130.6 94.5,134.6 94.4,138.3Z" fill="rgb(148,115,178)" stroke="rgb(110,85,155)" stroke-width="1.4" filter="url(#bl1)"/>
<path d="M91.2,136.0 C91.6,139.1 91.4,142.6 90.3,145.7 C89.3,148.8 87.6,152.4 85.0,154.5 C82.4,156.5 78.3,157.4 74.9,158.1 C71.6,158.8 68.4,158.6 65.0,158.8 C61.6,159.0 57.8,160.0 54.6,159.2 C51.4,158.3 48.0,156.0 46.0,153.5 C44.1,151.1 43.8,147.3 43.0,144.4 C42.1,141.5 41.3,138.9 41.1,136.0 C40.8,133.1 40.7,129.9 41.5,127.0 C42.3,124.1 44.0,121.2 46.1,118.5 C48.1,115.8 50.5,112.4 53.7,110.8 C56.8,109.2 61.6,108.3 65.0,109.1 C68.4,109.9 71.6,113.5 74.2,115.5 C76.8,117.6 78.4,119.6 80.6,121.6 C82.9,123.5 86.0,124.9 87.8,127.3 C89.6,129.7 90.8,132.9 91.2,136.0Z" fill="rgb(172,80,180)" filter="url(#grain)"/>
<path d="M210.7,134.3 C211.1,137.7 210.6,141.8 209.2,145.0 C207.8,148.3 205.1,151.3 202.4,153.7 C199.6,156.1 196.3,158.2 192.9,159.3 C189.5,160.4 185.5,160.6 182.0,160.2 C178.5,159.9 175.2,158.6 172.0,157.4 C168.7,156.2 165.2,155.1 162.4,153.0 C159.6,150.9 156.7,148.0 155.3,144.9 C153.8,141.7 153.6,137.8 153.8,134.3 C153.9,130.8 154.6,127.2 156.0,124.0 C157.3,120.8 159.2,117.4 161.8,115.0 C164.3,112.6 167.9,110.9 171.3,109.7 C174.7,108.4 178.4,107.7 182.0,107.7 C185.6,107.7 189.6,108.1 192.8,109.5 C195.9,110.9 198.7,113.6 201.0,116.2 C203.3,118.7 205.1,121.5 206.7,124.6 C208.3,127.6 210.2,130.9 210.7,134.3Z" fill="none" stroke="rgb(238,232,216)" stroke-width="3.2" filter="url(#bl1)"/>
<path d="M210.7,134.3 C211.1,137.7 210.6,141.8 209.2,145.0 C207.8,148.3 205.1,151.3 202.4,153.7 C199.6,156.1 196.3,158.2 192.9,159.3 C189.5,160.4 185.5,160.6 182.0,160.2 C178.5,159.9 175.2,158.6 172.0,157.4 C168.7,156.2 165.2,155.1 162.4,153.0 C159.6,150.9 156.7,148.0 155.3,144.9 C153.8,141.7 153.6,137.8 153.8,134.3 C153.9,130.8 154.6,127.2 156.0,124.0 C157.3,120.8 159.2,117.4 161.8,115.0 C164.3,112.6 167.9,110.9 171.3,109.7 C174.7,108.4 178.4,107.7 182.0,107.7 C185.6,107.7 189.6,108.1 192.8,109.5 C195.9,110.9 198.7,113.6 201.0,116.2 C203.3,118.7 205.1,121.5 206.7,124.6 C208.3,127.6 210.2,130.9 210.7,134.3Z" fill="rgb(148,115,178)" stroke="rgb(110,85,155)" stroke-width="1.4" filter="url(#bl1)"/>
<path d="M197.4,136.0 C197.0,138.7 195.5,140.9 194.9,143.7 C194.2,146.5 194.6,150.2 193.3,152.8 C191.9,155.4 189.3,158.2 186.7,159.1 C184.2,160.1 180.7,158.9 178.0,158.3 C175.3,157.8 172.7,157.2 170.5,155.8 C168.4,154.5 166.3,152.4 165.0,150.3 C163.6,148.2 163.6,145.5 162.5,143.1 C161.3,140.7 159.0,138.8 158.0,136.0 C157.0,133.2 155.6,128.9 156.5,126.2 C157.3,123.4 160.7,121.2 163.0,119.5 C165.3,117.8 168.0,117.0 170.5,116.1 C173.0,115.1 175.5,113.6 178.0,113.7 C180.5,113.8 183.0,115.5 185.2,116.8 C187.5,118.0 189.3,119.6 191.3,121.4 C193.3,123.1 196.2,124.8 197.2,127.2 C198.2,129.7 197.8,133.3 197.4,136.0Z" fill="rgb(172,80,180)" filter="url(#grain)"/>
<path d="M43.8,192.0 C43.9,195.3 43.3,198.9 42.0,202.0 C40.6,205.1 38.3,208.1 35.7,210.5 C33.1,213.0 29.9,215.4 26.4,216.8 C23.0,218.1 18.7,219.0 15.0,218.7 C11.3,218.5 7.5,216.8 4.3,215.2 C1.0,213.7 -1.7,211.6 -4.3,209.3 C-6.9,207.1 -9.7,204.7 -11.4,201.8 C-13.1,198.9 -14.3,195.4 -14.6,192.0 C-14.8,188.6 -14.2,184.9 -12.8,181.7 C-11.4,178.5 -9.1,175.1 -6.3,172.9 C-3.5,170.6 0.4,169.1 4.0,168.1 C7.5,167.2 11.3,167.1 15.0,167.1 C18.7,167.1 22.5,167.2 26.0,168.2 C29.4,169.3 33.1,171.1 35.7,173.4 C38.3,175.8 40.2,179.0 41.5,182.1 C42.9,185.2 43.8,188.7 43.8,192.0Z" fill="none" stroke="rgb(238,232,216)" stroke-width="3.2" filter="url(#bl1)"/>
<path d="M43.8,192.0 C43.9,195.3 43.3,198.9 42.0,202.0 C40.6,205.1 38.3,208.1 35.7,210.5 C33.1,213.0 29.9,215.4 26.4,216.8 C23.0,218.1 18.7,219.0 15.0,218.7 C11.3,218.5 7.5,216.8 4.3,215.2 C1.0,213.7 -1.7,211.6 -4.3,209.3 C-6.9,207.1 -9.7,204.7 -11.4,201.8 C-13.1,198.9 -14.3,195.4 -14.6,192.0 C-14.8,188.6 -14.2,184.9 -12.8,181.7 C-11.4,178.5 -9.1,175.1 -6.3,172.9 C-3.5,170.6 0.4,169.1 4.0,168.1 C7.5,167.2 11.3,167.1 15.0,167.1 C18.7,167.1 22.5,167.2 26.0,168.2 C29.4,169.3 33.1,171.1 35.7,173.4 C38.3,175.8 40.2,179.0 41.5,182.1 C42.9,185.2 43.8,188.7 43.8,192.0Z" fill="rgb(148,115,178)" stroke="rgb(110,85,155)" stroke-width="1.4" filter="url(#bl1)"/>
<path d="M34.8,192.0 C34.3,194.8 33.4,197.3 32.3,199.7 C31.2,202.1 29.9,204.8 28.0,206.6 C26.0,208.5 23.1,209.4 20.5,210.7 C17.8,212.0 15.2,213.5 12.0,214.3 C8.8,215.1 4.5,216.4 1.4,215.6 C-1.8,214.7 -4.9,211.8 -6.8,209.2 C-8.7,206.7 -9.2,203.2 -9.9,200.3 C-10.5,197.4 -11.2,194.6 -10.9,192.0 C-10.6,189.4 -9.2,186.7 -7.9,184.4 C-6.6,182.1 -4.8,180.4 -3.1,178.2 C-1.3,175.9 0.1,172.8 2.6,171.1 C5.1,169.5 8.9,168.2 12.0,168.2 C15.1,168.2 18.4,169.9 21.4,171.1 C24.4,172.3 27.6,173.5 30.0,175.5 C32.4,177.5 34.9,180.3 35.7,183.0 C36.5,185.8 35.4,189.2 34.8,192.0Z" fill="rgb(172,80,180)" filter="url(#grain)"/>
<g filter="url(#bl2)">
</g>
</g></g>
<g clip-path="url(#cp23)">
<rect x="902" y="252" width="207" height="210.5" fill="rgb(228,233,205)"/>
<g transform="translate(902,252)">
<path d="M0,125 C20,130 35,150 45,170 C50,185 42,200 48,211 L0,211 Z" fill="rgb(228,214,224)" filter="url(#bl3)"/>
<path d="M65.9,15.6 C66.3,17.5 66.8,20.0 66.1,21.9 C65.5,23.7 63.7,25.4 62.2,26.6 C60.7,27.7 58.9,28.3 57.1,28.9 C55.4,29.5 53.7,30.1 52.0,30.0 C50.3,30.0 48.6,29.3 47.0,28.6 C45.4,27.9 43.8,27.1 42.3,26.0 C40.8,24.9 38.7,23.6 37.9,21.9 C37.0,20.1 36.8,17.6 37.1,15.6 C37.4,13.6 38.8,11.8 39.7,10.1 C40.5,8.4 41.2,6.7 42.4,5.3 C43.5,3.9 45.0,2.4 46.6,1.7 C48.2,0.9 50.2,0.9 52.0,0.9 C53.8,0.9 55.8,0.9 57.4,1.5 C59.1,2.2 60.9,3.4 62.0,4.9 C63.1,6.3 63.5,8.4 64.2,10.2 C64.8,12.0 65.6,13.7 65.9,15.6Z" fill="rgb(224,214,210)" stroke="rgb(160,100,100)" stroke-width="0.8" filter="url(#bl1)"/>
<path d="M104.8,26.0 C104.6,27.8 103.3,29.7 102.4,31.2 C101.4,32.8 100.3,34.1 99.0,35.4 C97.8,36.7 96.5,38.2 94.8,38.9 C93.2,39.6 91.1,39.7 89.3,39.6 C87.5,39.5 85.8,38.9 84.0,38.3 C82.3,37.7 80.4,37.1 79.0,36.0 C77.5,34.9 76.2,33.2 75.4,31.6 C74.5,29.9 74.2,27.9 74.1,26.0 C74.0,24.1 74.1,21.9 74.9,20.2 C75.7,18.6 77.4,17.0 79.0,16.0 C80.6,15.1 82.6,15.0 84.4,14.5 C86.1,14.0 87.6,13.5 89.3,13.2 C91.0,13.0 93.1,12.6 94.9,13.0 C96.6,13.5 98.5,14.5 99.9,15.7 C101.4,16.9 102.9,18.5 103.7,20.3 C104.5,22.0 105.0,24.2 104.8,26.0Z" fill="rgb(224,214,210)" stroke="rgb(160,100,100)" stroke-width="0.8" filter="url(#bl1)"/>
<path d="M168.5,20.8 C168.3,22.5 168.3,24.1 167.7,25.6 C167.1,27.1 166.2,28.5 165.1,29.6 C164.1,30.7 162.7,31.5 161.4,32.3 C160.0,33.1 158.5,34.1 157.0,34.3 C155.5,34.5 153.5,34.2 152.2,33.5 C150.8,32.7 149.7,31.1 148.7,29.8 C147.6,28.5 146.5,27.3 145.8,25.8 C145.1,24.3 144.4,22.4 144.5,20.8 C144.5,19.2 145.4,17.4 146.1,15.9 C146.9,14.5 147.8,13.2 148.9,12.0 C149.9,10.8 151.1,9.6 152.5,9.0 C153.8,8.4 155.5,8.4 157.0,8.4 C158.5,8.3 160.0,8.4 161.6,8.8 C163.2,9.2 165.2,9.5 166.4,10.7 C167.5,11.8 168.3,13.9 168.7,15.6 C169.0,17.2 168.7,19.1 168.5,20.8Z" fill="rgb(224,214,210)" stroke="rgb(160,100,100)" stroke-width="0.8" filter="url(#bl1)"/>
<path d="M79.4,100.5 C79.7,102.2 79.9,104.5 79.3,106.1 C78.7,107.7 77.1,108.9 75.9,110.0 C74.7,111.1 73.4,111.9 72.0,112.7 C70.6,113.4 69.1,114.5 67.6,114.5 C66.1,114.6 64.4,113.8 63.1,113.0 C61.8,112.2 60.7,111.0 59.6,109.7 C58.5,108.5 57.3,107.2 56.8,105.7 C56.2,104.1 56.3,102.2 56.4,100.5 C56.5,98.8 57.0,97.3 57.4,95.6 C57.8,93.9 57.9,91.8 58.8,90.3 C59.6,88.8 61.2,87.4 62.7,86.8 C64.2,86.3 66.1,86.8 67.6,87.1 C69.1,87.3 70.6,87.7 72.0,88.4 C73.3,89.1 74.6,90.1 75.6,91.3 C76.5,92.5 77.0,94.2 77.6,95.7 C78.2,97.2 79.1,98.8 79.4,100.5Z" fill="rgb(224,214,210)" stroke="rgb(160,100,100)" stroke-width="0.8" filter="url(#bl1)"/>
<path d="M110.2,113.5 C110.2,115.1 110.0,116.9 109.3,118.2 C108.6,119.5 107.0,120.5 105.9,121.4 C104.7,122.2 103.5,122.8 102.2,123.6 C100.9,124.3 99.5,125.5 98.0,125.8 C96.5,126.0 94.6,125.8 93.2,125.2 C91.7,124.6 90.5,123.3 89.3,122.2 C88.2,121.0 86.9,119.8 86.4,118.3 C85.8,116.9 85.6,115.0 85.8,113.5 C86.0,112.0 86.9,110.6 87.6,109.2 C88.2,107.8 88.7,106.3 89.7,105.2 C90.6,104.0 92.0,102.8 93.4,102.3 C94.8,101.8 96.5,102.1 98.0,102.2 C99.5,102.2 101.0,102.1 102.5,102.5 C104.1,102.9 105.9,103.4 107.1,104.4 C108.2,105.5 109.0,107.2 109.5,108.7 C110.0,110.2 110.3,111.9 110.2,113.5Z" fill="rgb(224,214,210)" stroke="rgb(160,100,100)" stroke-width="0.8" filter="url(#bl1)"/>
<path d="M37.2,-5.0 C36.9,-3.7 35.8,-2.5 34.9,-1.4 C34.0,-0.2 33.1,0.9 31.7,1.9 C30.3,2.8 28.5,3.8 26.5,4.3 C24.6,4.8 22.2,4.8 20.0,4.8 C17.8,4.9 15.5,4.7 13.4,4.3 C11.3,3.9 9.0,3.3 7.5,2.4 C5.9,1.5 4.9,0.1 4.1,-1.1 C3.4,-2.4 3.0,-3.7 3.0,-5.0 C3.0,-6.3 3.2,-7.7 4.1,-8.9 C5.0,-10.0 6.8,-11.0 8.4,-11.8 C10.1,-12.6 11.9,-13.2 13.9,-13.7 C15.8,-14.3 17.9,-14.9 20.0,-15.1 C22.1,-15.2 24.6,-15.0 26.7,-14.5 C28.7,-14.0 30.7,-13.2 32.3,-12.2 C33.9,-11.3 35.6,-10.2 36.4,-9.0 C37.2,-7.8 37.4,-6.3 37.2,-5.0Z" fill="none" stroke="rgb(228,233,205)" stroke-width="3.2" filter="url(#bl1)"/>
<path d="M37.2,-5.0 C36.9,-3.7 35.8,-2.5 34.9,-1.4 C34.0,-0.2 33.1,0.9 31.7,1.9 C30.3,2.8 28.5,3.8 26.5,4.3 C24.6,4.8 22.2,4.8 20.0,4.8 C17.8,4.9 15.5,4.7 13.4,4.3 C11.3,3.9 9.0,3.3 7.5,2.4 C5.9,1.5 4.9,0.1 4.1,-1.1 C3.4,-2.4 3.0,-3.7 3.0,-5.0 C3.0,-6.3 3.2,-7.7 4.1,-8.9 C5.0,-10.0 6.8,-11.0 8.4,-11.8 C10.1,-12.6 11.9,-13.2 13.9,-13.7 C15.8,-14.3 17.9,-14.9 20.0,-15.1 C22.1,-15.2 24.6,-15.0 26.7,-14.5 C28.7,-14.0 30.7,-13.2 32.3,-12.2 C33.9,-11.3 35.6,-10.2 36.4,-9.0 C37.2,-7.8 37.4,-6.3 37.2,-5.0Z" fill="rgb(128,118,175)" stroke="rgb(100,50,80)" stroke-width="1.4" filter="url(#bl1)"/>
<path d="M36.1,-5.0 C35.9,-3.8 35.6,-2.4 34.6,-1.5 C33.5,-0.5 31.4,0.2 29.8,0.8 C28.2,1.3 26.6,1.5 25.0,2.0 C23.3,2.6 21.9,3.7 20.0,4.0 C18.1,4.4 15.5,4.5 13.6,4.1 C11.7,3.7 10.1,2.5 8.7,1.6 C7.4,0.7 6.0,-0.3 5.3,-1.4 C4.6,-2.5 4.2,-3.9 4.4,-5.0 C4.7,-6.1 5.9,-7.2 6.8,-8.2 C7.6,-9.3 8.2,-10.4 9.4,-11.2 C10.6,-12.1 12.2,-13.2 14.0,-13.5 C15.8,-13.9 18.1,-13.5 20.0,-13.3 C21.9,-13.2 23.5,-13.0 25.5,-12.8 C27.4,-12.5 30.0,-12.5 31.6,-11.8 C33.3,-11.2 34.6,-9.9 35.4,-8.7 C36.1,-7.6 36.2,-6.2 36.1,-5.0Z" fill="rgb(132,48,130)" filter="url(#grain)"/>
<path d="M39.7,26.0 C39.7,28.4 38.7,31.1 37.7,33.3 C36.7,35.5 35.2,37.6 33.6,39.3 C32.0,41.1 30.1,43.1 27.9,44.0 C25.8,45.0 23.1,45.2 20.8,45.1 C18.5,44.9 16.2,44.0 14.0,43.0 C11.9,42.1 9.7,40.9 8.1,39.3 C6.5,37.6 5.1,35.4 4.2,33.2 C3.4,31.0 3.0,28.5 2.9,26.0 C2.7,23.5 2.6,20.8 3.3,18.4 C4.1,16.1 5.5,13.5 7.3,11.9 C9.1,10.3 11.7,9.4 13.9,8.6 C16.2,7.9 18.5,7.4 20.8,7.5 C23.1,7.5 25.6,7.8 27.7,8.7 C29.7,9.6 31.6,11.3 33.3,13.0 C34.9,14.6 36.5,16.6 37.6,18.7 C38.7,20.9 39.6,23.6 39.7,26.0Z" fill="none" stroke="rgb(228,233,205)" stroke-width="3.2" filter="url(#bl1)"/>
<path d="M39.7,26.0 C39.7,28.4 38.7,31.1 37.7,33.3 C36.7,35.5 35.2,37.6 33.6,39.3 C32.0,41.1 30.1,43.1 27.9,44.0 C25.8,45.0 23.1,45.2 20.8,45.1 C18.5,44.9 16.2,44.0 14.0,43.0 C11.9,42.1 9.7,40.9 8.1,39.3 C6.5,37.6 5.1,35.4 4.2,33.2 C3.4,31.0 3.0,28.5 2.9,26.0 C2.7,23.5 2.6,20.8 3.3,18.4 C4.1,16.1 5.5,13.5 7.3,11.9 C9.1,10.3 11.7,9.4 13.9,8.6 C16.2,7.9 18.5,7.4 20.8,7.5 C23.1,7.5 25.6,7.8 27.7,8.7 C29.7,9.6 31.6,11.3 33.3,13.0 C34.9,14.6 36.5,16.6 37.6,18.7 C38.7,20.9 39.6,23.6 39.7,26.0Z" fill="rgb(128,118,175)" stroke="rgb(100,50,80)" stroke-width="1.4" filter="url(#bl1)"/>
<path d="M37.5,25.0 C38.0,27.2 38.8,29.9 38.4,32.1 C37.9,34.3 36.3,36.6 34.6,38.2 C33.0,39.8 30.8,41.1 28.7,41.8 C26.6,42.5 24.0,42.7 22.0,42.2 C20.0,41.6 18.3,39.7 16.6,38.6 C15.0,37.4 13.8,36.5 12.0,35.4 C10.3,34.3 7.5,33.6 6.1,31.9 C4.7,30.1 3.8,27.3 3.8,25.0 C3.8,22.7 5.2,20.2 6.2,18.2 C7.3,16.1 8.5,14.1 10.1,12.6 C11.8,11.2 13.9,10.2 15.9,9.6 C17.9,9.0 19.9,9.1 22.0,9.0 C24.1,8.9 26.4,8.3 28.4,8.9 C30.4,9.5 32.6,10.9 33.8,12.6 C35.1,14.3 35.2,17.0 35.8,19.0 C36.4,21.1 37.1,22.8 37.5,25.0Z" fill="rgb(132,48,130)" filter="url(#grain)"/>
<path d="M69.2,48.0 C69.3,50.3 69.3,52.8 68.6,55.1 C67.9,57.3 66.5,59.7 64.7,61.4 C63.0,63.1 60.4,64.4 58.0,65.3 C55.6,66.2 52.9,66.9 50.3,67.0 C47.7,67.1 44.8,66.7 42.4,65.7 C40.1,64.7 37.9,62.9 36.2,61.1 C34.5,59.3 33.1,57.2 32.1,55.0 C31.2,52.8 30.5,50.3 30.5,48.0 C30.6,45.7 31.6,43.3 32.6,41.2 C33.5,39.0 34.9,37.0 36.5,35.2 C38.1,33.3 40.1,31.3 42.4,30.2 C44.7,29.1 47.7,28.5 50.3,28.6 C52.9,28.6 55.7,29.5 58.1,30.5 C60.5,31.5 62.9,33.0 64.6,34.7 C66.3,36.5 67.5,38.9 68.3,41.1 C69.0,43.3 69.2,45.7 69.2,48.0Z" fill="none" stroke="rgb(228,233,205)" stroke-width="3.2" filter="url(#bl1)"/>
<path d="M69.2,48.0 C69.3,50.3 69.3,52.8 68.6,55.1 C67.9,57.3 66.5,59.7 64.7,61.4 C63.0,63.1 60.4,64.4 58.0,65.3 C55.6,66.2 52.9,66.9 50.3,67.0 C47.7,67.1 44.8,66.7 42.4,65.7 C40.1,64.7 37.9,62.9 36.2,61.1 C34.5,59.3 33.1,57.2 32.1,55.0 C31.2,52.8 30.5,50.3 30.5,48.0 C30.6,45.7 31.6,43.3 32.6,41.2 C33.5,39.0 34.9,37.0 36.5,35.2 C38.1,33.3 40.1,31.3 42.4,30.2 C44.7,29.1 47.7,28.5 50.3,28.6 C52.9,28.6 55.7,29.5 58.1,30.5 C60.5,31.5 62.9,33.0 64.6,34.7 C66.3,36.5 67.5,38.9 68.3,41.1 C69.0,43.3 69.2,45.7 69.2,48.0Z" fill="rgb(128,118,175)" stroke="rgb(100,50,80)" stroke-width="1.4" filter="url(#bl1)"/>
<path d="M68.1,47.0 C68.4,49.0 67.4,51.5 66.3,53.3 C65.3,55.1 63.3,56.3 61.7,57.9 C60.2,59.5 59.0,61.7 57.1,62.9 C55.1,64.0 52.4,64.8 50.0,64.8 C47.6,64.8 45.3,63.6 43.0,62.8 C40.6,62.0 37.8,61.4 36.1,59.9 C34.4,58.4 32.9,55.8 32.6,53.7 C32.4,51.5 34.2,49.1 34.7,47.0 C35.1,44.9 35.0,43.4 35.4,41.4 C35.8,39.4 35.8,36.7 37.0,34.9 C38.3,33.2 40.7,32.1 42.9,31.1 C45.1,30.1 47.5,29.2 50.0,29.0 C52.5,28.7 55.7,28.6 57.7,29.7 C59.8,30.8 61.1,33.6 62.3,35.5 C63.6,37.4 64.0,39.3 65.0,41.2 C65.9,43.1 67.9,45.0 68.1,47.0Z" fill="rgb(132,48,130)" filter="url(#grain)"/>
<path d="M119.4,0.0 C119.3,1.4 118.5,2.9 117.6,4.2 C116.6,5.5 115.3,6.8 113.7,7.7 C112.1,8.7 110.0,9.6 107.9,10.2 C105.8,10.7 103.3,11.0 101.0,11.1 C98.7,11.1 96.1,10.9 93.9,10.4 C91.8,9.9 89.6,8.9 88.2,7.8 C86.7,6.8 85.8,5.3 85.1,4.0 C84.3,2.7 83.8,1.4 83.7,0.0 C83.5,-1.4 83.5,-2.9 84.2,-4.3 C84.9,-5.6 86.2,-7.0 87.9,-8.0 C89.5,-9.1 91.7,-10.0 93.9,-10.5 C96.1,-11.0 98.7,-11.2 101.0,-11.1 C103.3,-11.0 105.6,-10.4 107.7,-9.8 C109.7,-9.2 111.6,-8.4 113.3,-7.5 C114.9,-6.6 116.8,-5.5 117.8,-4.2 C118.8,-3.0 119.4,-1.4 119.4,0.0Z" fill="none" stroke="rgb(228,233,205)" stroke-width="3.2" filter="url(#bl1)"/>
<path d="M119.4,0.0 C119.3,1.4 118.5,2.9 117.6,4.2 C116.6,5.5 115.3,6.8 113.7,7.7 C112.1,8.7 110.0,9.6 107.9,10.2 C105.8,10.7 103.3,11.0 101.0,11.1 C98.7,11.1 96.1,10.9 93.9,10.4 C91.8,9.9 89.6,8.9 88.2,7.8 C86.7,6.8 85.8,5.3 85.1,4.0 C84.3,2.7 83.8,1.4 83.7,0.0 C83.5,-1.4 83.5,-2.9 84.2,-4.3 C84.9,-5.6 86.2,-7.0 87.9,-8.0 C89.5,-9.1 91.7,-10.0 93.9,-10.5 C96.1,-11.0 98.7,-11.2 101.0,-11.1 C103.3,-11.0 105.6,-10.4 107.7,-9.8 C109.7,-9.2 111.6,-8.4 113.3,-7.5 C114.9,-6.6 116.8,-5.5 117.8,-4.2 C118.8,-3.0 119.4,-1.4 119.4,0.0Z" fill="rgb(128,118,175)" stroke="rgb(100,50,80)" stroke-width="1.4" filter="url(#bl1)"/>
<path d="M119.8,0.0 C119.7,1.3 119.3,2.8 118.2,3.9 C117.1,4.9 114.9,5.6 113.3,6.4 C111.8,7.1 110.6,8.0 108.8,8.7 C107.1,9.3 104.9,10.2 103.0,10.1 C101.1,10.1 99.1,9.0 97.3,8.4 C95.6,7.8 94.2,7.2 92.4,6.5 C90.5,5.8 87.5,5.3 86.3,4.3 C85.0,3.2 84.6,1.4 84.8,0.0 C85.0,-1.4 86.4,-2.8 87.5,-3.9 C88.7,-5.1 89.9,-6.4 91.6,-7.0 C93.3,-7.7 95.8,-7.8 97.7,-7.9 C99.6,-8.1 101.1,-7.7 103.0,-7.9 C104.9,-8.1 107.1,-9.3 109.3,-9.3 C111.5,-9.4 114.6,-9.0 116.1,-8.1 C117.7,-7.2 118.2,-5.4 118.8,-4.0 C119.4,-2.7 119.9,-1.3 119.8,0.0Z" fill="rgb(132,48,130)" filter="url(#grain)"/>
<path d="M157.0,0.0 C157.0,1.7 156.7,3.5 155.9,5.0 C155.1,6.6 153.6,8.1 152.1,9.2 C150.5,10.4 148.6,11.5 146.6,12.2 C144.6,12.9 142.2,13.4 140.0,13.3 C137.8,13.2 135.6,12.4 133.7,11.7 C131.8,10.9 130.1,9.9 128.6,8.7 C127.0,7.6 125.4,6.4 124.4,4.9 C123.4,3.5 122.7,1.7 122.6,0.0 C122.6,-1.7 123.1,-3.5 123.9,-5.1 C124.7,-6.7 126.0,-8.3 127.6,-9.5 C129.2,-10.6 131.5,-11.5 133.5,-12.0 C135.6,-12.5 137.8,-12.5 140.0,-12.5 C142.2,-12.5 144.4,-12.4 146.4,-11.9 C148.5,-11.3 150.6,-10.4 152.1,-9.3 C153.7,-8.1 154.8,-6.5 155.6,-4.9 C156.4,-3.4 156.9,-1.7 157.0,0.0Z" fill="none" stroke="rgb(228,233,205)" stroke-width="3.2" filter="url(#bl1)"/>
<path d="M157.0,0.0 C157.0,1.7 156.7,3.5 155.9,5.0 C155.1,6.6 153.6,8.1 152.1,9.2 C150.5,10.4 148.6,11.5 146.6,12.2 C144.6,12.9 142.2,13.4 140.0,13.3 C137.8,13.2 135.6,12.4 133.7,11.7 C131.8,10.9 130.1,9.9 128.6,8.7 C127.0,7.6 125.4,6.4 124.4,4.9 C123.4,3.5 122.7,1.7 122.6,0.0 C122.6,-1.7 123.1,-3.5 123.9,-5.1 C124.7,-6.7 126.0,-8.3 127.6,-9.5 C129.2,-10.6 131.5,-11.5 133.5,-12.0 C135.6,-12.5 137.8,-12.5 140.0,-12.5 C142.2,-12.5 144.4,-12.4 146.4,-11.9 C148.5,-11.3 150.6,-10.4 152.1,-9.3 C153.7,-8.1 154.8,-6.5 155.6,-4.9 C156.4,-3.4 156.9,-1.7 157.0,0.0Z" fill="rgb(128,118,175)" stroke="rgb(100,50,80)" stroke-width="1.4" filter="url(#bl1)"/>
<path d="M156.0,0.0 C155.6,1.6 154.4,2.9 153.5,4.3 C152.6,5.6 152.0,7.1 150.7,8.2 C149.4,9.2 147.4,10.0 145.7,10.4 C143.9,10.9 141.9,11.0 140.0,11.1 C138.1,11.2 135.8,11.5 134.1,11.0 C132.3,10.5 130.6,9.3 129.3,8.2 C128.0,7.1 127.4,5.7 126.4,4.3 C125.5,2.9 123.8,1.6 123.4,0.0 C123.0,-1.6 123.2,-3.7 124.1,-5.0 C125.1,-6.4 127.6,-7.3 129.3,-8.2 C131.1,-9.0 132.8,-9.5 134.6,-10.0 C136.4,-10.4 138.2,-10.7 140.0,-10.7 C141.8,-10.7 143.5,-10.2 145.3,-9.8 C147.2,-9.5 149.4,-9.4 151.2,-8.6 C153.1,-7.8 155.5,-6.6 156.3,-5.2 C157.1,-3.7 156.5,-1.6 156.0,0.0Z" fill="rgb(132,48,130)" filter="url(#grain)"/>
<path d="M131.8,55.5 C131.8,59.1 131.2,63.1 130.1,66.4 C129.1,69.7 127.4,72.6 125.7,75.3 C123.9,78.1 122.0,81.1 119.7,82.7 C117.4,84.4 114.4,85.5 111.8,85.4 C109.2,85.2 106.5,83.3 104.2,81.6 C101.9,79.9 99.8,77.8 98.0,75.2 C96.2,72.7 94.5,69.6 93.5,66.3 C92.6,63.0 92.3,59.1 92.3,55.5 C92.2,51.9 92.4,48.0 93.2,44.5 C94.0,41.0 95.3,37.0 97.1,34.5 C98.9,31.9 101.7,30.2 104.1,29.0 C106.6,27.8 109.2,27.5 111.8,27.4 C114.4,27.4 117.2,27.4 119.6,28.7 C121.9,30.0 124.3,32.5 126.0,35.2 C127.7,37.9 128.9,41.4 129.9,44.8 C130.8,48.2 131.7,51.9 131.8,55.5Z" fill="none" stroke="rgb(228,233,205)" stroke-width="3.2" filter="url(#bl1)"/>
<path d="M131.8,55.5 C131.8,59.1 131.2,63.1 130.1,66.4 C129.1,69.7 127.4,72.6 125.7,75.3 C123.9,78.1 122.0,81.1 119.7,82.7 C117.4,84.4 114.4,85.5 111.8,85.4 C109.2,85.2 106.5,83.3 104.2,81.6 C101.9,79.9 99.8,77.8 98.0,75.2 C96.2,72.7 94.5,69.6 93.5,66.3 C92.6,63.0 92.3,59.1 92.3,55.5 C92.2,51.9 92.4,48.0 93.2,44.5 C94.0,41.0 95.3,37.0 97.1,34.5 C98.9,31.9 101.7,30.2 104.1,29.0 C106.6,27.8 109.2,27.5 111.8,27.4 C114.4,27.4 117.2,27.4 119.6,28.7 C121.9,30.0 124.3,32.5 126.0,35.2 C127.7,37.9 128.9,41.4 129.9,44.8 C130.8,48.2 131.7,51.9 131.8,55.5Z" fill="rgb(128,118,175)" stroke="rgb(100,50,80)" stroke-width="1.4" filter="url(#bl1)"/>
<path d="M132.1,48.0 C131.8,51.0 130.4,54.2 128.9,56.4 C127.5,58.6 125.0,59.4 123.4,61.3 C121.8,63.1 121.0,65.6 119.3,67.5 C117.6,69.4 115.3,72.3 113.0,72.8 C110.7,73.3 107.9,71.7 105.7,70.4 C103.6,69.0 101.6,67.0 99.8,64.8 C98.1,62.6 96.1,60.2 95.3,57.4 C94.5,54.6 94.9,51.0 95.2,48.0 C95.5,45.0 96.2,42.3 97.0,39.5 C97.8,36.8 98.4,33.3 100.0,31.4 C101.6,29.6 104.4,28.8 106.6,28.2 C108.8,27.7 110.8,28.4 113.0,28.0 C115.2,27.7 117.7,25.9 120.1,26.2 C122.5,26.5 125.5,27.6 127.4,29.6 C129.2,31.7 130.3,35.4 131.1,38.4 C131.9,41.5 132.5,45.0 132.1,48.0Z" fill="rgb(132,48,130)" filter="url(#grain)"/>
<path d="M163.3,82.8 C163.4,85.5 162.7,88.6 161.5,91.1 C160.4,93.5 158.5,95.9 156.6,97.7 C154.6,99.6 152.2,101.3 149.7,102.2 C147.2,103.2 144.4,103.5 141.7,103.5 C139.0,103.5 136.3,102.9 133.8,102.0 C131.2,101.1 128.4,100.1 126.3,98.3 C124.2,96.5 122.2,93.9 121.2,91.3 C120.2,88.7 120.1,85.6 120.3,82.8 C120.5,80.0 121.2,77.2 122.3,74.7 C123.5,72.3 125.1,69.9 127.0,68.0 C128.9,66.2 131.4,64.8 133.8,63.7 C136.3,62.6 139.0,61.7 141.7,61.5 C144.4,61.4 147.5,61.6 150.0,62.7 C152.5,63.7 154.8,65.7 156.7,67.7 C158.6,69.7 160.1,72.2 161.2,74.7 C162.3,77.2 163.3,80.1 163.3,82.8Z" fill="none" stroke="rgb(228,233,205)" stroke-width="3.2" filter="url(#bl1)"/>
<path d="M163.3,82.8 C163.4,85.5 162.7,88.6 161.5,91.1 C160.4,93.5 158.5,95.9 156.6,97.7 C154.6,99.6 152.2,101.3 149.7,102.2 C147.2,103.2 144.4,103.5 141.7,103.5 C139.0,103.5 136.3,102.9 133.8,102.0 C131.2,101.1 128.4,100.1 126.3,98.3 C124.2,96.5 122.2,93.9 121.2,91.3 C120.2,88.7 120.1,85.6 120.3,82.8 C120.5,80.0 121.2,77.2 122.3,74.7 C123.5,72.3 125.1,69.9 127.0,68.0 C128.9,66.2 131.4,64.8 133.8,63.7 C136.3,62.6 139.0,61.7 141.7,61.5 C144.4,61.4 147.5,61.6 150.0,62.7 C152.5,63.7 154.8,65.7 156.7,67.7 C158.6,69.7 160.1,72.2 161.2,74.7 C162.3,77.2 163.3,80.1 163.3,82.8Z" fill="rgb(128,118,175)" stroke="rgb(100,50,80)" stroke-width="1.4" filter="url(#bl1)"/>
<path d="M161.9,81.0 C161.9,83.3 160.6,85.7 159.6,87.9 C158.6,90.1 157.4,91.9 156.0,94.0 C154.5,96.1 153.2,99.0 151.0,100.4 C148.8,101.7 145.6,102.3 143.0,102.2 C140.4,102.0 137.7,100.6 135.4,99.4 C133.2,98.1 130.8,96.7 129.3,94.7 C127.9,92.8 127.3,90.0 126.9,87.7 C126.5,85.4 127.2,83.3 127.0,81.0 C126.8,78.7 125.6,76.3 125.8,73.8 C126.0,71.4 126.7,68.1 128.2,66.2 C129.8,64.2 132.8,63.1 135.2,62.2 C137.7,61.2 140.4,60.5 143.0,60.6 C145.6,60.6 148.5,61.2 150.6,62.5 C152.7,63.8 154.1,66.4 155.6,68.3 C157.1,70.3 158.3,72.1 159.4,74.2 C160.4,76.3 161.8,78.7 161.9,81.0Z" fill="rgb(132,48,130)" filter="url(#grain)"/>
<path d="M58.2,115.7 C58.4,118.8 58.4,122.4 57.4,125.3 C56.3,128.3 54.2,131.1 52.0,133.3 C49.8,135.6 47.0,137.3 44.1,138.6 C41.3,139.9 38.1,141.0 35.0,141.1 C31.9,141.1 28.5,140.2 25.8,138.9 C23.0,137.5 20.4,135.3 18.3,133.0 C16.3,130.7 14.3,127.9 13.2,125.1 C12.2,122.2 11.8,118.8 11.9,115.7 C12.0,112.6 12.9,109.6 13.9,106.6 C14.9,103.7 16.0,100.5 17.9,98.0 C19.9,95.5 22.6,93.0 25.4,91.7 C28.3,90.4 31.9,90.2 35.0,90.3 C38.1,90.5 41.4,91.4 44.2,92.7 C46.9,94.1 49.6,96.1 51.6,98.5 C53.6,100.8 54.9,103.8 56.0,106.7 C57.1,109.5 58.0,112.6 58.2,115.7Z" fill="none" stroke="rgb(228,233,205)" stroke-width="3.2" filter="url(#bl1)"/>
<path d="M58.2,115.7 C58.4,118.8 58.4,122.4 57.4,125.3 C56.3,128.3 54.2,131.1 52.0,133.3 C49.8,135.6 47.0,137.3 44.1,138.6 C41.3,139.9 38.1,141.0 35.0,141.1 C31.9,141.1 28.5,140.2 25.8,138.9 C23.0,137.5 20.4,135.3 18.3,133.0 C16.3,130.7 14.3,127.9 13.2,125.1 C12.2,122.2 11.8,118.8 11.9,115.7 C12.0,112.6 12.9,109.6 13.9,106.6 C14.9,103.7 16.0,100.5 17.9,98.0 C19.9,95.5 22.6,93.0 25.4,91.7 C28.3,90.4 31.9,90.2 35.0,90.3 C38.1,90.5 41.4,91.4 44.2,92.7 C46.9,94.1 49.6,96.1 51.6,98.5 C53.6,100.8 54.9,103.8 56.0,106.7 C57.1,109.5 58.0,112.6 58.2,115.7Z" fill="rgb(128,118,175)" stroke="rgb(100,50,80)" stroke-width="1.4" filter="url(#bl1)"/>
<path d="M62.0,112.0 C62.0,114.0 60.3,116.3 58.7,118.0 C57.0,119.6 54.4,120.7 52.3,121.9 C50.2,123.2 48.4,124.6 46.0,125.5 C43.6,126.3 40.7,127.0 38.0,127.0 C35.3,127.0 32.5,126.2 30.0,125.4 C27.5,124.7 25.0,123.7 23.1,122.4 C21.2,121.1 19.6,119.3 18.6,117.6 C17.7,115.9 17.6,113.9 17.3,112.0 C17.0,110.1 16.3,107.9 16.9,105.9 C17.6,104.0 18.8,101.4 21.0,100.1 C23.1,98.8 26.9,98.4 29.7,98.1 C32.6,97.9 35.4,98.3 38.0,98.5 C40.6,98.7 43.1,98.8 45.5,99.4 C47.9,100.0 50.2,100.9 52.4,102.0 C54.5,103.1 56.9,104.4 58.5,106.1 C60.1,107.8 62.0,110.0 62.0,112.0Z" fill="rgb(132,48,130)" filter="url(#grain)"/>
<path d="M86.9,137.4 C86.7,140.5 86.0,143.8 84.7,146.6 C83.5,149.5 81.5,152.3 79.2,154.4 C76.9,156.4 73.7,157.8 70.8,158.9 C67.8,160.0 64.6,160.8 61.5,160.9 C58.4,161.0 54.9,160.6 52.0,159.5 C49.1,158.4 46.4,156.2 44.1,154.1 C41.9,151.9 39.8,149.4 38.3,146.6 C36.8,143.8 35.3,140.5 35.2,137.4 C35.0,134.3 36.1,130.7 37.6,127.9 C39.1,125.1 41.6,122.6 44.0,120.6 C46.4,118.6 49.3,116.8 52.2,115.8 C55.1,114.8 58.4,114.5 61.5,114.5 C64.6,114.6 67.7,115.2 70.7,116.1 C73.7,117.0 77.1,118.0 79.7,120.0 C82.2,121.9 84.6,124.9 85.8,127.8 C87.0,130.7 87.0,134.3 86.9,137.4Z" fill="none" stroke="rgb(228,233,205)" stroke-width="3.2" filter="url(#bl1)"/>
<path d="M86.9,137.4 C86.7,140.5 86.0,143.8 84.7,146.6 C83.5,149.5 81.5,152.3 79.2,154.4 C76.9,156.4 73.7,157.8 70.8,158.9 C67.8,160.0 64.6,160.8 61.5,160.9 C58.4,161.0 54.9,160.6 52.0,159.5 C49.1,158.4 46.4,156.2 44.1,154.1 C41.9,151.9 39.8,149.4 38.3,146.6 C36.8,143.8 35.3,140.5 35.2,137.4 C35.0,134.3 36.1,130.7 37.6,127.9 C39.1,125.1 41.6,122.6 44.0,120.6 C46.4,118.6 49.3,116.8 52.2,115.8 C55.1,114.8 58.4,114.5 61.5,114.5 C64.6,114.6 67.7,115.2 70.7,116.1 C73.7,117.0 77.1,118.0 79.7,120.0 C82.2,121.9 84.6,124.9 85.8,127.8 C87.0,130.7 87.0,134.3 86.9,137.4Z" fill="rgb(128,118,175)" stroke="rgb(100,50,80)" stroke-width="1.4" filter="url(#bl1)"/>
<path d="M86.5,136.0 C85.8,138.8 84.0,141.0 82.9,143.3 C81.8,145.6 81.1,147.8 79.8,149.8 C78.4,151.8 76.8,153.8 74.8,155.3 C72.8,156.7 70.4,158.0 68.0,158.5 C65.6,158.9 62.4,159.3 60.2,158.2 C57.9,157.1 55.8,154.3 54.4,151.9 C53.1,149.5 52.7,146.4 52.0,143.8 C51.2,141.1 50.1,138.7 49.8,136.0 C49.6,133.3 49.6,130.0 50.5,127.5 C51.4,125.0 53.6,122.9 55.4,121.2 C57.2,119.4 59.2,118.1 61.3,117.1 C63.4,116.0 65.7,115.3 68.0,115.2 C70.3,115.1 72.6,115.7 74.9,116.4 C77.3,117.1 80.0,117.8 82.1,119.5 C84.2,121.1 86.7,123.8 87.4,126.6 C88.2,129.3 87.3,133.2 86.5,136.0Z" fill="rgb(132,48,130)" filter="url(#grain)"/>
<path d="M123.5,143.0 C123.4,145.1 122.5,147.3 121.5,149.3 C120.5,151.3 119.4,153.3 117.8,154.9 C116.1,156.4 113.8,157.7 111.6,158.4 C109.4,159.1 106.8,159.2 104.4,159.1 C102.0,159.1 99.5,158.8 97.4,158.0 C95.3,157.2 93.2,155.9 91.6,154.4 C90.0,152.9 88.9,151.0 87.8,149.1 C86.8,147.2 85.6,145.1 85.3,143.0 C85.0,140.9 85.0,138.2 86.0,136.2 C86.9,134.2 89.0,132.4 90.9,131.0 C92.8,129.7 95.2,128.7 97.4,128.0 C99.7,127.4 102.1,126.9 104.4,127.0 C106.7,127.1 109.0,127.8 111.1,128.6 C113.3,129.3 115.4,130.2 117.3,131.5 C119.2,132.9 121.3,134.5 122.4,136.4 C123.4,138.3 123.7,140.9 123.5,143.0Z" fill="none" stroke="rgb(228,233,205)" stroke-width="3.2" filter="url(#bl1)"/>
<path d="M123.5,143.0 C123.4,145.1 122.5,147.3 121.5,149.3 C120.5,151.3 119.4,153.3 117.8,154.9 C116.1,156.4 113.8,157.7 111.6,158.4 C109.4,159.1 106.8,159.2 104.4,159.1 C102.0,159.1 99.5,158.8 97.4,158.0 C95.3,157.2 93.2,155.9 91.6,154.4 C90.0,152.9 88.9,151.0 87.8,149.1 C86.8,147.2 85.6,145.1 85.3,143.0 C85.0,140.9 85.0,138.2 86.0,136.2 C86.9,134.2 89.0,132.4 90.9,131.0 C92.8,129.7 95.2,128.7 97.4,128.0 C99.7,127.4 102.1,126.9 104.4,127.0 C106.7,127.1 109.0,127.8 111.1,128.6 C113.3,129.3 115.4,130.2 117.3,131.5 C119.2,132.9 121.3,134.5 122.4,136.4 C123.4,138.3 123.7,140.9 123.5,143.0Z" fill="rgb(128,118,175)" stroke="rgb(100,50,80)" stroke-width="1.4" filter="url(#bl1)"/>
<path d="M118.1,142.0 C118.2,143.9 117.7,146.0 116.8,147.7 C115.9,149.3 114.0,150.4 112.5,151.7 C111.0,153.0 109.8,154.5 108.0,155.4 C106.3,156.3 104.0,157.2 102.0,157.1 C100.0,157.1 98.0,156.0 96.0,155.3 C94.0,154.6 91.9,154.2 90.1,153.0 C88.3,151.8 86.0,150.2 85.3,148.4 C84.6,146.5 85.4,143.9 85.9,142.0 C86.4,140.1 87.5,138.4 88.3,136.8 C89.2,135.1 89.8,133.3 91.2,132.0 C92.5,130.7 94.5,130.0 96.3,129.2 C98.1,128.5 99.9,127.9 102.0,127.5 C104.1,127.1 106.8,126.2 108.9,126.7 C110.9,127.2 113.0,129.1 114.3,130.7 C115.5,132.3 115.8,134.6 116.4,136.5 C117.0,138.4 118.1,140.1 118.1,142.0Z" fill="rgb(132,48,130)" filter="url(#grain)"/>
<path d="M137.9,180.0 C138.2,182.9 138.1,186.2 137.1,188.9 C136.1,191.7 134.2,194.4 132.1,196.5 C130.1,198.6 127.4,200.4 124.7,201.5 C122.0,202.6 118.9,203.2 116.0,203.1 C113.1,203.0 110.2,202.0 107.5,200.9 C104.9,199.7 102.2,198.3 100.1,196.3 C97.9,194.3 95.7,191.8 94.6,189.1 C93.5,186.4 93.3,182.9 93.6,180.0 C93.8,177.1 94.9,174.2 96.0,171.5 C97.1,168.9 98.5,166.2 100.4,164.0 C102.2,161.9 104.7,159.9 107.3,158.6 C109.9,157.3 113.1,156.6 116.0,156.4 C118.9,156.3 122.3,156.7 125.0,157.9 C127.6,159.1 130.1,161.4 131.9,163.7 C133.7,166.0 134.8,168.9 135.8,171.6 C136.8,174.3 137.7,177.1 137.9,180.0Z" fill="none" stroke="rgb(228,233,205)" stroke-width="3.2" filter="url(#bl1)"/>
<path d="M137.9,180.0 C138.2,182.9 138.1,186.2 137.1,188.9 C136.1,191.7 134.2,194.4 132.1,196.5 C130.1,198.6 127.4,200.4 124.7,201.5 C122.0,202.6 118.9,203.2 116.0,203.1 C113.1,203.0 110.2,202.0 107.5,200.9 C104.9,199.7 102.2,198.3 100.1,196.3 C97.9,194.3 95.7,191.8 94.6,189.1 C93.5,186.4 93.3,182.9 93.6,180.0 C93.8,177.1 94.9,174.2 96.0,171.5 C97.1,168.9 98.5,166.2 100.4,164.0 C102.2,161.9 104.7,159.9 107.3,158.6 C109.9,157.3 113.1,156.6 116.0,156.4 C118.9,156.3 122.3,156.7 125.0,157.9 C127.6,159.1 130.1,161.4 131.9,163.7 C133.7,166.0 134.8,168.9 135.8,171.6 C136.8,174.3 137.7,177.1 137.9,180.0Z" fill="rgb(128,118,175)" stroke="rgb(100,50,80)" stroke-width="1.4" filter="url(#bl1)"/>
<path d="M138.1,178.0 C138.2,180.8 137.3,184.1 136.0,186.5 C134.6,188.9 132.1,190.6 130.1,192.4 C128.1,194.2 126.1,196.3 123.8,197.2 C121.4,198.2 118.4,198.6 116.0,198.1 C113.6,197.7 111.5,195.7 109.3,194.6 C107.1,193.5 104.9,192.9 102.7,191.6 C100.5,190.2 97.5,188.7 96.1,186.4 C94.6,184.2 94.0,180.9 93.9,178.0 C93.8,175.1 94.3,171.9 95.4,169.3 C96.5,166.7 98.4,163.7 100.6,162.3 C102.9,160.8 106.4,160.9 108.9,160.6 C111.5,160.3 113.6,160.6 116.0,160.5 C118.4,160.3 121.1,159.1 123.5,159.5 C125.9,160.0 128.6,161.4 130.5,163.1 C132.5,164.9 133.8,167.4 135.1,169.9 C136.3,172.4 137.9,175.2 138.1,178.0Z" fill="rgb(132,48,130)" filter="url(#grain)"/>
<path d="M213.5,119.6 C213.6,122.9 213.5,126.5 212.7,129.6 C211.9,132.7 210.4,135.9 208.6,138.2 C206.9,140.6 204.6,142.4 202.3,143.7 C200.0,145.0 197.4,145.9 195.0,146.0 C192.6,146.0 189.9,145.3 187.6,144.0 C185.4,142.6 183.3,140.3 181.6,137.9 C180.0,135.5 178.5,132.5 177.6,129.5 C176.7,126.4 176.2,122.9 176.3,119.6 C176.3,116.3 177.1,113.0 178.0,109.9 C178.8,106.9 180.0,103.8 181.6,101.3 C183.2,98.7 185.3,96.2 187.5,94.8 C189.7,93.4 192.5,92.8 195.0,92.9 C197.5,93.0 200.1,94.0 202.3,95.4 C204.5,96.8 206.7,98.9 208.4,101.3 C210.0,103.7 211.2,106.9 212.1,109.9 C212.9,113.0 213.4,116.3 213.5,119.6Z" fill="none" stroke="rgb(228,233,205)" stroke-width="3.2" filter="url(#bl1)"/>
<path d="M213.5,119.6 C213.6,122.9 213.5,126.5 212.7,129.6 C211.9,132.7 210.4,135.9 208.6,138.2 C206.9,140.6 204.6,142.4 202.3,143.7 C200.0,145.0 197.4,145.9 195.0,146.0 C192.6,146.0 189.9,145.3 187.6,144.0 C185.4,142.6 183.3,140.3 181.6,137.9 C180.0,135.5 178.5,132.5 177.6,129.5 C176.7,126.4 176.2,122.9 176.3,119.6 C176.3,116.3 177.1,113.0 178.0,109.9 C178.8,106.9 180.0,103.8 181.6,101.3 C183.2,98.7 185.3,96.2 187.5,94.8 C189.7,93.4 192.5,92.8 195.0,92.9 C197.5,93.0 200.1,94.0 202.3,95.4 C204.5,96.8 206.7,98.9 208.4,101.3 C210.0,103.7 211.2,106.9 212.1,109.9 C212.9,113.0 213.4,116.3 213.5,119.6Z" fill="rgb(128,118,175)" stroke="rgb(100,50,80)" stroke-width="1.4" filter="url(#bl1)"/>
<path d="M214.7,122.0 C215.0,124.8 215.2,128.4 214.4,131.0 C213.7,133.5 211.7,135.8 210.1,137.2 C208.5,138.6 206.5,138.7 204.8,139.4 C203.1,140.1 201.7,141.4 200.0,141.6 C198.3,141.8 196.4,141.7 194.8,140.8 C193.3,139.8 191.9,137.8 190.6,136.0 C189.3,134.3 187.9,132.4 187.1,130.0 C186.2,127.7 185.5,124.7 185.5,122.0 C185.5,119.3 186.4,116.6 187.1,114.0 C187.8,111.4 188.5,108.7 189.7,106.6 C190.9,104.5 192.6,102.2 194.3,101.5 C196.1,100.8 198.3,101.9 200.0,102.6 C201.7,103.2 203.1,104.3 204.6,105.3 C206.2,106.2 207.9,106.6 209.3,108.1 C210.7,109.5 211.9,111.7 212.8,114.0 C213.7,116.4 214.4,119.2 214.7,122.0Z" fill="rgb(132,48,130)" filter="url(#grain)"/>
<path d="M203.0,153.4 C203.1,156.2 202.6,159.5 201.4,161.9 C200.1,164.4 197.6,166.5 195.4,168.2 C193.2,170.0 190.6,171.1 188.1,172.2 C185.5,173.3 182.8,174.6 180.0,174.9 C177.2,175.2 173.9,174.9 171.2,173.9 C168.5,172.9 165.9,171.1 163.7,169.1 C161.6,167.1 159.5,164.6 158.5,162.0 C157.4,159.4 157.1,156.2 157.3,153.4 C157.6,150.6 158.8,147.9 159.9,145.4 C161.1,142.9 162.4,140.3 164.3,138.2 C166.2,136.2 168.7,134.2 171.3,133.2 C173.9,132.2 177.1,132.1 180.0,132.2 C182.9,132.3 185.8,132.7 188.5,133.6 C191.2,134.5 194.1,135.8 196.3,137.7 C198.4,139.6 200.0,142.3 201.2,145.0 C202.3,147.6 203.0,150.6 203.0,153.4Z" fill="none" stroke="rgb(228,233,205)" stroke-width="3.2" filter="url(#bl1)"/>
<path d="M203.0,153.4 C203.1,156.2 202.6,159.5 201.4,161.9 C200.1,164.4 197.6,166.5 195.4,168.2 C193.2,170.0 190.6,171.1 188.1,172.2 C185.5,173.3 182.8,174.6 180.0,174.9 C177.2,175.2 173.9,174.9 171.2,173.9 C168.5,172.9 165.9,171.1 163.7,169.1 C161.6,167.1 159.5,164.6 158.5,162.0 C157.4,159.4 157.1,156.2 157.3,153.4 C157.6,150.6 158.8,147.9 159.9,145.4 C161.1,142.9 162.4,140.3 164.3,138.2 C166.2,136.2 168.7,134.2 171.3,133.2 C173.9,132.2 177.1,132.1 180.0,132.2 C182.9,132.3 185.8,132.7 188.5,133.6 C191.2,134.5 194.1,135.8 196.3,137.7 C198.4,139.6 200.0,142.3 201.2,145.0 C202.3,147.6 203.0,150.6 203.0,153.4Z" fill="rgb(128,118,175)" stroke="rgb(100,50,80)" stroke-width="1.4" filter="url(#bl1)"/>
<path d="M200.8,153.0 C200.9,155.5 200.7,158.2 199.9,160.5 C199.0,162.9 197.3,165.0 195.5,167.0 C193.7,168.9 191.7,171.0 189.2,172.2 C186.8,173.3 183.6,174.2 181.0,173.7 C178.4,173.3 175.9,171.1 173.8,169.7 C171.8,168.2 170.5,166.5 168.6,165.0 C166.7,163.4 164.2,162.3 162.6,160.3 C161.1,158.3 159.7,155.6 159.4,153.0 C159.1,150.4 159.6,147.4 160.7,144.9 C161.7,142.4 163.5,139.7 165.7,138.2 C167.8,136.7 171.0,136.0 173.5,135.6 C176.1,135.2 178.5,135.7 181.0,135.6 C183.5,135.5 186.1,134.8 188.6,135.2 C191.1,135.7 194.2,136.8 196.0,138.5 C197.8,140.2 198.8,143.2 199.6,145.6 C200.4,148.0 200.8,150.5 200.8,153.0Z" fill="rgb(132,48,130)" filter="url(#grain)"/>
<path d="M217.4,183.0 C217.5,185.8 217.2,189.0 216.4,191.6 C215.5,194.3 214.0,197.0 212.3,198.7 C210.6,200.5 208.3,201.5 206.3,202.3 C204.2,203.1 202.1,203.5 200.0,203.6 C197.9,203.7 195.6,203.8 193.5,202.9 C191.5,202.1 189.4,200.4 187.9,198.5 C186.3,196.6 185.0,194.0 184.1,191.4 C183.2,188.8 182.6,185.8 182.6,183.0 C182.6,180.2 183.3,177.2 184.2,174.7 C185.1,172.1 186.6,169.8 188.1,167.8 C189.6,165.8 191.4,163.8 193.4,162.7 C195.4,161.6 197.9,161.1 200.0,161.3 C202.1,161.5 204.3,162.6 206.2,163.8 C208.2,164.9 210.1,166.2 211.7,168.0 C213.3,169.8 214.9,172.1 215.9,174.6 C216.8,177.1 217.4,180.2 217.4,183.0Z" fill="none" stroke="rgb(228,233,205)" stroke-width="3.2" filter="url(#bl1)"/>
<path d="M217.4,183.0 C217.5,185.8 217.2,189.0 216.4,191.6 C215.5,194.3 214.0,197.0 212.3,198.7 C210.6,200.5 208.3,201.5 206.3,202.3 C204.2,203.1 202.1,203.5 200.0,203.6 C197.9,203.7 195.6,203.8 193.5,202.9 C191.5,202.1 189.4,200.4 187.9,198.5 C186.3,196.6 185.0,194.0 184.1,191.4 C183.2,188.8 182.6,185.8 182.6,183.0 C182.6,180.2 183.3,177.2 184.2,174.7 C185.1,172.1 186.6,169.8 188.1,167.8 C189.6,165.8 191.4,163.8 193.4,162.7 C195.4,161.6 197.9,161.1 200.0,161.3 C202.1,161.5 204.3,162.6 206.2,163.8 C208.2,164.9 210.1,166.2 211.7,168.0 C213.3,169.8 214.9,172.1 215.9,174.6 C216.8,177.1 217.4,180.2 217.4,183.0Z" fill="rgb(128,118,175)" stroke="rgb(100,50,80)" stroke-width="1.4" filter="url(#bl1)"/>
<path d="M217.5,183.0 C217.7,185.6 217.9,188.8 217.2,191.3 C216.5,193.7 215.0,196.5 213.3,197.8 C211.6,199.2 209.0,198.7 207.1,199.2 C205.2,199.7 203.9,200.4 202.0,200.9 C200.1,201.4 197.7,202.7 196.0,202.1 C194.2,201.4 192.6,198.9 191.4,196.9 C190.2,194.9 189.6,192.4 188.9,190.1 C188.1,187.8 187.0,185.4 186.9,183.0 C186.9,180.6 187.6,177.9 188.3,175.6 C189.1,173.3 190.1,171.2 191.3,169.0 C192.5,166.9 193.8,163.7 195.6,162.7 C197.4,161.6 200.1,162.0 202.0,162.8 C203.9,163.7 205.2,166.4 206.8,167.7 C208.4,169.0 210.0,169.2 211.5,170.5 C213.1,171.8 215.1,173.3 216.1,175.4 C217.0,177.5 217.3,180.4 217.5,183.0Z" fill="rgb(132,48,130)" filter="url(#grain)"/>
<path d="M199.9,210.0 C199.7,211.0 199.0,212.0 198.2,212.9 C197.5,213.8 196.7,214.9 195.5,215.6 C194.2,216.3 192.4,216.9 190.7,217.3 C189.0,217.7 186.9,217.9 185.0,217.9 C183.1,217.9 180.9,217.9 179.1,217.6 C177.3,217.2 175.6,216.5 174.3,215.7 C173.0,215.0 172.1,214.0 171.3,213.0 C170.5,212.1 169.7,211.0 169.6,210.0 C169.5,209.0 169.8,207.8 170.7,206.8 C171.6,205.9 173.3,205.2 174.8,204.5 C176.2,203.9 177.8,203.3 179.5,202.9 C181.2,202.5 183.1,202.2 185.0,202.1 C186.9,202.1 188.9,202.3 190.7,202.7 C192.5,203.0 194.5,203.5 196.0,204.1 C197.5,204.8 199.1,205.8 199.7,206.7 C200.4,207.7 200.2,209.0 199.9,210.0Z" fill="none" stroke="rgb(228,233,205)" stroke-width="3.2" filter="url(#bl1)"/>
<path d="M199.9,210.0 C199.7,211.0 199.0,212.0 198.2,212.9 C197.5,213.8 196.7,214.9 195.5,215.6 C194.2,216.3 192.4,216.9 190.7,217.3 C189.0,217.7 186.9,217.9 185.0,217.9 C183.1,217.9 180.9,217.9 179.1,217.6 C177.3,217.2 175.6,216.5 174.3,215.7 C173.0,215.0 172.1,214.0 171.3,213.0 C170.5,212.1 169.7,211.0 169.6,210.0 C169.5,209.0 169.8,207.8 170.7,206.8 C171.6,205.9 173.3,205.2 174.8,204.5 C176.2,203.9 177.8,203.3 179.5,202.9 C181.2,202.5 183.1,202.2 185.0,202.1 C186.9,202.1 188.9,202.3 190.7,202.7 C192.5,203.0 194.5,203.5 196.0,204.1 C197.5,204.8 199.1,205.8 199.7,206.7 C200.4,207.7 200.2,209.0 199.9,210.0Z" fill="rgb(128,118,175)" stroke="rgb(100,50,80)" stroke-width="1.4" filter="url(#bl1)"/>
<path d="M197.9,210.0 C197.8,210.9 197.4,211.7 196.9,212.5 C196.5,213.4 196.2,214.5 195.1,215.2 C194.1,215.9 192.2,216.5 190.5,216.8 C188.8,217.2 186.8,217.2 185.0,217.1 C183.2,217.1 181.2,217.0 179.7,216.6 C178.2,216.1 177.0,215.3 176.1,214.6 C175.1,213.9 174.9,213.1 174.2,212.3 C173.5,211.5 172.2,210.9 171.7,210.0 C171.3,209.1 171.1,208.0 171.6,207.2 C172.2,206.3 173.7,205.6 175.0,204.9 C176.4,204.3 177.9,203.7 179.6,203.3 C181.2,203.0 183.3,202.8 185.0,202.9 C186.7,203.0 188.3,203.6 189.9,204.0 C191.4,204.4 192.9,204.8 194.1,205.3 C195.4,205.9 197.0,206.5 197.6,207.3 C198.3,208.1 198.0,209.1 197.9,210.0Z" fill="rgb(132,48,130)" filter="url(#grain)"/>
<g filter="url(#bl2)">
</g>
</g></g>
<g clip-path="url(#cp31)">
<rect x="458" y="474.5" width="209.5" height="208.5" fill="rgb(228,227,212)"/>
<g transform="translate(458,474.5)">
<path d="M15.2,27.6 C15.2,30.5 14.4,33.6 13.6,36.2 C12.8,38.9 11.6,41.3 10.3,43.4 C9.0,45.4 7.4,47.5 5.7,48.7 C4.0,49.9 1.9,50.4 0.0,50.5 C-1.9,50.6 -4.0,50.1 -5.8,49.1 C-7.7,48.1 -9.7,46.7 -11.1,44.6 C-12.5,42.5 -13.5,39.4 -14.1,36.6 C-14.7,33.7 -14.7,30.5 -14.6,27.6 C-14.5,24.7 -14.2,21.7 -13.6,19.0 C-12.9,16.3 -11.8,13.6 -10.5,11.6 C-9.1,9.5 -7.4,7.9 -5.7,6.7 C-3.9,5.5 -1.9,4.4 -0.0,4.2 C1.9,4.0 4.1,4.5 5.9,5.7 C7.7,6.9 9.3,9.2 10.6,11.4 C11.9,13.5 13.1,16.1 13.9,18.8 C14.7,21.5 15.3,24.7 15.2,27.6Z" fill="none" stroke="rgb(228,227,212)" stroke-width="3.2" filter="url(#bl1)"/>
<path d="M15.2,27.6 C15.2,30.5 14.4,33.6 13.6,36.2 C12.8,38.9 11.6,41.3 10.3,43.4 C9.0,45.4 7.4,47.5 5.7,48.7 C4.0,49.9 1.9,50.4 0.0,50.5 C-1.9,50.6 -4.0,50.1 -5.8,49.1 C-7.7,48.1 -9.7,46.7 -11.1,44.6 C-12.5,42.5 -13.5,39.4 -14.1,36.6 C-14.7,33.7 -14.7,30.5 -14.6,27.6 C-14.5,24.7 -14.2,21.7 -13.6,19.0 C-12.9,16.3 -11.8,13.6 -10.5,11.6 C-9.1,9.5 -7.4,7.9 -5.7,6.7 C-3.9,5.5 -1.9,4.4 -0.0,4.2 C1.9,4.0 4.1,4.5 5.9,5.7 C7.7,6.9 9.3,9.2 10.6,11.4 C11.9,13.5 13.1,16.1 13.9,18.8 C14.7,21.5 15.3,24.7 15.2,27.6Z" fill="rgb(162,114,184)" stroke="rgb(118,90,172)" stroke-width="1.4" filter="url(#bl1)"/>
<path d="M10.1,27.6 C10.0,29.8 9.7,31.9 9.2,33.9 C8.8,35.9 8.1,37.6 7.3,39.5 C6.5,41.5 5.7,44.0 4.5,45.5 C3.3,47.0 1.5,48.8 0.0,48.8 C-1.5,48.7 -3.3,46.8 -4.5,45.2 C-5.6,43.6 -6.3,41.2 -7.1,39.3 C-7.9,37.4 -8.7,35.8 -9.2,33.9 C-9.7,31.9 -10.1,29.8 -10.3,27.6 C-10.4,25.4 -10.4,23.0 -10.1,20.7 C-9.8,18.5 -9.3,15.7 -8.3,13.9 C-7.4,12.2 -5.7,11.1 -4.3,10.4 C-3.0,9.8 -1.5,10.2 -0.0,10.2 C1.5,10.2 3.0,9.7 4.4,10.4 C5.8,11.0 7.4,12.2 8.3,13.9 C9.3,15.7 9.7,18.5 10.0,20.8 C10.3,23.1 10.3,25.4 10.1,27.6Z" fill="rgb(160,68,138)" filter="url(#grain)"/>
<path d="M82.7,60.8 C82.7,64.2 81.6,67.8 80.4,71.0 C79.1,74.2 77.5,77.5 75.2,79.9 C72.9,82.4 69.8,84.5 66.7,85.5 C63.7,86.6 60.2,86.3 57.0,86.2 C53.8,86.1 50.6,85.8 47.5,84.8 C44.4,83.9 40.9,82.6 38.4,80.4 C35.9,78.1 34.0,74.6 32.8,71.3 C31.6,68.1 31.1,64.3 31.2,60.8 C31.3,57.3 32.0,53.6 33.4,50.5 C34.8,47.5 37.4,44.9 39.7,42.6 C42.1,40.4 44.8,38.6 47.7,37.1 C50.5,35.6 53.8,33.8 57.0,33.5 C60.2,33.3 64.0,34.1 67.0,35.5 C69.9,37.0 72.5,39.6 74.8,42.1 C77.0,44.6 79.2,47.4 80.6,50.5 C81.9,53.7 82.7,57.4 82.7,60.8Z" fill="none" stroke="rgb(228,227,212)" stroke-width="3.2" filter="url(#bl1)"/>
<path d="M82.7,60.8 C82.7,64.2 81.6,67.8 80.4,71.0 C79.1,74.2 77.5,77.5 75.2,79.9 C72.9,82.4 69.8,84.5 66.7,85.5 C63.7,86.6 60.2,86.3 57.0,86.2 C53.8,86.1 50.6,85.8 47.5,84.8 C44.4,83.9 40.9,82.6 38.4,80.4 C35.9,78.1 34.0,74.6 32.8,71.3 C31.6,68.1 31.1,64.3 31.2,60.8 C31.3,57.3 32.0,53.6 33.4,50.5 C34.8,47.5 37.4,44.9 39.7,42.6 C42.1,40.4 44.8,38.6 47.7,37.1 C50.5,35.6 53.8,33.8 57.0,33.5 C60.2,33.3 64.0,34.1 67.0,35.5 C69.9,37.0 72.5,39.6 74.8,42.1 C77.0,44.6 79.2,47.4 80.6,50.5 C81.9,53.7 82.7,57.4 82.7,60.8Z" fill="rgb(162,114,184)" stroke="rgb(118,90,172)" stroke-width="1.4" filter="url(#bl1)"/>
<path d="M77.0,62.0 C77.1,64.5 76.1,67.1 75.2,69.5 C74.4,72.0 73.6,74.8 71.9,76.7 C70.2,78.5 67.6,80.2 65.3,80.5 C62.9,80.8 60.2,79.0 58.0,78.3 C55.8,77.7 54.4,77.1 52.3,76.6 C50.2,76.1 47.4,76.4 45.4,75.3 C43.4,74.1 41.5,72.0 40.3,69.8 C39.0,67.5 38.1,64.7 37.9,62.0 C37.8,59.3 38.0,56.0 39.3,53.8 C40.5,51.6 43.5,50.1 45.6,49.0 C47.8,47.8 50.0,47.7 52.0,46.8 C54.1,45.9 55.8,44.0 58.0,43.6 C60.2,43.2 62.9,43.4 64.9,44.4 C66.9,45.3 68.5,47.5 70.1,49.2 C71.7,50.9 73.6,52.5 74.8,54.7 C75.9,56.8 76.9,59.5 77.0,62.0Z" fill="rgb(160,68,138)" filter="url(#grain)"/>
<path d="M113.6,38.6 C114.2,42.4 113.9,46.5 113.5,50.2 C113.1,53.9 112.4,57.7 111.0,60.8 C109.6,63.8 107.6,66.9 105.4,68.6 C103.1,70.3 100.0,70.7 97.3,71.0 C94.6,71.3 91.9,71.0 89.1,70.3 C86.4,69.5 83.3,68.6 80.8,66.4 C78.4,64.3 76.0,60.9 74.4,57.5 C72.7,54.1 71.6,50.0 70.9,46.2 C70.3,42.3 70.0,38.0 70.5,34.4 C71.0,30.8 72.6,27.4 74.2,24.6 C75.8,21.8 77.8,19.7 80.0,17.7 C82.1,15.7 84.4,13.4 87.0,12.6 C89.7,11.8 92.9,11.9 95.6,12.9 C98.4,14.0 101.1,16.5 103.5,19.0 C105.8,21.4 108.2,24.3 109.9,27.6 C111.6,30.9 113.0,34.9 113.6,38.6Z" fill="none" stroke="rgb(228,227,212)" stroke-width="3.2" filter="url(#bl1)"/>
<path d="M113.6,38.6 C114.2,42.4 113.9,46.5 113.5,50.2 C113.1,53.9 112.4,57.7 111.0,60.8 C109.6,63.8 107.6,66.9 105.4,68.6 C103.1,70.3 100.0,70.7 97.3,71.0 C94.6,71.3 91.9,71.0 89.1,70.3 C86.4,69.5 83.3,68.6 80.8,66.4 C78.4,64.3 76.0,60.9 74.4,57.5 C72.7,54.1 71.6,50.0 70.9,46.2 C70.3,42.3 70.0,38.0 70.5,34.4 C71.0,30.8 72.6,27.4 74.2,24.6 C75.8,21.8 77.8,19.7 80.0,17.7 C82.1,15.7 84.4,13.4 87.0,12.6 C89.7,11.8 92.9,11.9 95.6,12.9 C98.4,14.0 101.1,16.5 103.5,19.0 C105.8,21.4 108.2,24.3 109.9,27.6 C111.6,30.9 113.0,34.9 113.6,38.6Z" fill="rgb(162,114,184)" stroke="rgb(118,90,172)" stroke-width="1.4" filter="url(#bl1)"/>
<path d="M113.1,34.0 C113.1,36.4 111.6,39.2 110.3,41.1 C108.9,43.0 106.5,44.0 104.7,45.4 C103.0,46.7 101.7,48.0 99.9,49.0 C98.1,50.0 96.1,51.0 94.0,51.3 C91.9,51.7 89.6,51.6 87.3,51.1 C85.1,50.5 82.3,49.8 80.6,48.2 C78.9,46.6 77.5,43.8 77.1,41.4 C76.7,39.0 77.7,36.3 78.1,34.0 C78.4,31.7 78.5,29.6 79.2,27.5 C79.8,25.3 80.4,22.7 81.8,21.1 C83.2,19.4 85.5,18.3 87.6,17.6 C89.6,16.8 91.9,16.5 94.0,16.5 C96.1,16.4 98.5,16.6 100.5,17.5 C102.4,18.3 104.1,20.0 105.7,21.6 C107.3,23.2 109.0,24.8 110.2,26.9 C111.5,28.9 113.1,31.6 113.1,34.0Z" fill="rgb(160,68,138)" filter="url(#grain)"/>
<path d="M162.2,41.6 C162.1,45.8 161.6,50.3 160.4,54.1 C159.2,57.9 157.1,61.6 154.9,64.4 C152.6,67.2 149.7,69.2 146.8,70.7 C144.0,72.3 140.8,73.6 137.8,73.6 C134.8,73.7 131.3,72.8 128.6,71.1 C125.9,69.4 123.6,66.2 121.5,63.3 C119.4,60.4 117.5,57.2 116.1,53.6 C114.7,49.9 113.3,45.7 113.1,41.6 C112.8,37.5 113.5,32.8 114.8,28.9 C116.0,25.0 118.0,21.2 120.3,18.3 C122.6,15.5 125.6,13.0 128.5,11.8 C131.5,10.6 134.8,10.8 137.8,11.1 C140.8,11.4 143.6,12.4 146.5,13.7 C149.3,15.0 152.5,16.3 154.9,18.9 C157.2,21.4 159.4,25.2 160.6,29.0 C161.9,32.8 162.2,37.4 162.2,41.6Z" fill="none" stroke="rgb(228,227,212)" stroke-width="3.2" filter="url(#bl1)"/>
<path d="M162.2,41.6 C162.1,45.8 161.6,50.3 160.4,54.1 C159.2,57.9 157.1,61.6 154.9,64.4 C152.6,67.2 149.7,69.2 146.8,70.7 C144.0,72.3 140.8,73.6 137.8,73.6 C134.8,73.7 131.3,72.8 128.6,71.1 C125.9,69.4 123.6,66.2 121.5,63.3 C119.4,60.4 117.5,57.2 116.1,53.6 C114.7,49.9 113.3,45.7 113.1,41.6 C112.8,37.5 113.5,32.8 114.8,28.9 C116.0,25.0 118.0,21.2 120.3,18.3 C122.6,15.5 125.6,13.0 128.5,11.8 C131.5,10.6 134.8,10.8 137.8,11.1 C140.8,11.4 143.6,12.4 146.5,13.7 C149.3,15.0 152.5,16.3 154.9,18.9 C157.2,21.4 159.4,25.2 160.6,29.0 C161.9,32.8 162.2,37.4 162.2,41.6Z" fill="rgb(162,114,184)" stroke="rgb(118,90,172)" stroke-width="1.4" filter="url(#bl1)"/>
<path d="M152.8,38.0 C152.9,41.0 152.6,44.7 151.4,47.1 C150.2,49.6 147.5,50.9 145.7,52.7 C143.8,54.5 142.4,55.9 140.5,57.8 C138.6,59.7 136.4,63.0 134.0,63.9 C131.6,64.7 128.3,64.1 125.8,62.9 C123.4,61.6 121.1,59.0 119.4,56.5 C117.6,54.0 115.8,50.9 115.3,47.8 C114.9,44.7 115.9,40.9 116.6,38.0 C117.3,35.1 118.8,33.2 119.5,30.4 C120.3,27.7 119.9,24.2 121.0,21.6 C122.2,19.0 124.2,15.9 126.3,14.6 C128.5,13.3 131.4,13.6 134.0,13.6 C136.6,13.6 139.3,13.4 141.7,14.5 C144.1,15.5 146.9,17.3 148.5,19.7 C150.1,22.1 150.6,25.9 151.3,28.9 C152.1,32.0 152.8,35.0 152.8,38.0Z" fill="rgb(160,68,138)" filter="url(#grain)"/>
<path d="M215.2,34.0 C215.2,36.3 214.9,38.8 214.3,41.0 C213.8,43.1 213.0,45.1 212.1,46.8 C211.2,48.4 210.1,50.1 208.9,51.0 C207.7,51.9 206.3,52.2 205.0,52.0 C203.7,51.8 202.5,50.8 201.4,49.8 C200.2,48.9 199.1,47.8 198.2,46.3 C197.2,44.8 196.3,43.0 195.7,40.9 C195.1,38.9 194.8,36.4 194.8,34.0 C194.7,31.6 194.8,29.0 195.3,26.8 C195.8,24.6 196.7,22.4 197.7,20.9 C198.7,19.4 200.1,18.6 201.3,17.9 C202.5,17.2 203.7,16.9 205.0,16.8 C206.3,16.8 207.6,16.8 208.8,17.5 C210.0,18.2 211.2,19.7 212.1,21.3 C213.0,22.9 213.7,25.0 214.3,27.1 C214.8,29.2 215.2,31.7 215.2,34.0Z" fill="none" stroke="rgb(228,227,212)" stroke-width="3.2" filter="url(#bl1)"/>
<path d="M215.2,34.0 C215.2,36.3 214.9,38.8 214.3,41.0 C213.8,43.1 213.0,45.1 212.1,46.8 C211.2,48.4 210.1,50.1 208.9,51.0 C207.7,51.9 206.3,52.2 205.0,52.0 C203.7,51.8 202.5,50.8 201.4,49.8 C200.2,48.9 199.1,47.8 198.2,46.3 C197.2,44.8 196.3,43.0 195.7,40.9 C195.1,38.9 194.8,36.4 194.8,34.0 C194.7,31.6 194.8,29.0 195.3,26.8 C195.8,24.6 196.7,22.4 197.7,20.9 C198.7,19.4 200.1,18.6 201.3,17.9 C202.5,17.2 203.7,16.9 205.0,16.8 C206.3,16.8 207.6,16.8 208.8,17.5 C210.0,18.2 211.2,19.7 212.1,21.3 C213.0,22.9 213.7,25.0 214.3,27.1 C214.8,29.2 215.2,31.7 215.2,34.0Z" fill="rgb(162,114,184)" stroke="rgb(118,90,172)" stroke-width="1.4" filter="url(#bl1)"/>
<path d="M212.8,34.0 C212.9,35.7 212.9,37.5 212.7,39.1 C212.5,40.7 212.1,42.6 211.5,43.8 C211.0,45.1 210.2,46.0 209.4,46.6 C208.6,47.2 207.8,47.7 207.0,47.6 C206.2,47.5 205.3,46.9 204.7,46.0 C204.1,45.1 203.7,43.4 203.3,42.1 C202.8,40.8 202.5,39.7 202.1,38.4 C201.8,37.0 201.2,35.6 201.0,34.0 C200.8,32.4 200.8,30.3 201.0,28.6 C201.3,27.0 201.8,25.2 202.4,23.9 C202.9,22.6 203.7,21.4 204.5,21.0 C205.3,20.5 206.2,20.9 207.0,21.3 C207.8,21.7 208.4,22.6 209.1,23.2 C209.7,23.9 210.5,24.3 211.0,25.2 C211.6,26.2 212.2,27.6 212.5,29.1 C212.8,30.5 212.8,32.3 212.8,34.0Z" fill="rgb(160,68,138)" filter="url(#grain)"/>
<path d="M80.6,117.7 C80.7,121.3 81.0,125.3 79.9,128.8 C78.9,132.3 77.0,136.2 74.5,138.8 C71.9,141.3 68.1,142.9 64.8,144.1 C61.4,145.3 57.8,145.9 54.3,145.9 C50.8,145.8 47.1,145.2 44.0,143.8 C40.9,142.3 38.1,139.7 35.6,137.2 C33.2,134.6 31.0,131.7 29.4,128.5 C27.9,125.2 26.5,121.3 26.4,117.7 C26.4,114.1 27.7,110.2 29.2,106.8 C30.7,103.5 32.9,100.5 35.3,97.9 C37.7,95.2 40.5,92.3 43.6,90.8 C46.8,89.3 50.8,88.6 54.3,88.8 C57.8,89.0 61.4,90.3 64.6,91.8 C67.8,93.3 71.0,95.2 73.4,97.8 C75.8,100.3 77.7,103.7 78.9,107.1 C80.1,110.4 80.4,114.1 80.6,117.7Z" fill="none" stroke="rgb(228,227,212)" stroke-width="3.2" filter="url(#bl1)"/>
<path d="M80.6,117.7 C80.7,121.3 81.0,125.3 79.9,128.8 C78.9,132.3 77.0,136.2 74.5,138.8 C71.9,141.3 68.1,142.9 64.8,144.1 C61.4,145.3 57.8,145.9 54.3,145.9 C50.8,145.8 47.1,145.2 44.0,143.8 C40.9,142.3 38.1,139.7 35.6,137.2 C33.2,134.6 31.0,131.7 29.4,128.5 C27.9,125.2 26.5,121.3 26.4,117.7 C26.4,114.1 27.7,110.2 29.2,106.8 C30.7,103.5 32.9,100.5 35.3,97.9 C37.7,95.2 40.5,92.3 43.6,90.8 C46.8,89.3 50.8,88.6 54.3,88.8 C57.8,89.0 61.4,90.3 64.6,91.8 C67.8,93.3 71.0,95.2 73.4,97.8 C75.8,100.3 77.7,103.7 78.9,107.1 C80.1,110.4 80.4,114.1 80.6,117.7Z" fill="rgb(162,114,184)" stroke="rgb(118,90,172)" stroke-width="1.4" filter="url(#bl1)"/>
<path d="M73.4,114.0 C73.6,116.5 74.5,119.4 74.0,121.8 C73.4,124.3 71.9,127.1 70.1,128.9 C68.4,130.7 65.8,131.6 63.4,132.8 C61.1,134.1 58.6,135.9 56.0,136.1 C53.4,136.3 50.1,135.6 48.1,134.0 C46.1,132.5 45.2,128.8 44.0,126.6 C42.8,124.4 42.0,122.7 41.0,120.6 C39.9,118.5 38.3,116.3 38.0,114.0 C37.6,111.7 38.2,109.1 38.8,106.5 C39.4,103.9 39.9,101.0 41.4,98.6 C42.8,96.3 45.0,93.2 47.5,92.3 C49.9,91.4 53.5,92.6 56.0,93.5 C58.5,94.3 60.5,96.0 62.6,97.2 C64.8,98.3 67.3,98.7 69.0,100.3 C70.7,101.9 71.9,104.5 72.7,106.7 C73.4,109.0 73.2,111.5 73.4,114.0Z" fill="rgb(160,68,138)" filter="url(#grain)"/>
<path d="M121.9,159.2 C122.1,163.4 122.0,168.1 120.7,172.1 C119.3,176.2 116.9,180.3 114.0,183.5 C111.1,186.7 107.3,189.6 103.4,191.3 C99.5,193.1 94.8,194.2 90.6,194.1 C86.4,194.0 81.9,192.6 78.0,190.8 C74.1,189.1 70.3,186.5 67.3,183.5 C64.2,180.4 61.3,176.5 59.8,172.4 C58.4,168.4 58.1,163.5 58.4,159.2 C58.8,154.9 60.2,150.7 61.8,146.8 C63.4,142.9 65.3,138.9 68.0,135.7 C70.7,132.4 74.1,129.2 77.9,127.2 C81.6,125.2 86.3,123.8 90.6,123.6 C94.9,123.4 99.9,124.1 103.8,126.0 C107.7,127.9 111.4,131.4 114.0,134.8 C116.6,138.3 118.1,142.7 119.4,146.8 C120.7,150.9 121.7,155.0 121.9,159.2Z" fill="none" stroke="rgb(228,227,212)" stroke-width="3.2" filter="url(#bl1)"/>
<path d="M121.9,159.2 C122.1,163.4 122.0,168.1 120.7,172.1 C119.3,176.2 116.9,180.3 114.0,183.5 C111.1,186.7 107.3,189.6 103.4,191.3 C99.5,193.1 94.8,194.2 90.6,194.1 C86.4,194.0 81.9,192.6 78.0,190.8 C74.1,189.1 70.3,186.5 67.3,183.5 C64.2,180.4 61.3,176.5 59.8,172.4 C58.4,168.4 58.1,163.5 58.4,159.2 C58.8,154.9 60.2,150.7 61.8,146.8 C63.4,142.9 65.3,138.9 68.0,135.7 C70.7,132.4 74.1,129.2 77.9,127.2 C81.6,125.2 86.3,123.8 90.6,123.6 C94.9,123.4 99.9,124.1 103.8,126.0 C107.7,127.9 111.4,131.4 114.0,134.8 C116.6,138.3 118.1,142.7 119.4,146.8 C120.7,150.9 121.7,155.0 121.9,159.2Z" fill="rgb(162,114,184)" stroke="rgb(118,90,172)" stroke-width="1.4" filter="url(#bl1)"/>
<path d="M108.9,155.0 C108.9,158.2 108.4,161.8 107.2,164.6 C106.0,167.3 103.6,169.4 101.7,171.4 C99.7,173.4 97.7,175.2 95.4,176.4 C93.1,177.7 90.4,179.2 88.0,179.1 C85.6,178.9 83.1,177.0 80.9,175.6 C78.7,174.2 77.1,172.4 75.0,170.6 C73.0,168.7 70.1,167.3 68.5,164.7 C67.0,162.1 65.8,158.3 65.8,155.0 C65.7,151.7 66.9,148.1 68.1,145.1 C69.4,142.2 71.2,139.2 73.3,137.4 C75.5,135.6 78.5,135.0 80.9,134.5 C83.4,134.1 85.6,135.0 88.0,134.9 C90.4,134.8 92.8,133.5 95.3,133.8 C97.9,134.1 101.2,134.8 103.3,136.7 C105.3,138.6 106.6,142.2 107.5,145.3 C108.5,148.3 109.0,151.8 108.9,155.0Z" fill="rgb(160,68,138)" filter="url(#grain)"/>
<path d="M224.9,93.2 C225.0,97.0 225.0,101.2 223.9,104.8 C222.7,108.3 220.6,111.9 218.2,114.5 C215.8,117.1 212.6,119.0 209.6,120.3 C206.5,121.5 203.1,122.2 200.0,122.1 C196.9,121.9 193.6,120.8 190.8,119.4 C187.9,117.9 185.3,115.7 182.9,113.3 C180.5,110.8 178.0,107.9 176.5,104.6 C175.1,101.3 174.0,97.0 174.1,93.2 C174.1,89.4 175.3,85.3 176.6,81.9 C178.0,78.4 180.0,75.1 182.3,72.5 C184.6,69.8 187.5,67.5 190.4,66.2 C193.4,64.8 196.8,64.4 200.0,64.4 C203.2,64.5 206.5,65.1 209.5,66.4 C212.4,67.8 215.5,69.8 217.7,72.4 C219.9,75.1 221.6,78.7 222.8,82.2 C223.9,85.6 224.7,89.4 224.9,93.2Z" fill="none" stroke="rgb(228,227,212)" stroke-width="3.2" filter="url(#bl1)"/>
<path d="M224.9,93.2 C225.0,97.0 225.0,101.2 223.9,104.8 C222.7,108.3 220.6,111.9 218.2,114.5 C215.8,117.1 212.6,119.0 209.6,120.3 C206.5,121.5 203.1,122.2 200.0,122.1 C196.9,121.9 193.6,120.8 190.8,119.4 C187.9,117.9 185.3,115.7 182.9,113.3 C180.5,110.8 178.0,107.9 176.5,104.6 C175.1,101.3 174.0,97.0 174.1,93.2 C174.1,89.4 175.3,85.3 176.6,81.9 C178.0,78.4 180.0,75.1 182.3,72.5 C184.6,69.8 187.5,67.5 190.4,66.2 C193.4,64.8 196.8,64.4 200.0,64.4 C203.2,64.5 206.5,65.1 209.5,66.4 C212.4,67.8 215.5,69.8 217.7,72.4 C219.9,75.1 221.6,78.7 222.8,82.2 C223.9,85.6 224.7,89.4 224.9,93.2Z" fill="rgb(162,114,184)" stroke="rgb(118,90,172)" stroke-width="1.4" filter="url(#bl1)"/>
<path d="M217.5,98.0 C217.1,100.7 216.0,102.8 215.4,105.2 C214.7,107.5 214.5,110.3 213.5,112.1 C212.5,113.9 210.9,115.2 209.5,116.0 C208.1,116.8 206.5,116.8 205.0,117.0 C203.5,117.2 201.6,118.1 200.2,117.3 C198.8,116.5 197.3,114.3 196.4,112.3 C195.5,110.2 195.4,107.5 194.8,105.1 C194.1,102.7 192.8,100.6 192.4,98.0 C192.1,95.4 191.9,91.8 192.6,89.5 C193.3,87.1 195.3,85.6 196.6,84.1 C198.0,82.6 199.3,81.4 200.6,80.5 C202.0,79.6 203.6,78.6 205.0,78.8 C206.4,78.9 207.7,80.5 209.1,81.3 C210.6,82.1 212.1,82.4 213.5,83.8 C215.0,85.1 217.1,86.8 217.8,89.2 C218.4,91.6 217.9,95.3 217.5,98.0Z" fill="rgb(160,68,138)" filter="url(#grain)"/>
<path d="M200.2,138.7 C200.3,143.2 199.9,148.2 198.8,152.4 C197.7,156.5 195.7,160.6 193.5,163.8 C191.4,167.0 188.6,169.5 185.8,171.4 C183.0,173.3 179.8,175.0 176.8,175.1 C173.8,175.2 170.3,174.0 167.6,172.0 C164.9,170.0 162.6,166.3 160.6,163.0 C158.7,159.6 157.0,155.8 155.8,151.8 C154.6,147.7 153.6,143.2 153.4,138.7 C153.3,134.2 153.8,129.4 154.9,125.1 C155.9,120.8 157.5,116.2 159.6,112.9 C161.7,109.5 164.6,106.3 167.4,104.8 C170.3,103.3 173.8,103.3 176.8,103.7 C179.8,104.1 182.8,105.4 185.5,107.0 C188.3,108.7 191.2,110.8 193.4,113.8 C195.6,116.8 197.4,121.0 198.6,125.2 C199.7,129.3 200.2,134.2 200.2,138.7Z" fill="none" stroke="rgb(228,227,212)" stroke-width="3.2" filter="url(#bl1)"/>
<path d="M200.2,138.7 C200.3,143.2 199.9,148.2 198.8,152.4 C197.7,156.5 195.7,160.6 193.5,163.8 C191.4,167.0 188.6,169.5 185.8,171.4 C183.0,173.3 179.8,175.0 176.8,175.1 C173.8,175.2 170.3,174.0 167.6,172.0 C164.9,170.0 162.6,166.3 160.6,163.0 C158.7,159.6 157.0,155.8 155.8,151.8 C154.6,147.7 153.6,143.2 153.4,138.7 C153.3,134.2 153.8,129.4 154.9,125.1 C155.9,120.8 157.5,116.2 159.6,112.9 C161.7,109.5 164.6,106.3 167.4,104.8 C170.3,103.3 173.8,103.3 176.8,103.7 C179.8,104.1 182.8,105.4 185.5,107.0 C188.3,108.7 191.2,110.8 193.4,113.8 C195.6,116.8 197.4,121.0 198.6,125.2 C199.7,129.3 200.2,134.2 200.2,138.7Z" fill="rgb(162,114,184)" stroke="rgb(118,90,172)" stroke-width="1.4" filter="url(#bl1)"/>
<path d="M194.4,136.0 C194.9,138.9 195.4,142.6 194.6,145.3 C193.8,148.0 191.4,150.1 189.6,152.1 C187.8,154.0 185.9,155.4 183.8,156.9 C181.7,158.5 179.3,160.9 177.0,161.2 C174.7,161.5 171.8,160.1 169.7,158.5 C167.7,156.9 166.2,154.0 164.7,151.7 C163.3,149.4 161.7,147.1 161.0,144.5 C160.3,141.8 160.5,138.7 160.7,136.0 C160.8,133.3 161.6,131.0 162.0,128.1 C162.4,125.1 162.1,121.2 163.3,118.5 C164.5,115.7 166.8,112.6 169.1,111.6 C171.4,110.6 174.6,111.8 177.0,112.4 C179.4,112.9 181.7,113.8 183.8,115.1 C185.8,116.4 188.0,118.1 189.3,120.2 C190.7,122.4 191.2,125.4 192.1,128.0 C192.9,130.7 194.0,133.1 194.4,136.0Z" fill="rgb(160,68,138)" filter="url(#grain)"/>
<path d="M175.0,207.0 C174.7,210.6 173.9,213.9 172.6,217.2 C171.4,220.5 170.1,224.1 167.7,226.7 C165.4,229.3 162.1,231.4 158.8,232.8 C155.6,234.1 151.8,234.8 148.3,234.9 C144.8,235.0 140.8,234.7 137.5,233.4 C134.3,232.0 131.2,229.5 128.7,226.9 C126.2,224.3 124.3,221.0 122.8,217.7 C121.3,214.4 119.7,210.6 119.7,207.0 C119.6,203.4 120.8,199.3 122.5,196.2 C124.2,193.1 127.2,190.6 129.8,188.3 C132.4,185.9 135.1,183.7 138.2,182.2 C141.3,180.7 144.8,179.3 148.3,179.1 C151.8,178.8 155.6,179.5 159.0,180.7 C162.5,181.9 166.2,183.6 168.8,186.2 C171.5,188.7 173.9,192.3 174.9,195.8 C175.9,199.3 175.4,203.4 175.0,207.0Z" fill="none" stroke="rgb(228,227,212)" stroke-width="3.2" filter="url(#bl1)"/>
<path d="M175.0,207.0 C174.7,210.6 173.9,213.9 172.6,217.2 C171.4,220.5 170.1,224.1 167.7,226.7 C165.4,229.3 162.1,231.4 158.8,232.8 C155.6,234.1 151.8,234.8 148.3,234.9 C144.8,235.0 140.8,234.7 137.5,233.4 C134.3,232.0 131.2,229.5 128.7,226.9 C126.2,224.3 124.3,221.0 122.8,217.7 C121.3,214.4 119.7,210.6 119.7,207.0 C119.6,203.4 120.8,199.3 122.5,196.2 C124.2,193.1 127.2,190.6 129.8,188.3 C132.4,185.9 135.1,183.7 138.2,182.2 C141.3,180.7 144.8,179.3 148.3,179.1 C151.8,178.8 155.6,179.5 159.0,180.7 C162.5,181.9 166.2,183.6 168.8,186.2 C171.5,188.7 173.9,192.3 174.9,195.8 C175.9,199.3 175.4,203.4 175.0,207.0Z" fill="rgb(162,114,184)" stroke="rgb(118,90,172)" stroke-width="1.4" filter="url(#bl1)"/>
<path d="M168.7,208.0 C169.0,210.3 170.1,212.9 169.6,215.3 C169.1,217.7 167.9,220.7 165.9,222.3 C163.9,223.9 160.4,224.5 157.8,224.9 C155.1,225.4 152.5,225.3 150.0,225.1 C147.5,224.9 145.0,224.6 142.8,223.7 C140.5,222.9 138.6,221.4 136.7,219.9 C134.8,218.5 132.7,216.9 131.3,215.0 C129.9,213.0 128.3,210.3 128.3,208.0 C128.4,205.7 130.0,203.1 131.4,201.1 C132.7,199.0 134.7,197.5 136.5,195.8 C138.3,194.1 139.9,192.0 142.1,190.9 C144.4,189.8 147.4,189.2 150.0,189.4 C152.6,189.5 155.2,190.6 157.5,191.6 C159.9,192.6 162.2,193.9 163.9,195.5 C165.5,197.2 166.7,199.4 167.5,201.5 C168.2,203.6 168.3,205.7 168.7,208.0Z" fill="rgb(160,68,138)" filter="url(#grain)"/>
<path d="M225.5,207.0 C225.6,210.6 225.1,214.7 223.9,218.1 C222.6,221.4 220.4,224.8 217.9,227.1 C215.5,229.4 212.2,230.8 209.2,231.9 C206.2,233.0 203.1,233.7 200.0,233.8 C196.9,234.0 193.4,234.0 190.4,232.9 C187.4,231.8 184.3,229.6 182.0,227.1 C179.7,224.6 177.8,221.2 176.6,217.9 C175.3,214.5 174.5,210.6 174.6,207.0 C174.7,203.4 175.7,199.6 177.0,196.3 C178.3,193.1 180.3,190.0 182.5,187.5 C184.8,184.9 187.4,182.3 190.3,180.8 C193.2,179.4 196.8,178.7 200.0,178.9 C203.2,179.1 206.4,180.5 209.3,181.9 C212.2,183.3 215.0,185.2 217.3,187.6 C219.7,190.0 222.0,192.9 223.3,196.2 C224.7,199.4 225.5,203.4 225.5,207.0Z" fill="none" stroke="rgb(228,227,212)" stroke-width="3.2" filter="url(#bl1)"/>
<path d="M225.5,207.0 C225.6,210.6 225.1,214.7 223.9,218.1 C222.6,221.4 220.4,224.8 217.9,227.1 C215.5,229.4 212.2,230.8 209.2,231.9 C206.2,233.0 203.1,233.7 200.0,233.8 C196.9,234.0 193.4,234.0 190.4,232.9 C187.4,231.8 184.3,229.6 182.0,227.1 C179.7,224.6 177.8,221.2 176.6,217.9 C175.3,214.5 174.5,210.6 174.6,207.0 C174.7,203.4 175.7,199.6 177.0,196.3 C178.3,193.1 180.3,190.0 182.5,187.5 C184.8,184.9 187.4,182.3 190.3,180.8 C193.2,179.4 196.8,178.7 200.0,178.9 C203.2,179.1 206.4,180.5 209.3,181.9 C212.2,183.3 215.0,185.2 217.3,187.6 C219.7,190.0 222.0,192.9 223.3,196.2 C224.7,199.4 225.5,203.4 225.5,207.0Z" fill="rgb(162,114,184)" stroke="rgb(118,90,172)" stroke-width="1.4" filter="url(#bl1)"/>
<path d="M224.3,208.0 C224.8,210.3 224.1,213.4 222.9,215.4 C221.7,217.4 218.9,218.6 217.1,220.1 C215.3,221.6 213.9,223.5 211.9,224.6 C209.9,225.7 207.3,226.9 205.0,226.9 C202.7,226.9 200.3,225.5 198.2,224.5 C196.0,223.5 193.7,222.5 192.0,221.0 C190.4,219.4 188.8,217.1 188.3,214.9 C187.8,212.8 189.1,210.2 189.3,208.0 C189.5,205.8 189.2,203.9 189.4,201.5 C189.7,199.2 189.4,195.7 190.7,193.7 C192.1,191.8 195.1,190.4 197.5,189.8 C199.8,189.2 202.6,189.6 205.0,189.9 C207.4,190.2 209.9,190.3 211.9,191.4 C213.8,192.5 215.2,194.7 216.6,196.4 C217.9,198.2 218.7,199.9 220.0,201.8 C221.3,203.7 223.8,205.7 224.3,208.0Z" fill="rgb(160,68,138)" filter="url(#grain)"/>
<g filter="url(#bl2)">
</g>
</g></g>
<g clip-path="url(#cp32)">
<rect x="680" y="474.5" width="210" height="208.5" fill="rgb(224,230,208)"/>
<g transform="translate(680,474.5)">
<path d="M109.2,50.8 C109.1,54.1 108.8,57.5 107.8,60.6 C106.8,63.8 105.3,67.3 103.1,69.7 C100.9,72.2 97.6,74.1 94.5,75.5 C91.4,76.8 87.8,77.8 84.5,77.8 C81.2,77.8 77.4,77.0 74.5,75.5 C71.5,74.0 69.1,71.2 66.9,68.7 C64.8,66.2 62.9,63.5 61.5,60.5 C60.0,57.5 58.4,54.1 58.2,50.8 C58.1,47.5 59.0,43.7 60.4,40.6 C61.7,37.5 64.0,34.7 66.4,32.3 C68.7,29.9 71.5,27.5 74.5,26.2 C77.5,24.9 81.2,24.5 84.5,24.5 C87.8,24.6 91.2,25.5 94.3,26.7 C97.4,27.9 100.8,29.4 103.2,31.7 C105.6,34.1 107.5,37.5 108.5,40.7 C109.5,43.8 109.3,47.5 109.2,50.8Z" fill="none" stroke="rgb(224,230,208)" stroke-width="3.2" filter="url(#bl1)"/>
<path d="M109.2,50.8 C109.1,54.1 108.8,57.5 107.8,60.6 C106.8,63.8 105.3,67.3 103.1,69.7 C100.9,72.2 97.6,74.1 94.5,75.5 C91.4,76.8 87.8,77.8 84.5,77.8 C81.2,77.8 77.4,77.0 74.5,75.5 C71.5,74.0 69.1,71.2 66.9,68.7 C64.8,66.2 62.9,63.5 61.5,60.5 C60.0,57.5 58.4,54.1 58.2,50.8 C58.1,47.5 59.0,43.7 60.4,40.6 C61.7,37.5 64.0,34.7 66.4,32.3 C68.7,29.9 71.5,27.5 74.5,26.2 C77.5,24.9 81.2,24.5 84.5,24.5 C87.8,24.6 91.2,25.5 94.3,26.7 C97.4,27.9 100.8,29.4 103.2,31.7 C105.6,34.1 107.5,37.5 108.5,40.7 C109.5,43.8 109.3,47.5 109.2,50.8Z" fill="rgb(150,122,182)" stroke="rgb(100,82,150)" stroke-width="1.4" filter="url(#bl1)"/>
<path d="M105.6,54.0 C105.7,56.8 104.2,60.0 102.9,62.4 C101.6,64.9 99.7,67.1 97.7,68.8 C95.8,70.4 93.3,71.6 91.0,72.3 C88.8,73.0 86.4,72.8 84.0,72.9 C81.6,73.1 79.1,73.6 76.6,73.1 C74.2,72.6 71.0,71.8 69.2,69.9 C67.3,68.1 66.3,64.9 65.5,62.2 C64.8,59.6 64.7,56.7 64.7,54.0 C64.7,51.3 64.6,48.3 65.5,45.8 C66.4,43.3 68.2,40.8 70.1,39.0 C71.9,37.2 74.3,35.8 76.6,34.8 C78.9,33.8 81.6,32.8 84.0,33.0 C86.4,33.2 88.9,34.5 91.0,35.8 C93.1,37.0 94.7,38.7 96.7,40.3 C98.6,42.0 101.3,43.4 102.8,45.6 C104.2,47.9 105.6,51.2 105.6,54.0Z" fill="rgb(140,38,105)" filter="url(#grain)"/>
<path d="M147.2,37.2 C147.3,40.4 146.6,43.9 145.3,46.8 C143.9,49.7 141.6,52.2 139.4,54.4 C137.1,56.6 134.6,58.7 131.8,60.1 C129.0,61.5 125.6,62.6 122.5,62.7 C119.4,62.9 115.9,62.1 112.9,60.8 C109.9,59.6 106.9,57.7 104.7,55.3 C102.6,53.0 100.7,49.8 99.8,46.8 C98.9,43.8 99.0,40.3 99.2,37.2 C99.4,34.1 99.9,31.0 100.8,28.0 C101.8,25.0 102.9,21.7 104.9,19.2 C106.9,16.8 109.9,14.6 112.8,13.4 C115.8,12.1 119.3,11.6 122.5,11.7 C125.7,11.8 129.2,12.4 132.0,13.8 C134.8,15.1 137.5,17.4 139.6,19.8 C141.7,22.1 143.3,25.0 144.6,27.9 C145.9,30.8 147.1,34.0 147.2,37.2Z" fill="none" stroke="rgb(224,230,208)" stroke-width="3.2" filter="url(#bl1)"/>
<path d="M147.2,37.2 C147.3,40.4 146.6,43.9 145.3,46.8 C143.9,49.7 141.6,52.2 139.4,54.4 C137.1,56.6 134.6,58.7 131.8,60.1 C129.0,61.5 125.6,62.6 122.5,62.7 C119.4,62.9 115.9,62.1 112.9,60.8 C109.9,59.6 106.9,57.7 104.7,55.3 C102.6,53.0 100.7,49.8 99.8,46.8 C98.9,43.8 99.0,40.3 99.2,37.2 C99.4,34.1 99.9,31.0 100.8,28.0 C101.8,25.0 102.9,21.7 104.9,19.2 C106.9,16.8 109.9,14.6 112.8,13.4 C115.8,12.1 119.3,11.6 122.5,11.7 C125.7,11.8 129.2,12.4 132.0,13.8 C134.8,15.1 137.5,17.4 139.6,19.8 C141.7,22.1 143.3,25.0 144.6,27.9 C145.9,30.8 147.1,34.0 147.2,37.2Z" fill="rgb(150,122,182)" stroke="rgb(100,82,150)" stroke-width="1.4" filter="url(#bl1)"/>
<path d="M143.3,34.7 C144.6,37.0 146.4,40.0 146.7,42.6 C146.9,45.2 146.0,48.4 144.8,50.4 C143.6,52.5 141.2,53.5 139.6,55.0 C137.9,56.6 136.7,58.6 134.8,59.7 C133.0,60.7 130.5,61.9 128.3,61.5 C126.2,61.1 123.8,58.9 121.9,57.3 C120.0,55.7 118.4,53.9 116.9,52.0 C115.4,50.0 113.9,47.9 113.1,45.7 C112.2,43.4 112.1,40.9 111.7,38.3 C111.4,35.7 110.6,32.9 110.8,30.1 C111.0,27.4 111.4,23.5 113.0,21.8 C114.6,20.1 118.0,19.9 120.4,20.1 C122.8,20.2 125.2,21.9 127.4,22.6 C129.5,23.4 131.4,23.5 133.3,24.4 C135.2,25.4 137.1,26.8 138.8,28.5 C140.4,30.2 142.0,32.3 143.3,34.7Z" fill="rgb(140,38,105)" filter="url(#grain)"/>
<path d="M155.3,84.4 C155.3,87.0 154.8,90.1 153.4,92.4 C152.0,94.7 149.3,96.6 146.9,98.3 C144.5,100.0 141.9,101.3 139.1,102.5 C136.3,103.6 133.2,105.0 130.0,105.3 C126.8,105.6 123.1,105.1 120.1,104.1 C117.1,103.1 114.2,101.3 111.8,99.4 C109.5,97.4 107.2,95.0 106.1,92.5 C105.1,90.1 105.0,87.0 105.4,84.4 C105.7,81.8 107.0,79.4 108.2,77.0 C109.4,74.6 110.5,72.0 112.5,70.0 C114.5,68.0 117.4,66.1 120.3,65.1 C123.2,64.1 126.8,64.0 130.0,64.0 C133.2,64.0 136.6,64.3 139.6,65.2 C142.7,66.1 145.9,67.6 148.2,69.4 C150.4,71.3 151.9,74.0 153.1,76.5 C154.3,79.0 155.2,81.8 155.3,84.4Z" fill="none" stroke="rgb(224,230,208)" stroke-width="3.2" filter="url(#bl1)"/>
<path d="M155.3,84.4 C155.3,87.0 154.8,90.1 153.4,92.4 C152.0,94.7 149.3,96.6 146.9,98.3 C144.5,100.0 141.9,101.3 139.1,102.5 C136.3,103.6 133.2,105.0 130.0,105.3 C126.8,105.6 123.1,105.1 120.1,104.1 C117.1,103.1 114.2,101.3 111.8,99.4 C109.5,97.4 107.2,95.0 106.1,92.5 C105.1,90.1 105.0,87.0 105.4,84.4 C105.7,81.8 107.0,79.4 108.2,77.0 C109.4,74.6 110.5,72.0 112.5,70.0 C114.5,68.0 117.4,66.1 120.3,65.1 C123.2,64.1 126.8,64.0 130.0,64.0 C133.2,64.0 136.6,64.3 139.6,65.2 C142.7,66.1 145.9,67.6 148.2,69.4 C150.4,71.3 151.9,74.0 153.1,76.5 C154.3,79.0 155.2,81.8 155.3,84.4Z" fill="rgb(150,122,182)" stroke="rgb(100,82,150)" stroke-width="1.4" filter="url(#bl1)"/>
<path d="M146.9,83.0 C146.8,85.1 145.3,87.0 144.3,89.1 C143.3,91.1 142.8,93.4 141.2,95.1 C139.5,96.8 137.0,98.8 134.5,99.4 C132.0,99.9 128.5,99.0 126.0,98.5 C123.5,97.9 121.3,97.0 119.2,96.1 C117.1,95.3 114.9,94.5 113.2,93.3 C111.5,92.0 110.4,90.3 109.0,88.6 C107.6,86.9 105.8,85.2 105.0,83.0 C104.1,80.8 103.0,77.7 103.9,75.7 C104.9,73.6 108.1,71.8 110.6,70.7 C113.1,69.6 116.3,69.6 118.8,69.2 C121.4,68.7 123.6,68.0 126.0,68.0 C128.4,68.1 130.9,68.6 133.1,69.3 C135.3,70.0 137.2,71.2 139.2,72.5 C141.2,73.7 143.9,74.9 145.1,76.7 C146.4,78.4 147.1,80.9 146.9,83.0Z" fill="rgb(140,38,105)" filter="url(#grain)"/>
<path d="M125.7,123.8 C123.7,127.6 120.0,130.7 116.8,133.6 C113.5,136.5 110.2,139.2 106.3,141.3 C102.4,143.4 97.8,145.7 93.2,146.1 C88.6,146.5 83.2,145.3 78.7,143.6 C74.2,141.9 69.9,139.1 66.3,136.0 C62.6,132.9 58.8,129.2 56.7,125.1 C54.5,121.0 53.5,116.0 53.4,111.5 C53.3,107.1 54.4,102.5 55.9,98.4 C57.4,94.2 59.4,89.8 62.5,86.7 C65.6,83.7 70.2,81.3 74.5,80.0 C78.8,78.6 83.6,78.6 88.2,78.5 C92.8,78.4 97.6,78.1 102.2,79.2 C106.8,80.3 112.1,82.2 115.8,85.1 C119.6,88.0 122.7,92.5 124.9,96.7 C127.0,101.0 128.5,105.9 128.6,110.4 C128.7,114.9 127.6,119.9 125.7,123.8Z" fill="none" stroke="rgb(224,230,208)" stroke-width="3.2" filter="url(#bl1)"/>
<path d="M125.7,123.8 C123.7,127.6 120.0,130.7 116.8,133.6 C113.5,136.5 110.2,139.2 106.3,141.3 C102.4,143.4 97.8,145.7 93.2,146.1 C88.6,146.5 83.2,145.3 78.7,143.6 C74.2,141.9 69.9,139.1 66.3,136.0 C62.6,132.9 58.8,129.2 56.7,125.1 C54.5,121.0 53.5,116.0 53.4,111.5 C53.3,107.1 54.4,102.5 55.9,98.4 C57.4,94.2 59.4,89.8 62.5,86.7 C65.6,83.7 70.2,81.3 74.5,80.0 C78.8,78.6 83.6,78.6 88.2,78.5 C92.8,78.4 97.6,78.1 102.2,79.2 C106.8,80.3 112.1,82.2 115.8,85.1 C119.6,88.0 122.7,92.5 124.9,96.7 C127.0,101.0 128.5,105.9 128.6,110.4 C128.7,114.9 127.6,119.9 125.7,123.8Z" fill="rgb(150,122,182)" stroke="rgb(100,82,150)" stroke-width="1.4" filter="url(#bl1)"/>
<path d="M115.4,121.5 C114.8,124.7 112.6,128.2 110.3,130.7 C107.9,133.2 104.5,135.4 101.3,136.4 C98.0,137.4 94.0,137.2 90.7,136.7 C87.4,136.2 84.6,134.3 81.6,133.2 C78.6,132.0 75.5,131.4 72.7,129.7 C69.9,127.9 66.3,125.7 64.8,122.9 C63.2,120.1 63.1,116.0 63.3,112.8 C63.4,109.5 64.6,106.4 65.8,103.4 C66.9,100.5 68.1,97.3 70.1,94.9 C72.1,92.4 74.9,90.2 77.8,88.6 C80.8,87.0 84.3,85.7 87.8,85.5 C91.2,85.2 95.4,85.4 98.4,86.9 C101.4,88.4 103.9,91.9 105.7,94.6 C107.5,97.3 108.0,100.3 109.4,103.1 C110.7,105.9 112.9,108.2 113.9,111.3 C114.9,114.3 116.0,118.2 115.4,121.5Z" fill="rgb(140,38,105)" filter="url(#grain)"/>
<path d="M111.1,160.0 C111.2,163.5 110.2,167.4 108.8,170.7 C107.4,174.1 105.2,177.2 102.7,179.9 C100.2,182.7 97.2,185.7 93.8,187.2 C90.4,188.7 85.9,189.3 82.2,188.9 C78.5,188.6 74.8,186.6 71.6,185.0 C68.3,183.3 65.2,181.4 62.7,179.0 C60.2,176.5 57.8,173.6 56.4,170.4 C54.9,167.3 54.3,163.6 54.0,160.0 C53.7,156.4 53.6,152.4 54.7,148.9 C55.8,145.4 57.9,141.5 60.6,139.0 C63.4,136.5 67.5,135.1 71.1,134.0 C74.7,132.9 78.5,132.4 82.2,132.5 C85.9,132.5 89.9,132.8 93.2,134.1 C96.5,135.5 99.6,138.1 102.1,140.7 C104.5,143.3 106.5,146.4 108.0,149.6 C109.5,152.8 111.0,156.5 111.1,160.0Z" fill="none" stroke="rgb(224,230,208)" stroke-width="3.2" filter="url(#bl1)"/>
<path d="M111.1,160.0 C111.2,163.5 110.2,167.4 108.8,170.7 C107.4,174.1 105.2,177.2 102.7,179.9 C100.2,182.7 97.2,185.7 93.8,187.2 C90.4,188.7 85.9,189.3 82.2,188.9 C78.5,188.6 74.8,186.6 71.6,185.0 C68.3,183.3 65.2,181.4 62.7,179.0 C60.2,176.5 57.8,173.6 56.4,170.4 C54.9,167.3 54.3,163.6 54.0,160.0 C53.7,156.4 53.6,152.4 54.7,148.9 C55.8,145.4 57.9,141.5 60.6,139.0 C63.4,136.5 67.5,135.1 71.1,134.0 C74.7,132.9 78.5,132.4 82.2,132.5 C85.9,132.5 89.9,132.8 93.2,134.1 C96.5,135.5 99.6,138.1 102.1,140.7 C104.5,143.3 106.5,146.4 108.0,149.6 C109.5,152.8 111.0,156.5 111.1,160.0Z" fill="rgb(150,122,182)" stroke="rgb(100,82,150)" stroke-width="1.4" filter="url(#bl1)"/>
<path d="M104.2,162.8 C104.5,165.4 105.0,168.6 104.0,171.0 C103.1,173.4 100.5,175.7 98.2,177.3 C96.0,178.9 93.0,179.4 90.3,180.5 C87.7,181.5 85.1,183.2 82.3,183.5 C79.5,183.9 75.8,183.8 73.3,182.6 C70.7,181.5 68.8,178.7 67.2,176.5 C65.6,174.4 64.4,172.2 63.4,169.9 C62.5,167.6 61.7,165.2 61.7,162.8 C61.6,160.4 62.4,158.1 63.0,155.5 C63.7,153.0 64.1,150.0 65.7,147.7 C67.3,145.3 69.8,142.3 72.5,141.4 C75.3,140.5 79.4,141.4 82.3,142.2 C85.2,142.9 87.5,144.8 89.9,146.0 C92.4,147.2 94.9,148.0 96.8,149.6 C98.8,151.2 100.5,153.3 101.8,155.5 C103.0,157.7 103.8,160.2 104.2,162.8Z" fill="rgb(140,38,105)" filter="url(#grain)"/>
<g filter="url(#bl2)">
<ellipse cx="126.5" cy="83.5" rx="3" ry="2.5" fill="rgb(200,150,180)"/>
</g>
</g></g>
<g clip-path="url(#cp33)">
<rect x="902" y="474.5" width="207.4000000000001" height="208.5" fill="rgb(222,220,212)"/>
<g transform="translate(902,474.5)">
<path d="M56.9,52.4 C56.6,55.6 55.3,58.7 54.1,61.6 C52.9,64.6 51.7,67.6 49.8,70.1 C47.8,72.6 45.2,75.0 42.4,76.4 C39.6,77.8 36.2,78.3 33.0,78.4 C29.8,78.4 26.4,77.9 23.5,76.7 C20.5,75.4 17.6,73.3 15.5,70.9 C13.4,68.4 12.0,65.1 10.9,62.1 C9.8,59.0 9.0,55.7 8.9,52.4 C8.8,49.1 9.2,45.5 10.4,42.5 C11.6,39.6 14.0,37.0 16.3,34.8 C18.5,32.6 21.2,30.9 24.0,29.5 C26.8,28.1 29.9,26.8 33.0,26.5 C36.1,26.3 39.6,26.9 42.5,28.1 C45.5,29.3 48.4,31.4 50.7,33.8 C53.0,36.1 55.1,39.2 56.2,42.3 C57.2,45.4 57.2,49.2 56.9,52.4Z" fill="none" stroke="rgb(222,220,212)" stroke-width="3.2" filter="url(#bl1)"/>
<path d="M56.9,52.4 C56.6,55.6 55.3,58.7 54.1,61.6 C52.9,64.6 51.7,67.6 49.8,70.1 C47.8,72.6 45.2,75.0 42.4,76.4 C39.6,77.8 36.2,78.3 33.0,78.4 C29.8,78.4 26.4,77.9 23.5,76.7 C20.5,75.4 17.6,73.3 15.5,70.9 C13.4,68.4 12.0,65.1 10.9,62.1 C9.8,59.0 9.0,55.7 8.9,52.4 C8.8,49.1 9.2,45.5 10.4,42.5 C11.6,39.6 14.0,37.0 16.3,34.8 C18.5,32.6 21.2,30.9 24.0,29.5 C26.8,28.1 29.9,26.8 33.0,26.5 C36.1,26.3 39.6,26.9 42.5,28.1 C45.5,29.3 48.4,31.4 50.7,33.8 C53.0,36.1 55.1,39.2 56.2,42.3 C57.2,45.4 57.2,49.2 56.9,52.4Z" fill="rgb(142,96,152)" stroke="rgb(196,180,210)" stroke-width="1.4" filter="url(#bl1)"/>
<path d="M53.4,58.0 C53.2,60.1 52.7,61.9 52.1,63.9 C51.5,66.0 51.5,68.8 50.0,70.4 C48.5,72.0 45.6,73.1 43.2,73.5 C40.9,74.0 38.3,73.4 36.0,73.3 C33.7,73.1 31.2,73.4 29.2,72.6 C27.2,71.9 25.3,70.2 24.0,68.7 C22.6,67.2 22.1,65.3 20.9,63.5 C19.8,61.8 17.5,60.1 16.9,58.0 C16.4,55.9 16.4,53.1 17.5,51.2 C18.6,49.3 21.5,48.1 23.4,46.8 C25.4,45.5 27.1,44.2 29.2,43.3 C31.3,42.5 33.8,41.5 36.0,41.7 C38.2,41.8 40.4,43.4 42.4,44.3 C44.4,45.2 46.4,45.9 48.3,47.1 C50.1,48.3 52.6,49.7 53.5,51.6 C54.3,53.4 53.6,55.9 53.4,58.0Z" fill="rgb(172,86,162)" filter="url(#grain)"/>
<path d="M103.3,46.8 C103.3,49.8 102.6,53.0 101.5,55.8 C100.3,58.6 98.7,61.5 96.6,63.7 C94.5,65.8 91.6,67.6 88.8,68.7 C86.0,69.8 82.7,70.2 79.7,70.2 C76.7,70.2 73.4,69.8 70.6,68.7 C67.9,67.6 65.1,65.6 63.1,63.4 C61.1,61.2 59.7,58.3 58.6,55.5 C57.5,52.8 56.7,49.8 56.6,46.8 C56.4,43.8 56.7,40.5 57.7,37.7 C58.8,34.9 60.7,32.1 62.8,29.9 C65.0,27.8 67.7,25.8 70.5,24.6 C73.3,23.4 76.7,22.7 79.7,22.9 C82.7,23.0 85.8,24.3 88.5,25.6 C91.2,26.9 93.7,28.7 95.8,30.7 C97.9,32.7 100.1,35.1 101.4,37.8 C102.6,40.5 103.3,43.8 103.3,46.8Z" fill="none" stroke="rgb(222,220,212)" stroke-width="3.2" filter="url(#bl1)"/>
<path d="M103.3,46.8 C103.3,49.8 102.6,53.0 101.5,55.8 C100.3,58.6 98.7,61.5 96.6,63.7 C94.5,65.8 91.6,67.6 88.8,68.7 C86.0,69.8 82.7,70.2 79.7,70.2 C76.7,70.2 73.4,69.8 70.6,68.7 C67.9,67.6 65.1,65.6 63.1,63.4 C61.1,61.2 59.7,58.3 58.6,55.5 C57.5,52.8 56.7,49.8 56.6,46.8 C56.4,43.8 56.7,40.5 57.7,37.7 C58.8,34.9 60.7,32.1 62.8,29.9 C65.0,27.8 67.7,25.8 70.5,24.6 C73.3,23.4 76.7,22.7 79.7,22.9 C82.7,23.0 85.8,24.3 88.5,25.6 C91.2,26.9 93.7,28.7 95.8,30.7 C97.9,32.7 100.1,35.1 101.4,37.8 C102.6,40.5 103.3,43.8 103.3,46.8Z" fill="rgb(142,96,152)" stroke="rgb(196,180,210)" stroke-width="1.4" filter="url(#bl1)"/>
<path d="M95.0,46.0 C94.7,48.1 93.2,50.0 92.4,52.0 C91.6,54.0 91.1,56.0 90.0,58.0 C88.9,60.1 87.5,63.1 85.5,64.2 C83.5,65.3 80.4,64.8 78.0,64.5 C75.6,64.1 73.6,62.9 71.3,62.1 C69.0,61.3 66.0,61.3 64.1,59.9 C62.3,58.4 60.6,55.7 60.1,53.4 C59.5,51.1 60.3,48.3 60.7,46.0 C61.0,43.7 61.2,41.3 62.1,39.4 C63.1,37.5 64.9,35.9 66.6,34.6 C68.2,33.3 70.2,33.0 72.1,31.7 C74.0,30.4 75.6,27.7 78.0,26.7 C80.4,25.7 84.1,24.9 86.4,25.8 C88.6,26.8 90.3,30.1 91.6,32.4 C92.9,34.6 93.5,37.1 94.1,39.3 C94.6,41.6 95.2,43.9 95.0,46.0Z" fill="rgb(172,86,162)" filter="url(#grain)"/>
<path d="M138.0,67.6 C137.8,70.5 136.9,73.6 135.5,76.1 C134.1,78.7 131.9,81.0 129.6,82.9 C127.2,84.8 124.4,86.3 121.6,87.5 C118.7,88.8 115.5,90.0 112.2,90.3 C108.9,90.7 105.0,90.6 101.9,89.6 C98.8,88.6 95.7,86.4 93.4,84.2 C91.2,82.0 89.5,79.0 88.5,76.3 C87.4,73.5 86.9,70.4 87.0,67.6 C87.1,64.8 88.1,61.8 89.3,59.2 C90.6,56.6 92.3,54.1 94.5,51.9 C96.6,49.8 99.4,47.7 102.3,46.6 C105.3,45.4 108.9,44.9 112.2,45.0 C115.5,45.0 118.9,45.8 121.9,46.8 C125.0,47.9 128.3,49.3 130.7,51.2 C133.2,53.2 135.4,55.9 136.6,58.7 C137.9,61.4 138.2,64.7 138.0,67.6Z" fill="none" stroke="rgb(222,220,212)" stroke-width="3.2" filter="url(#bl1)"/>
<path d="M138.0,67.6 C137.8,70.5 136.9,73.6 135.5,76.1 C134.1,78.7 131.9,81.0 129.6,82.9 C127.2,84.8 124.4,86.3 121.6,87.5 C118.7,88.8 115.5,90.0 112.2,90.3 C108.9,90.7 105.0,90.6 101.9,89.6 C98.8,88.6 95.7,86.4 93.4,84.2 C91.2,82.0 89.5,79.0 88.5,76.3 C87.4,73.5 86.9,70.4 87.0,67.6 C87.1,64.8 88.1,61.8 89.3,59.2 C90.6,56.6 92.3,54.1 94.5,51.9 C96.6,49.8 99.4,47.7 102.3,46.6 C105.3,45.4 108.9,44.9 112.2,45.0 C115.5,45.0 118.9,45.8 121.9,46.8 C125.0,47.9 128.3,49.3 130.7,51.2 C133.2,53.2 135.4,55.9 136.6,58.7 C137.9,61.4 138.2,64.7 138.0,67.6Z" fill="rgb(142,96,152)" stroke="rgb(196,180,210)" stroke-width="1.4" filter="url(#bl1)"/>
<path d="M125.6,70.0 C125.8,71.9 125.4,74.3 124.3,76.0 C123.3,77.7 120.9,78.9 119.2,80.2 C117.5,81.5 115.9,83.1 113.9,83.8 C111.8,84.6 109.2,85.1 107.0,84.9 C104.8,84.6 103.0,83.0 100.9,82.3 C98.8,81.5 96.7,81.3 94.5,80.4 C92.4,79.4 89.3,78.2 88.1,76.5 C87.0,74.8 87.4,72.0 87.7,70.0 C88.1,68.0 89.3,66.0 90.4,64.3 C91.5,62.5 92.6,60.6 94.3,59.4 C96.1,58.3 98.7,58.1 100.8,57.6 C102.9,57.1 104.7,56.9 107.0,56.4 C109.3,56.0 112.1,54.7 114.4,55.1 C116.7,55.5 119.1,57.1 120.6,58.7 C122.0,60.2 122.3,62.5 123.2,64.4 C124.0,66.3 125.4,68.1 125.6,70.0Z" fill="rgb(172,86,162)" filter="url(#grain)"/>
<path d="M98.7,85.4 C99.1,88.3 98.8,91.7 97.3,94.6 C95.9,97.5 92.8,100.2 90.0,102.7 C87.1,105.1 83.8,107.1 80.3,109.1 C76.7,111.0 72.7,113.3 68.5,114.3 C64.3,115.3 59.2,115.6 55.0,115.2 C50.8,114.8 46.8,113.3 43.3,111.7 C39.8,110.2 36.2,108.3 34.0,105.9 C31.8,103.6 30.3,100.4 30.0,97.5 C29.8,94.5 31.0,91.3 32.4,88.3 C33.7,85.3 35.4,82.3 38.1,79.7 C40.7,77.2 44.3,74.6 48.1,73.0 C51.9,71.3 56.4,70.6 60.7,69.8 C65.0,69.0 69.3,68.4 73.6,68.4 C78.0,68.5 83.0,68.8 86.6,70.1 C90.2,71.5 93.3,74.2 95.3,76.7 C97.3,79.2 98.4,82.4 98.7,85.4Z" fill="none" stroke="rgb(222,220,212)" stroke-width="3.2" filter="url(#bl1)"/>
<path d="M98.7,85.4 C99.1,88.3 98.8,91.7 97.3,94.6 C95.9,97.5 92.8,100.2 90.0,102.7 C87.1,105.1 83.8,107.1 80.3,109.1 C76.7,111.0 72.7,113.3 68.5,114.3 C64.3,115.3 59.2,115.6 55.0,115.2 C50.8,114.8 46.8,113.3 43.3,111.7 C39.8,110.2 36.2,108.3 34.0,105.9 C31.8,103.6 30.3,100.4 30.0,97.5 C29.8,94.5 31.0,91.3 32.4,88.3 C33.7,85.3 35.4,82.3 38.1,79.7 C40.7,77.2 44.3,74.6 48.1,73.0 C51.9,71.3 56.4,70.6 60.7,69.8 C65.0,69.0 69.3,68.4 73.6,68.4 C78.0,68.5 83.0,68.8 86.6,70.1 C90.2,71.5 93.3,74.2 95.3,76.7 C97.3,79.2 98.4,82.4 98.7,85.4Z" fill="rgb(142,96,152)" stroke="rgb(196,180,210)" stroke-width="1.4" filter="url(#bl1)"/>
<path d="M90.7,85.7 C90.2,87.8 89.9,89.8 88.8,91.7 C87.7,93.6 86.1,95.5 84.1,97.2 C82.2,98.8 79.7,100.0 77.2,101.6 C74.6,103.2 72.1,105.4 68.9,106.5 C65.7,107.6 61.1,108.6 57.9,108.3 C54.6,108.0 51.9,106.0 49.5,104.7 C47.0,103.3 44.9,101.9 43.2,100.3 C41.5,98.6 39.4,96.7 39.3,94.7 C39.1,92.7 40.9,90.2 42.3,88.2 C43.7,86.2 45.6,84.5 47.5,82.7 C49.5,80.9 51.4,78.9 54.1,77.6 C56.7,76.3 60.2,75.8 63.4,75.1 C66.6,74.5 69.7,74.0 73.2,73.7 C76.8,73.5 81.6,72.7 84.6,73.5 C87.6,74.3 90.3,76.5 91.3,78.6 C92.4,80.6 91.1,83.5 90.7,85.7Z" fill="rgb(172,86,162)" filter="url(#grain)"/>
<path d="M140.0,108.3 C140.1,110.9 139.4,113.8 138.0,116.1 C136.6,118.3 133.9,120.0 131.7,121.7 C129.4,123.3 127.1,124.6 124.5,125.7 C121.9,126.8 119.0,128.2 116.0,128.5 C113.0,128.8 109.6,128.3 106.7,127.4 C103.8,126.5 101.0,124.8 98.7,123.0 C96.5,121.1 94.4,118.7 93.4,116.3 C92.4,113.8 92.5,110.8 92.9,108.3 C93.2,105.8 94.4,103.4 95.5,101.1 C96.6,98.7 97.6,96.2 99.6,94.3 C101.5,92.4 104.2,90.7 106.9,89.7 C109.7,88.8 113.0,88.6 116.0,88.6 C119.0,88.6 122.2,88.8 125.1,89.6 C127.9,90.5 130.9,91.9 133.1,93.8 C135.2,95.6 136.8,98.1 137.9,100.6 C139.1,103.0 140.0,105.7 140.0,108.3Z" fill="none" stroke="rgb(222,220,212)" stroke-width="3.2" filter="url(#bl1)"/>
<path d="M140.0,108.3 C140.1,110.9 139.4,113.8 138.0,116.1 C136.6,118.3 133.9,120.0 131.7,121.7 C129.4,123.3 127.1,124.6 124.5,125.7 C121.9,126.8 119.0,128.2 116.0,128.5 C113.0,128.8 109.6,128.3 106.7,127.4 C103.8,126.5 101.0,124.8 98.7,123.0 C96.5,121.1 94.4,118.7 93.4,116.3 C92.4,113.8 92.5,110.8 92.9,108.3 C93.2,105.8 94.4,103.4 95.5,101.1 C96.6,98.7 97.6,96.2 99.6,94.3 C101.5,92.4 104.2,90.7 106.9,89.7 C109.7,88.8 113.0,88.6 116.0,88.6 C119.0,88.6 122.2,88.8 125.1,89.6 C127.9,90.5 130.9,91.9 133.1,93.8 C135.2,95.6 136.8,98.1 137.9,100.6 C139.1,103.0 140.0,105.7 140.0,108.3Z" fill="rgb(142,96,152)" stroke="rgb(196,180,210)" stroke-width="1.4" filter="url(#bl1)"/>
<path d="M126.0,108.0 C125.6,109.7 125.1,110.9 124.6,112.6 C124.1,114.2 124.3,116.3 123.3,117.9 C122.3,119.4 120.5,121.1 118.6,122.0 C116.7,122.8 114.2,123.2 112.0,123.2 C109.8,123.1 107.3,122.7 105.5,121.8 C103.7,120.8 102.2,119.1 101.0,117.6 C99.8,116.2 99.2,114.6 98.3,113.0 C97.5,111.4 96.2,109.7 96.0,108.0 C95.7,106.3 96.1,104.1 97.0,102.6 C97.9,101.0 99.9,99.9 101.4,98.7 C102.9,97.6 104.4,96.5 106.1,95.6 C107.9,94.7 109.9,93.7 112.0,93.5 C114.1,93.2 116.5,93.5 118.5,94.2 C120.6,94.8 122.9,95.8 124.4,97.2 C125.8,98.5 127.0,100.6 127.3,102.4 C127.6,104.3 126.5,106.3 126.0,108.0Z" fill="rgb(172,86,162)" filter="url(#grain)"/>
<path d="M65.8,130.0 C65.6,132.2 64.8,134.3 64.0,136.3 C63.2,138.3 62.3,140.2 61.0,141.9 C59.8,143.6 58.1,145.2 56.4,146.2 C54.6,147.2 52.3,147.7 50.3,147.8 C48.3,147.8 46.0,147.5 44.1,146.6 C42.2,145.7 40.3,144.2 39.0,142.6 C37.6,140.9 36.7,138.7 36.0,136.6 C35.3,134.5 34.9,132.2 34.8,130.0 C34.8,127.8 35.0,125.4 35.8,123.3 C36.6,121.3 38.0,119.4 39.4,117.9 C40.9,116.4 42.6,115.3 44.5,114.3 C46.3,113.4 48.3,112.6 50.3,112.5 C52.3,112.4 54.6,112.7 56.5,113.5 C58.4,114.3 60.3,115.7 61.7,117.3 C63.2,118.9 64.6,121.0 65.3,123.1 C65.9,125.2 66.0,127.8 65.8,130.0Z" fill="none" stroke="rgb(222,220,212)" stroke-width="3.2" filter="url(#bl1)"/>
<path d="M65.8,130.0 C65.6,132.2 64.8,134.3 64.0,136.3 C63.2,138.3 62.3,140.2 61.0,141.9 C59.8,143.6 58.1,145.2 56.4,146.2 C54.6,147.2 52.3,147.7 50.3,147.8 C48.3,147.8 46.0,147.5 44.1,146.6 C42.2,145.7 40.3,144.2 39.0,142.6 C37.6,140.9 36.7,138.7 36.0,136.6 C35.3,134.5 34.9,132.2 34.8,130.0 C34.8,127.8 35.0,125.4 35.8,123.3 C36.6,121.3 38.0,119.4 39.4,117.9 C40.9,116.4 42.6,115.3 44.5,114.3 C46.3,113.4 48.3,112.6 50.3,112.5 C52.3,112.4 54.6,112.7 56.5,113.5 C58.4,114.3 60.3,115.7 61.7,117.3 C63.2,118.9 64.6,121.0 65.3,123.1 C65.9,125.2 66.0,127.8 65.8,130.0Z" fill="rgb(142,96,152)" stroke="rgb(196,180,210)" stroke-width="1.4" filter="url(#bl1)"/>
<path d="M60.5,130.0 C60.6,131.6 60.6,133.6 59.9,134.9 C59.3,136.3 57.9,137.2 56.8,138.2 C55.8,139.2 54.9,140.1 53.8,140.9 C52.6,141.7 51.2,142.9 50.0,142.9 C48.8,142.8 47.4,141.6 46.3,140.7 C45.2,139.9 44.5,138.7 43.6,137.6 C42.7,136.6 41.5,135.8 40.9,134.5 C40.3,133.3 40.0,131.5 40.0,130.0 C39.9,128.5 40.2,126.9 40.5,125.3 C40.9,123.7 41.1,121.6 42.0,120.4 C42.9,119.2 44.6,118.5 46.0,118.4 C47.3,118.2 48.7,119.2 50.0,119.4 C51.3,119.7 52.4,119.4 53.6,119.7 C54.7,120.0 56.2,120.5 57.1,121.5 C58.0,122.5 58.5,124.1 59.0,125.5 C59.6,126.9 60.3,128.4 60.5,130.0Z" fill="rgb(172,86,162)" filter="url(#grain)"/>
<path d="M100.9,124.8 C100.7,127.6 100.1,130.5 99.1,133.1 C98.1,135.6 96.7,138.2 94.9,140.1 C93.2,142.0 90.9,143.5 88.7,144.6 C86.5,145.6 83.9,146.5 81.5,146.6 C79.1,146.6 76.3,146.2 74.1,145.1 C71.9,143.9 69.9,141.8 68.3,139.8 C66.7,137.8 65.3,135.4 64.3,132.9 C63.2,130.4 62.2,127.6 62.0,124.8 C61.8,122.0 62.3,118.8 63.2,116.2 C64.2,113.6 65.9,111.1 67.8,109.2 C69.6,107.3 71.9,105.6 74.2,104.8 C76.5,103.9 79.1,103.8 81.5,103.9 C83.9,104.0 86.2,104.7 88.5,105.6 C90.8,106.5 93.2,107.5 95.1,109.3 C97.0,111.1 98.9,113.6 99.9,116.2 C100.8,118.7 101.0,122.0 100.9,124.8Z" fill="none" stroke="rgb(222,220,212)" stroke-width="3.2" filter="url(#bl1)"/>
<path d="M100.9,124.8 C100.7,127.6 100.1,130.5 99.1,133.1 C98.1,135.6 96.7,138.2 94.9,140.1 C93.2,142.0 90.9,143.5 88.7,144.6 C86.5,145.6 83.9,146.5 81.5,146.6 C79.1,146.6 76.3,146.2 74.1,145.1 C71.9,143.9 69.9,141.8 68.3,139.8 C66.7,137.8 65.3,135.4 64.3,132.9 C63.2,130.4 62.2,127.6 62.0,124.8 C61.8,122.0 62.3,118.8 63.2,116.2 C64.2,113.6 65.9,111.1 67.8,109.2 C69.6,107.3 71.9,105.6 74.2,104.8 C76.5,103.9 79.1,103.8 81.5,103.9 C83.9,104.0 86.2,104.7 88.5,105.6 C90.8,106.5 93.2,107.5 95.1,109.3 C97.0,111.1 98.9,113.6 99.9,116.2 C100.8,118.7 101.0,122.0 100.9,124.8Z" fill="rgb(142,96,152)" stroke="rgb(196,180,210)" stroke-width="1.4" filter="url(#bl1)"/>
<path d="M92.9,122.0 C92.9,123.9 92.9,125.5 92.7,127.6 C92.5,129.7 92.7,132.7 91.7,134.4 C90.7,136.1 88.5,137.5 86.7,137.9 C84.9,138.3 82.7,137.2 81.0,136.6 C79.3,136.1 77.8,135.5 76.5,134.6 C75.2,133.7 74.1,132.4 73.0,131.2 C72.0,129.9 71.3,128.6 70.3,127.1 C69.3,125.6 67.5,124.0 66.9,122.0 C66.4,120.0 66.3,117.2 67.1,115.4 C67.9,113.6 70.1,112.4 71.6,111.2 C73.1,110.0 74.5,109.1 76.1,108.4 C77.7,107.6 79.4,106.6 81.0,106.7 C82.6,106.7 84.3,107.8 85.8,108.7 C87.2,109.6 88.5,110.7 89.7,111.9 C90.9,113.2 92.2,114.7 92.8,116.4 C93.3,118.0 93.0,120.1 92.9,122.0Z" fill="rgb(172,86,162)" filter="url(#grain)"/>
<path d="M122.3,148.2 C122.4,150.8 121.5,153.6 120.4,156.1 C119.4,158.5 117.8,160.9 116.0,162.9 C114.1,164.9 111.9,167.0 109.4,168.0 C106.9,169.1 103.8,169.5 101.0,169.4 C98.2,169.3 95.4,168.6 92.8,167.5 C90.3,166.5 87.5,165.2 85.6,163.3 C83.7,161.4 82.3,158.6 81.5,156.1 C80.7,153.6 80.7,150.8 80.8,148.2 C80.8,145.6 80.8,142.8 81.7,140.3 C82.5,137.9 83.9,135.2 85.7,133.2 C87.6,131.3 90.2,129.8 92.7,128.7 C95.3,127.5 98.2,126.6 101.0,126.5 C103.8,126.5 106.9,127.1 109.4,128.3 C111.8,129.6 113.8,131.8 115.6,133.9 C117.4,135.9 118.9,138.1 120.1,140.5 C121.2,142.8 122.2,145.6 122.3,148.2Z" fill="none" stroke="rgb(222,220,212)" stroke-width="3.2" filter="url(#bl1)"/>
<path d="M122.3,148.2 C122.4,150.8 121.5,153.6 120.4,156.1 C119.4,158.5 117.8,160.9 116.0,162.9 C114.1,164.9 111.9,167.0 109.4,168.0 C106.9,169.1 103.8,169.5 101.0,169.4 C98.2,169.3 95.4,168.6 92.8,167.5 C90.3,166.5 87.5,165.2 85.6,163.3 C83.7,161.4 82.3,158.6 81.5,156.1 C80.7,153.6 80.7,150.8 80.8,148.2 C80.8,145.6 80.8,142.8 81.7,140.3 C82.5,137.9 83.9,135.2 85.7,133.2 C87.6,131.3 90.2,129.8 92.7,128.7 C95.3,127.5 98.2,126.6 101.0,126.5 C103.8,126.5 106.9,127.1 109.4,128.3 C111.8,129.6 113.8,131.8 115.6,133.9 C117.4,135.9 118.9,138.1 120.1,140.5 C121.2,142.8 122.2,145.6 122.3,148.2Z" fill="rgb(142,96,152)" stroke="rgb(196,180,210)" stroke-width="1.4" filter="url(#bl1)"/>
<path d="M116.7,144.0 C116.8,145.8 117.1,147.9 116.3,149.6 C115.6,151.2 113.9,152.9 112.3,153.9 C110.7,154.9 108.4,155.2 106.6,155.8 C104.7,156.3 103.0,157.0 101.0,157.3 C99.0,157.6 96.6,158.0 94.6,157.5 C92.5,157.1 90.4,156.0 88.8,154.7 C87.2,153.4 85.7,151.6 85.0,149.8 C84.4,148.0 84.4,145.8 84.9,144.0 C85.4,142.2 86.9,140.7 87.9,139.3 C88.9,137.8 89.7,136.5 90.8,135.1 C91.9,133.7 93.0,131.7 94.7,130.7 C96.4,129.7 98.9,129.1 101.0,129.1 C103.1,129.1 105.4,129.9 107.3,130.7 C109.2,131.5 111.2,132.6 112.5,133.9 C113.9,135.3 114.8,137.0 115.5,138.7 C116.2,140.4 116.6,142.2 116.7,144.0Z" fill="rgb(172,86,162)" filter="url(#grain)"/>
<path d="M165.0,134.8 C164.7,138.1 163.6,141.3 162.5,144.4 C161.4,147.5 160.3,150.9 158.3,153.5 C156.3,156.0 153.4,158.4 150.5,159.7 C147.6,161.0 144.0,161.3 140.8,161.3 C137.6,161.3 134.1,161.0 131.1,159.7 C128.2,158.5 125.1,156.4 122.9,153.9 C120.7,151.4 119.3,148.0 118.2,144.8 C117.0,141.6 116.0,138.2 116.0,134.8 C115.9,131.4 116.4,127.6 117.7,124.6 C119.0,121.6 121.6,119.0 124.0,116.8 C126.3,114.6 128.8,112.6 131.6,111.1 C134.4,109.6 137.6,107.9 140.8,107.6 C144.0,107.4 147.6,108.3 150.6,109.6 C153.5,111.0 156.4,113.2 158.7,115.7 C161.0,118.1 163.2,121.2 164.3,124.4 C165.3,127.6 165.3,131.5 165.0,134.8Z" fill="none" stroke="rgb(222,220,212)" stroke-width="3.2" filter="url(#bl1)"/>
<path d="M165.0,134.8 C164.7,138.1 163.6,141.3 162.5,144.4 C161.4,147.5 160.3,150.9 158.3,153.5 C156.3,156.0 153.4,158.4 150.5,159.7 C147.6,161.0 144.0,161.3 140.8,161.3 C137.6,161.3 134.1,161.0 131.1,159.7 C128.2,158.5 125.1,156.4 122.9,153.9 C120.7,151.4 119.3,148.0 118.2,144.8 C117.0,141.6 116.0,138.2 116.0,134.8 C115.9,131.4 116.4,127.6 117.7,124.6 C119.0,121.6 121.6,119.0 124.0,116.8 C126.3,114.6 128.8,112.6 131.6,111.1 C134.4,109.6 137.6,107.9 140.8,107.6 C144.0,107.4 147.6,108.3 150.6,109.6 C153.5,111.0 156.4,113.2 158.7,115.7 C161.0,118.1 163.2,121.2 164.3,124.4 C165.3,127.6 165.3,131.5 165.0,134.8Z" fill="rgb(142,96,152)" stroke="rgb(196,180,210)" stroke-width="1.4" filter="url(#bl1)"/>
<path d="M157.1,132.0 C157.7,134.3 158.3,137.4 157.7,139.7 C157.0,142.0 155.0,144.1 153.2,146.0 C151.5,147.8 149.6,149.7 147.4,150.8 C145.2,151.8 142.3,152.5 140.0,152.0 C137.7,151.6 135.7,149.3 133.7,148.1 C131.7,146.8 130.1,145.8 128.2,144.4 C126.4,143.0 123.8,141.6 122.8,139.5 C121.8,137.5 122.0,134.4 122.2,132.0 C122.4,129.6 123.3,127.4 124.0,125.0 C124.8,122.7 125.2,119.8 126.6,117.9 C128.1,116.0 130.6,114.6 132.9,113.8 C135.1,113.0 137.6,113.0 140.0,112.9 C142.4,112.8 145.2,112.4 147.3,113.3 C149.4,114.3 151.4,116.7 152.6,118.7 C153.7,120.8 153.5,123.5 154.3,125.8 C155.0,128.0 156.6,129.7 157.1,132.0Z" fill="rgb(172,86,162)" filter="url(#grain)"/>
<g filter="url(#bl2)">
</g>
</g></g>
<rect x="466.75" y="231.9" width="66.25" height="2.2" fill="#000"/>
<text x="481.6" y="225.4" font-size="15" text-anchor="start" fill="#000" font-weight="normal" font-style="normal" >5 µm</text>
<text x="566.1" y="23.6" font-size="18.2" text-anchor="middle" fill="#111" font-weight="normal" font-style="normal" >Baseline</text>
<text x="785.6" y="23.6" font-size="18.2" text-anchor="middle" fill="#111" font-weight="normal" font-style="normal" >No E2 2d</text>
<text x="1005.3" y="23.6" font-size="18.2" text-anchor="middle" fill="#111" font-weight="normal" font-style="normal" >No E2 4d</text>
<text x="456.8" y="19.3" font-size="25.3" text-anchor="start" fill="#000" font-weight="bold" font-style="normal" >b</text>
<text x="1117.0" y="140.3" font-size="16" text-anchor="start" fill="#111" font-weight="normal" font-style="normal" >WT</text>
<text x="1117.0" y="361.5" font-size="16" text-anchor="start" fill="#111" font-weight="normal" font-style="normal" >Ts1Rhr</text>
<text x="1117.0" y="583.7" font-size="16" text-anchor="start" fill="#111" font-weight="normal" font-style="normal" >HMGN1-OE</text>
<defs>
<filter id="bb1" x="-20%" y="-50%" width="140%" height="200%"><feGaussianBlur stdDeviation="1.5"/></filter>
<filter id="bb2" x="-20%" y="-50%" width="140%" height="200%"><feGaussianBlur stdDeviation="2.5"/></filter>
<clipPath id="cb1"><rect x="103.7" y="1350.2" width="234.9" height="68.1"/></clipPath>
<clipPath id="cb2"><rect x="103.7" y="1438.3" width="234.9" height="68.2"/></clipPath>
<clipPath id="cb3"><rect x="957.4" y="1007" width="161.5" height="55.4"/></clipPath>
<clipPath id="cb4"><rect x="957.4" y="1074.9" width="161.5" height="55.3"/></clipPath>
</defs>
<rect x="102.7" y="1349.2" width="236.9" height="70.1" fill="rgb(229,229,229)"/>
<g clip-path="url(#cb1)"><g filter="url(#bb1)">
<path d="M136,1375 C150,1374 165,1374.5 168,1377 C172,1381 171,1387 166,1389.5 C158,1391 145,1390 135,1387.5 C127,1385 127,1376.5 136,1375 Z" fill="#000"/>
<path d="M186,1377.5 C200,1377 218,1377.2 224,1379 C229,1382 229,1388 223,1390.5 C212,1391.5 195,1391.5 185,1390 C177,1388 177,1379 186,1377.5 Z" fill="#000"/>
<ellipse cx="247" cy="1387" rx="13" ry="2.6" fill="rgb(140,140,140)"/>
<ellipse cx="260" cy="1387.3" rx="6" ry="1.8" fill="rgb(190,190,190)"/>
<ellipse cx="309.5" cy="1388.5" rx="12.5" ry="3.1" fill="rgb(95,95,95)"/>
</g></g>
<rect x="103.7" y="1350.2" width="234.9" height="68.1" fill="none" stroke="#000" stroke-width="2"/>
<rect x="102.7" y="1437.3" width="236.9" height="70.2" fill="rgb(222,222,222)"/>
<g clip-path="url(#cb2)">
<rect x="104" y="1438" width="12" height="70" fill="rgb(212,212,212)" filter="url(#bb2)"/>
<g filter="url(#bb1)">
<rect x="122.5" y="1457.5" width="55" height="29.5" rx="14" fill="#000"/>
<rect x="174" y="1459" width="54" height="25" rx="12" fill="#000"/>
<rect x="224.5" y="1459.3" width="53" height="24.7" rx="12" fill="#000"/>
<rect x="150" y="1462" width="130" height="20" fill="#000"/>
<rect x="278" y="1461.5" width="26" height="20" rx="9" fill="#000"/>
<rect x="290" y="1460" width="38" height="24" rx="11" fill="#000"/>
</g></g>
<rect x="103.7" y="1438.3" width="234.9" height="68.2" fill="none" stroke="#000" stroke-width="2"/>
<text x="93.9" y="1390.6" font-size="15.7" text-anchor="end" fill="#111" font-weight="normal" font-style="normal" >HMGN1</text>
<text x="95.0" y="1477.6" font-size="15.7" text-anchor="end" fill="#111" font-weight="normal" font-style="normal" >B-Actin</text>
<line x1="340.40" y1="1362.60" x2="367.20" y2="1362.60" stroke="#000" stroke-width="2" />
<text x="373.7" y="1368.3" font-size="15.7" text-anchor="start" fill="#111" font-weight="normal" font-style="normal" >20 kD</text>
<line x1="340.40" y1="1445.80" x2="367.20" y2="1445.80" stroke="#000" stroke-width="2" />
<text x="373.7" y="1451.9" font-size="15.7" text-anchor="start" fill="#111" font-weight="normal" font-style="normal" >50 kD</text>
<text x="148.7" y="1527.4" font-size="15.5" text-anchor="middle" fill="#111" font-weight="normal" font-style="normal" >#1</text>
<text x="195.5" y="1527.4" font-size="15.5" text-anchor="middle" fill="#111" font-weight="normal" font-style="normal" >#2</text>
<text x="243.4" y="1527.4" font-size="15.5" text-anchor="middle" fill="#111" font-weight="normal" font-style="normal" >#1</text>
<text x="297.0" y="1527.4" font-size="15.5" text-anchor="middle" fill="#111" font-weight="normal" font-style="normal" >#2</text>
<line x1="126.50" y1="1540.00" x2="218.50" y2="1540.00" stroke="#000" stroke-width="2" />
<line x1="228.80" y1="1540.00" x2="320.00" y2="1540.00" stroke="#000" stroke-width="2" />
<text x="172.5" y="1560.0" font-size="15.5" text-anchor="middle" fill="#111" font-weight="normal" font-style="normal" >shControl</text>
<text x="274.0" y="1560.0" font-size="15.5" text-anchor="middle" fill="#111" font-weight="normal" font-style="normal" >shHMGN1</text>
<rect x="956.4" y="1006" width="163.5" height="57.4" fill="rgb(176,176,176)"/>
<g clip-path="url(#cb3)"><g filter="url(#bb1)">
<ellipse cx="1038.5" cy="1036.8" rx="27" ry="9.9" fill="#000"/>
<ellipse cx="1093" cy="1039" rx="28" ry="8.4" fill="#000"/>
<rect x="1085" y="1030.6" width="40" height="16.8" rx="6" fill="#000"/>
</g></g>
<rect x="957.4" y="1007" width="161.5" height="55.4" fill="none" stroke="#000" stroke-width="2"/>
<rect x="956.4" y="1073.9" width="163.5" height="57.3" fill="rgb(178,178,178)"/>
<g clip-path="url(#cb4)">
<g filter="url(#bb2)">
<rect x="957" y="1074" width="60" height="14" fill="rgb(160,160,160)"/>
<ellipse cx="1043" cy="1078.5" rx="15" ry="2.8" fill="rgb(110,110,110)"/>
<ellipse cx="1095" cy="1079" rx="17" ry="2.8" fill="rgb(120,120,120)"/>
<rect x="957" y="1124" width="160" height="7" fill="rgb(150,150,150)"/>
<ellipse cx="1085" cy="1120" rx="20" ry="5" fill="rgb(196,196,196)"/>
</g><g filter="url(#bb1)">
<ellipse cx="990" cy="1103" rx="28" ry="10" fill="#000"/>
<ellipse cx="1042" cy="1101" rx="26" ry="10.8" fill="#000"/>
<ellipse cx="1095" cy="1104" rx="30" ry="7" fill="#000"/>
<rect x="975" y="1096" width="150" height="15" rx="6" fill="#000"/>
</g></g>
<rect x="957.4" y="1074.9" width="161.5" height="55.3" fill="none" stroke="#000" stroke-width="2"/>
<text x="948.7" y="1040.9" font-size="15.7" text-anchor="end" fill="#111" font-weight="normal" font-style="normal" >Flag (HMGN1)</text>
<text x="948.7" y="1107.2" font-size="15.7" text-anchor="end" fill="#111" font-weight="normal" font-style="normal" >Histone H3</text>
<line x1="1119.90" y1="1017.80" x2="1147.00" y2="1017.80" stroke="#000" stroke-width="2" />
<text x="1153.8" y="1022.4" font-size="15.7" text-anchor="start" fill="#111" font-weight="normal" font-style="normal" >20 kD</text>
<line x1="1119.90" y1="1116.40" x2="1147.00" y2="1116.40" stroke="#000" stroke-width="2" />
<text x="1153.8" y="1121.0" font-size="15.7" text-anchor="start" fill="#111" font-weight="normal" font-style="normal" >15 kD</text>
<text x="0" y="0" font-size="15.4" text-anchor="end" fill="#111" transform="translate(993,1147.5) rotate(-40)">Empty vector</text>
<text x="0" y="0" font-size="15.4" text-anchor="end" fill="#111" transform="translate(1050,1146) rotate(-40)">HMGN1-WT</text>
<text x="0" y="0" font-size="15.4" text-anchor="end" fill="#111" transform="translate(1104,1146) rotate(-40)">HMGN1-SEmut</text>
</svg></body></html>
